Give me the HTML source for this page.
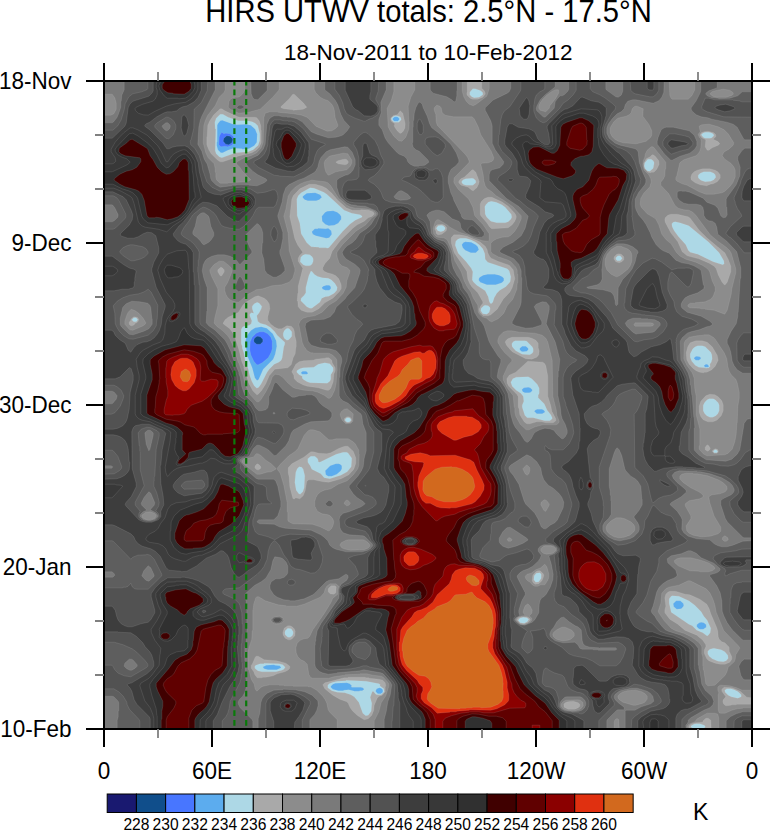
<!DOCTYPE html>
<html><head><meta charset="utf-8"><title>HIRS UTWV</title>
<style>html,body{margin:0;padding:0;background:#fff}svg{display:block}text{font-family:"Liberation Sans",sans-serif;fill:#000}</style></head><body>
<svg width="771" height="830" viewBox="0 0 771 830">
<rect width="771" height="830" fill="#fff"/>
<text transform="translate(428.5,22) scale(0.957,1)" font-size="30.5" text-anchor="middle">HIRS UTWV totals: 2.5°N - 17.5°N</text>
<text x="428.2" y="59.7" font-size="22.5" text-anchor="middle">18-Nov-2011 to 10-Feb-2012</text>
<g clip-path="url(#pc)"><clipPath id="pc"><rect x="104" y="81" width="648" height="648"/></clipPath>
<rect x="104" y="81" width="648" height="648" fill="#104E8B"/>
<path fill="#4876FF" fill-rule="evenodd" stroke="#d8d8d8" stroke-opacity="0.22" stroke-width="0.6" d="M104.2,81.2 104.2,728.8 751.8,728.8 751.8,81.2ZM256.2,336.8 257.8,336.2 260.2,336.8 262.8,339.2 262.8,341.8 260.2,344.2 256.8,344.2 254.2,342.2 253.8,340.8 254.2,338.8ZM226.8,135.8 230.2,136.2 232.2,138.2 232.8,139.8 231.8,142.8 228.8,144.8 225.8,144.2 223.2,141.2 223.8,138.2Z"/>
<path fill="#5CACEE" fill-rule="evenodd" stroke="#d8d8d8" stroke-opacity="0.22" stroke-width="0.6" d="M104.2,81.2 104.2,728.8 751.8,728.8 751.8,81.2ZM263.8,331.8 267.8,333.8 270.8,337.2 272.2,341.2 272.2,348.8 271.2,352.2 268.2,357.8 262.2,362.8 258.2,364.8 256.8,364.8 253.8,361.2 250.8,354.8 249.8,349.8 250.2,341.8 252.2,337.2 256.2,333.2 259.8,331.8ZM221.8,132.2 223.8,133.8 225.8,133.2 229.8,133.8 233.2,136.2 234.2,138.2 234.2,142.2 231.8,145.2 227.8,146.8 225.2,146.2 220.8,146.8 218.8,144.8 219.2,137.2 219.8,135.2Z"/>
<path fill="#ADD8E6" fill-rule="evenodd" stroke="#d8d8d8" stroke-opacity="0.22" stroke-width="0.6" d="M104.2,81.2 104.2,728.8 751.8,728.8 751.8,81.2ZM376.8,688.8 379.2,687.8 381.2,688.2 382.8,689.8 382.8,692.2 380.8,693.8 377.8,693.8 375.8,691.8 375.8,690.2ZM330.8,686.2 332.8,684.2 335.2,683.2 346.8,682.8 349.8,683.8 351.8,685.8 351.2,686.8 351.8,687.2 360.8,687.2 362.8,687.8 364.2,689.2 362.2,690.8 359.8,690.8 359.2,691.2 354.8,691.2 348.8,689.8 343.8,690.2 343.2,690.8 338.2,690.8 332.8,689.2 330.8,687.2ZM263.2,666.8 266.2,665.2 274.2,664.8 274.8,665.2 279.8,665.8 281.2,667.8 276.8,669.8 267.8,669.8 264.2,668.8 263.2,667.8ZM696.8,624.8 699.2,622.8 701.2,622.2 703.8,622.8 706.2,624.8 706.2,627.2 703.2,629.2 700.2,629.2 698.8,628.8 696.8,626.8ZM673.2,603.8 676.2,600.8 680.2,600.8 683.2,603.2 683.8,605.2 683.2,606.8 681.2,608.8 676.8,609.2 673.8,606.8ZM341.8,465.8 341.8,468.8 340.8,470.8 336.8,474.2 331.8,476.2 328.2,476.2 325.8,474.8 325.2,470.8 330.2,465.8 335.8,463.8 338.8,463.8 340.2,464.2ZM534.2,411.2 535.8,409.8 537.2,409.2 541.8,409.2 543.2,409.8 544.8,411.2 544.8,412.2 542.2,413.8 536.8,413.8ZM521.8,389.8 523.8,387.8 528.2,387.2 530.2,387.8 532.2,389.8 532.2,390.8 530.8,392.2 529.2,392.8 524.8,392.8 522.8,391.8ZM301.2,372.2 302.8,371.2 306.2,371.2 308.2,373.2 306.8,374.2 302.2,374.2 301.2,373.2ZM703.8,365.8 705.8,364.2 707.2,364.2 709.2,366.2 707.8,367.2 705.2,367.2ZM693.8,358.2 695.2,356.8 696.8,356.2 699.8,356.8 700.8,357.8 700.8,358.8 698.8,360.2 695.8,360.2ZM519.8,348.2 522.2,346.2 525.8,346.2 528.2,348.2 528.2,349.8 526.8,351.2 522.8,351.8 521.2,351.2 519.8,349.8ZM261.2,326.8 266.8,328.2 272.8,333.8 276.2,340.8 276.8,346.2 275.2,354.2 273.2,359.2 263.2,369.2 258.8,379.2 257.8,380.2 256.8,380.2 254.8,377.8 252.2,367.8 247.2,355.8 245.2,342.2 246.2,337.8 248.2,333.8 251.2,330.2 255.2,327.8ZM321.8,287.8 323.2,286.2 326.2,285.2 329.2,285.2 330.8,286.8 330.8,288.8 329.2,290.2 325.2,290.2 322.8,289.2ZM478.8,278.8 479.8,277.2 483.2,275.2 487.8,274.2 494.8,274.2 499.2,275.2 502.2,276.8 503.8,278.2 503.8,280.8 501.8,282.8 495.8,284.8 486.8,284.8 480.2,282.2 478.8,280.2ZM461.8,244.8 463.2,242.8 465.2,241.8 471.2,242.2 475.8,244.8 477.8,246.8 478.8,249.8 475.8,252.8 470.8,252.8 465.2,250.2 462.8,247.8ZM311.8,231.8 314.8,228.8 317.8,228.8 318.2,228.2 325.8,228.8 328.2,228.2 331.2,230.8 331.8,234.2 329.2,237.8 326.2,238.2 315.8,235.8 312.8,234.2ZM321.8,216.2 325.2,212.2 327.2,211.2 333.2,210.8 337.2,212.2 340.2,214.8 341.2,216.8 341.2,219.2 338.2,223.2 334.2,225.2 328.8,225.8 325.2,224.2 322.2,221.2ZM302.8,196.2 306.8,193.2 315.2,192.8 320.2,194.8 321.8,197.2 319.2,199.8 316.2,200.8 307.8,200.8 304.8,199.8 302.8,197.8ZM217.8,123.8 220.2,120.8 222.2,120.2 233.2,124.2 235.8,124.2 236.2,124.8 245.8,124.2 250.8,125.2 255.2,129.2 257.2,134.2 256.8,142.2 254.2,145.8 248.8,148.8 242.2,149.2 241.8,148.8 233.8,148.2 227.8,150.2 222.8,152.8 220.8,152.8 217.8,149.8 216.8,145.8 216.8,142.2 217.2,141.8 217.2,125.2ZM392.8,118.2 394.8,116.8 397.2,116.8 399.2,118.2 399.2,119.8 397.8,121.2 394.2,121.2 392.8,119.8Z"/>
<path fill="#A9A9A9" fill-rule="evenodd" stroke="#d8d8d8" stroke-opacity="0.22" stroke-width="0.6" d="M104.2,81.2 104.2,728.8 693.2,728.8 690.8,726.8 691.2,725.8 693.8,724.2 696.2,723.8 699.8,723.8 704.2,725.2 705.2,726.2 705.2,727.2 702.8,728.8 751.8,728.8 751.8,81.2ZM724.8,690.2 726.8,688.8 730.8,688.8 734.2,689.8 738.2,691.8 741.2,694.8 741.2,696.8 737.8,698.2 731.2,696.8 728.2,695.2 725.2,692.2ZM327.8,685.2 329.2,683.8 332.8,682.2 337.2,681.2 345.8,680.8 346.2,680.2 366.2,681.2 379.2,683.8 380.2,684.8 379.8,685.8 383.8,688.8 384.2,691.8 381.2,694.8 377.2,694.8 375.8,694.2 373.2,691.2 372.2,691.8 370.2,697.2 371.8,703.2 371.2,711.2 368.2,715.2 365.8,715.8 362.8,713.2 358.8,702.2 354.2,696.8 350.8,694.8 344.8,692.8 337.2,692.2 331.8,690.8 327.8,687.8ZM254.8,668.2 254.8,666.2 255.8,665.2 260.2,663.8 263.8,663.8 264.2,663.2 279.2,663.8 282.8,664.8 285.2,667.2 283.8,669.2 281.8,670.2 275.8,671.8 261.8,671.8 257.8,670.8ZM707.8,651.2 709.8,649.2 713.8,648.2 721.2,649.8 724.8,651.8 727.8,655.2 728.2,658.2 726.2,660.8 723.2,661.8 718.2,661.2 712.2,658.8 709.2,656.2 707.8,653.8ZM287.8,628.2 291.2,628.8 293.2,631.8 293.2,633.8 292.2,635.8 290.2,637.2 287.8,637.2 285.2,634.8 284.8,632.8 285.2,630.8ZM518.2,620.2 519.8,618.2 523.2,617.2 526.8,617.8 528.8,619.2 527.2,621.8 524.2,623.2 520.2,622.8ZM671.2,596.2 672.2,595.8 678.8,596.2 688.8,600.8 694.8,605.2 701.2,611.8 703.8,616.2 707.2,620.2 710.8,628.2 710.2,632.8 707.8,635.8 706.8,635.8 702.8,632.8 696.8,630.2 692.2,625.8 688.8,624.2 671.2,612.2 669.2,603.2 669.2,598.8ZM539.8,572.8 541.2,574.2 541.2,578.2 538.8,581.8 535.8,582.2 533.8,579.8 534.2,575.8 536.2,573.2ZM299.2,466.8 301.8,467.2 303.2,469.2 304.8,475.8 304.2,487.8 302.8,491.8 300.2,494.2 298.8,493.8 296.2,490.2 294.8,482.2 295.8,472.2 297.2,468.8ZM351.8,458.2 351.2,466.8 347.2,471.8 340.8,475.2 329.8,478.8 324.2,477.8 320.8,473.8 311.8,469.2 310.2,465.8 307.8,462.2 307.8,458.8 310.8,456.2 314.8,456.2 317.2,458.2 318.2,460.2 318.2,461.8 319.8,462.2 336.2,454.2 343.2,452.2 346.8,452.2 348.2,453.2ZM713.2,451.2 714.8,449.8 716.2,449.8 717.8,451.2 716.8,452.8 714.2,452.8ZM345.2,419.2 346.8,417.8 349.2,417.8 350.8,419.2 350.8,420.8 348.8,422.2 347.2,422.2 345.2,420.8ZM709.2,398.8 713.2,398.8 715.2,399.8 718.2,402.8 719.2,405.2 719.2,410.8 717.8,413.8 715.8,415.8 712.8,417.2 709.8,417.2 706.8,415.8 704.8,413.8 703.2,410.8 703.2,405.2 704.8,402.2 707.2,399.8ZM512.8,378.8 516.2,377.2 528.2,376.8 531.8,378.8 537.2,384.2 539.2,388.2 539.2,393.2 538.2,395.2 538.2,397.8 544.2,403.8 547.2,410.2 550.8,414.8 552.2,417.8 552.2,418.8 549.8,420.8 544.8,420.8 533.2,417.8 527.2,417.8 524.8,415.2 522.2,407.2 522.2,405.2 523.8,401.2 523.2,396.2 520.8,393.2 516.2,390.2 512.2,386.2 510.8,382.2ZM333.2,367.8 333.2,370.8 330.8,374.8 330.8,379.2 329.8,381.2 327.2,383.2 310.2,382.8 307.2,381.8 303.8,379.8 302.2,378.2 302.2,376.2 299.2,374.8 296.8,372.2 296.8,370.8 299.8,368.8 303.2,367.8 313.8,367.2 318.2,364.2 324.8,362.8 329.8,363.8ZM695.2,346.8 697.8,345.8 702.2,345.8 705.2,346.8 710.8,352.2 711.8,354.8 712.2,358.8 711.2,362.2 709.8,364.2 710.2,366.2 708.8,367.8 705.8,368.2 705.2,367.8 698.8,367.2 695.2,365.2 691.8,361.2 690.2,357.2 690.2,353.8 692.8,348.8ZM511.8,343.8 513.2,341.8 515.2,340.8 524.8,340.8 526.8,341.2 532.2,346.8 533.2,348.8 533.2,351.8 532.2,353.2 529.8,354.8 522.2,354.2 515.8,350.8 512.2,346.8ZM287.8,328.2 289.2,328.8 291.8,331.8 291.8,336.2 288.8,339.8 286.8,340.2 284.2,338.2 283.2,335.8 283.2,333.2 284.2,330.8 286.2,328.8ZM132.2,319.2 133.8,317.8 136.2,317.8 137.8,319.8 136.2,321.8 133.8,321.8 132.2,320.2ZM485.2,305.2 488.2,305.8 489.8,307.2 490.2,308.8 489.2,312.2 486.8,314.2 482.8,313.8 480.8,310.8 481.2,308.2 483.8,305.8ZM257.2,302.2 259.2,303.2 261.8,306.2 261.2,308.8 259.2,312.8 256.8,315.8 257.8,321.2 260.2,323.2 265.8,324.8 270.2,327.2 274.8,331.8 277.2,335.2 284.8,342.2 284.8,344.2 283.8,346.8 282.2,357.8 281.2,360.2 278.8,362.2 274.2,364.2 269.2,369.2 266.8,372.8 261.2,383.8 258.8,387.2 256.8,388.2 254.2,385.8 251.8,381.2 249.8,375.8 248.2,368.8 245.2,360.8 243.8,352.8 242.2,348.2 242.2,346.2 241.2,343.8 241.2,329.2 242.8,326.8 249.2,325.2 251.2,323.8 251.8,320.8 249.8,315.8 249.8,314.2 251.2,312.8 253.8,313.2 252.2,308.8 252.2,306.2 254.2,303.8ZM310.8,271.2 311.8,271.2 314.2,274.2 317.2,276.2 322.2,277.8 328.2,278.2 331.2,279.8 334.8,283.2 337.2,287.2 336.8,290.2 334.2,293.2 328.8,296.2 325.2,296.8 321.8,298.2 319.8,302.2 311.8,308.2 309.8,308.2 306.8,306.8 300.8,300.8 301.2,298.2 304.2,295.2 305.8,292.8 305.8,287.8 308.8,275.8ZM615.8,257.8 617.8,255.8 620.2,255.8 622.2,258.2 620.2,260.8 617.2,260.8 615.8,259.2ZM300.8,257.2 302.8,255.2 305.2,254.2 309.8,254.8 312.2,256.8 313.2,258.8 313.2,261.2 312.2,263.8 310.8,265.2 309.2,265.8 305.8,265.8 303.2,264.8 300.2,261.8ZM457.8,239.2 460.2,238.2 465.8,238.2 470.8,239.8 475.8,242.2 479.2,244.8 482.8,248.8 484.8,253.8 485.2,259.2 487.8,262.2 507.2,268.8 509.2,270.8 510.8,276.8 510.2,281.8 505.8,286.8 499.8,290.2 496.8,293.2 494.2,297.8 492.8,302.2 491.2,303.8 490.2,303.2 489.2,301.2 488.2,296.8 485.2,290.8 476.8,285.2 473.2,281.8 472.2,279.8 472.8,271.8 471.2,268.2 466.2,261.8 458.2,253.2 455.2,245.2 455.8,241.2ZM436.2,228.2 438.2,225.8 441.2,225.2 443.2,225.8 444.8,227.2 445.2,228.8 443.8,230.8 440.8,231.8 437.8,230.8ZM671.8,223.8 673.2,222.2 675.2,221.8 679.8,222.8 688.8,225.8 708.8,242.2 719.2,252.8 723.8,260.8 724.2,263.8 722.8,264.8 713.2,261.8 697.8,254.2 690.2,252.2 688.2,250.2 685.8,244.8 678.2,236.2 674.2,230.8 672.2,226.8ZM485.8,204.8 488.2,202.2 491.2,201.2 496.2,202.2 501.8,204.8 505.2,207.2 511.2,214.2 511.8,217.2 510.8,219.2 508.2,221.8 505.2,222.8 496.8,222.8 490.8,221.2 486.8,217.2 485.2,214.2 484.8,206.8ZM310.2,187.8 314.2,188.2 323.8,192.2 326.8,194.2 344.2,210.2 351.8,213.2 360.2,214.8 362.2,216.2 361.8,217.2 355.2,220.2 349.8,224.2 342.8,231.2 328.8,247.8 326.8,248.2 326.2,247.8 319.2,247.8 318.8,247.2 311.2,246.8 306.8,242.8 301.2,233.8 299.8,223.2 297.2,215.8 296.8,199.2 298.2,195.8 301.2,192.8ZM461.8,181.2 463.2,179.8 465.8,178.8 472.2,178.2 473.8,178.8 475.8,180.8 475.8,182.8 472.8,185.2 465.8,185.2 463.2,184.2 461.8,182.8ZM698.2,175.2 700.2,173.2 703.8,171.8 710.2,171.8 713.8,173.2 715.2,174.8 715.8,177.2 713.8,179.8 710.8,181.2 705.2,181.8 700.8,180.2 698.2,177.8ZM647.8,159.2 651.2,159.2 653.2,160.8 654.2,162.8 653.2,168.2 649.8,171.2 647.2,170.8 645.2,168.8 644.2,166.2 644.8,162.8ZM701.2,134.8 702.8,133.2 705.2,132.2 709.2,132.2 712.2,133.2 713.8,134.8 713.8,135.8 711.8,137.8 710.2,138.2 705.2,138.2 703.2,137.2ZM391.2,118.8 392.8,116.8 395.2,115.8 397.2,115.8 399.8,116.8 400.8,117.8 401.2,119.8 398.8,122.2 394.2,122.2 391.8,120.2ZM216.2,118.2 220.2,114.2 222.8,114.2 228.2,117.2 238.2,120.8 247.2,120.8 252.2,121.8 255.2,123.2 257.8,125.8 259.8,133.8 259.8,140.2 258.2,145.2 253.2,149.8 248.2,151.8 235.8,152.8 221.8,157.8 219.2,156.8 216.2,153.8 215.2,150.8 215.8,129.2 215.2,128.8 214.8,122.2ZM469.8,92.2 472.8,88.8 475.2,88.8 480.8,90.8 482.8,92.8 482.8,94.8 479.2,97.2 474.2,97.8 471.8,96.8 469.8,94.8Z"/>
<path fill="#8C8C8C" fill-rule="evenodd" stroke="#d8d8d8" stroke-opacity="0.22" stroke-width="0.6" d="M104.2,81.2 104.2,728.8 690.2,728.8 688.8,727.2 688.8,726.2 690.8,724.2 695.2,722.8 702.8,722.2 703.2,720.8 705.8,718.2 708.2,718.2 710.8,720.2 711.2,728.8 751.8,728.8 751.8,704.2 736.8,704.2 736.2,704.8 731.8,704.8 731.2,705.2 725.8,705.8 723.8,704.2 722.8,701.8 723.2,699.8 725.8,696.8 721.8,691.2 721.8,689.2 724.2,687.2 732.2,687.8 740.2,691.2 746.8,697.2 751.8,697.8 751.8,81.2 481.8,81.2 481.8,88.2 484.2,90.8 485.2,92.8 485.2,94.2 482.8,97.2 477.8,99.2 472.2,99.2 470.2,98.2 467.2,95.2 466.8,93.8 467.2,91.8 467.2,81.2ZM563.8,704.2 565.2,702.8 567.8,701.8 573.2,701.2 578.2,702.8 579.8,704.2 579.8,706.2 578.2,707.8 574.8,709.2 568.2,709.2 564.2,707.2ZM322.8,684.8 324.8,682.8 344.2,677.8 347.8,677.8 348.2,677.2 365.2,677.2 365.8,677.8 368.8,677.8 369.2,678.2 378.8,679.2 382.8,680.2 385.2,682.8 385.8,686.2 385.2,686.8 385.2,691.8 382.2,695.2 379.2,696.2 377.2,698.2 374.2,705.2 373.8,710.2 371.8,715.2 368.2,718.8 364.2,719.8 357.8,715.8 352.8,711.2 350.2,707.8 348.2,703.2 346.8,701.8 339.8,699.2 332.8,695.2 324.8,688.8ZM251.2,665.2 252.2,664.2 255.2,657.2 256.2,656.2 258.2,656.2 264.2,659.8 276.8,660.8 285.8,663.2 289.8,666.2 289.8,668.2 287.8,670.2 284.8,671.8 277.2,673.8 273.2,675.8 265.8,677.2 262.8,677.2 262.2,677.8 257.2,677.8 254.8,674.8 253.8,671.8 251.2,668.2ZM287.8,625.8 290.2,625.8 292.2,626.8 294.2,628.8 295.2,631.2 294.8,635.8 292.2,638.8 290.2,639.8 288.2,639.8 285.2,638.2 283.2,635.2 282.8,632.8 284.2,628.2ZM516.8,619.8 518.2,617.8 521.2,616.8 527.2,616.8 530.2,618.8 530.2,620.2 528.2,622.2 523.8,624.2 519.8,623.2ZM667.8,592.2 669.8,591.2 675.2,591.2 685.2,594.2 689.8,594.8 699.8,599.2 706.8,604.2 709.2,608.8 710.8,613.8 716.8,627.8 717.8,631.2 718.2,636.8 719.2,639.2 721.8,641.8 724.8,642.8 729.2,647.2 729.2,651.2 731.8,656.8 731.8,659.2 729.8,662.2 725.2,664.2 720.2,664.2 715.2,663.2 708.8,660.8 706.8,658.8 704.2,653.2 704.2,650.2 705.8,646.8 705.8,644.8 702.8,640.2 696.8,635.2 684.8,630.2 677.8,624.2 669.8,619.2 664.8,612.8 664.8,609.8 665.8,606.2 664.8,597.8 665.8,594.2ZM331.2,585.8 334.8,585.8 336.2,586.8 335.8,592.8 333.8,594.2 330.2,593.8 328.2,591.8 328.2,588.8ZM540.2,570.8 543.2,573.8 543.8,575.2 543.2,577.8 541.8,580.8 538.8,583.8 535.2,584.2 533.2,582.8 532.2,580.8 532.8,575.2 535.8,571.8 537.8,570.8ZM257.2,463.8 259.2,464.8 260.8,466.8 260.8,468.2 258.8,469.8 256.8,469.8 254.8,467.8 255.2,465.8ZM712.8,450.2 715.2,448.8 717.2,449.2 718.2,450.2 718.2,452.2 717.2,453.2 713.8,453.2 712.2,451.2ZM353.2,451.2 355.8,457.8 355.8,463.2 353.8,469.2 348.8,474.8 341.2,478.8 328.8,482.2 323.2,481.8 313.8,479.8 308.8,479.8 306.8,481.2 305.2,490.8 303.2,495.8 299.8,498.8 295.8,497.8 293.8,499.2 292.8,498.2 289.8,486.8 289.2,477.2 288.2,472.8 288.2,467.8 291.8,463.8 303.8,457.2 310.8,451.8 313.2,451.8 318.8,453.2 326.8,453.8 330.8,452.8 339.2,448.2 344.8,446.2 347.8,446.2ZM707.2,444.8 708.8,445.8 710.2,448.2 710.2,449.2 707.8,451.2 705.2,449.8 705.2,447.2ZM344.2,418.8 346.8,416.8 349.2,416.8 351.2,418.2 351.8,420.8 349.8,422.8 346.2,422.8 344.2,420.8ZM709.8,394.2 714.8,394.8 718.2,396.8 721.8,400.8 723.2,404.8 723.2,410.8 721.2,415.8 716.8,420.2 712.8,421.8 707.8,421.8 703.2,419.8 700.8,416.8 699.2,412.2 699.2,406.2 700.8,401.2 705.8,395.8ZM527.8,361.2 542.8,362.2 544.8,363.8 545.8,365.8 547.8,376.2 547.8,396.2 550.8,405.8 551.8,411.2 555.8,418.8 555.8,420.8 553.2,422.8 545.8,422.8 541.8,421.8 536.8,421.8 529.8,423.8 526.8,423.8 524.2,421.8 519.8,414.8 519.2,409.2 518.2,406.8 518.2,396.8 517.2,394.8 508.8,386.2 507.2,383.2 506.8,378.8 509.2,375.2 515.8,372.2ZM335.2,367.8 335.2,370.8 333.8,374.2 333.2,381.8 330.8,388.2 328.8,390.2 326.8,390.2 318.2,387.8 307.2,386.2 302.8,384.8 297.2,381.8 294.2,378.8 293.8,375.2 291.8,371.8 295.8,364.2 299.2,361.8 303.8,360.8 313.2,360.2 315.8,359.2 325.2,358.2 325.8,357.8 328.8,357.8 331.8,360.2 332.2,362.8ZM690.2,342.8 695.8,340.8 702.2,340.8 707.2,342.2 712.2,346.8 717.2,355.2 718.2,360.2 715.2,366.2 711.8,369.8 706.8,372.2 704.2,372.2 703.8,372.8 699.8,372.2 696.2,370.8 692.8,368.2 689.2,364.2 686.8,359.8 686.2,352.8 687.8,346.8ZM505.8,340.8 507.8,338.8 511.8,337.2 528.2,337.2 531.8,338.2 535.8,340.2 538.2,343.2 538.2,347.8 539.2,350.8 538.8,354.8 536.8,357.2 531.8,359.2 525.8,358.8 512.2,351.8 506.8,345.8 505.2,342.2ZM137.2,317.2 138.8,319.2 138.2,321.2 136.8,322.8 135.2,323.2 134.2,324.8 132.2,325.8 130.8,325.8 129.2,324.2 129.2,322.2 130.8,320.2 130.8,319.2 133.8,316.8ZM258.2,295.8 264.2,298.2 266.8,300.2 269.2,303.8 269.8,308.8 267.8,316.8 267.8,320.2 270.8,324.2 274.8,327.2 278.2,328.8 281.8,328.8 286.8,325.8 291.2,326.2 293.2,328.2 294.2,330.8 294.8,335.8 296.2,341.2 296.2,347.2 295.8,347.8 295.2,353.8 293.2,357.8 291.2,364.8 287.8,367.8 274.8,369.2 269.2,375.8 265.8,383.8 261.8,390.2 258.2,394.2 256.8,394.8 252.8,390.8 248.8,383.2 243.8,367.8 243.8,366.2 241.8,361.8 239.2,350.8 234.8,336.8 232.8,332.8 229.8,328.8 223.2,323.8 223.2,322.8 225.2,319.8 228.2,317.2 237.8,312.8 239.2,311.2 242.8,305.2 245.2,302.8 254.8,296.8ZM220.8,267.2 222.2,267.8 224.2,269.8 224.2,271.8 221.8,275.8 220.2,275.8 217.8,271.8 217.8,269.8ZM618.8,253.8 621.2,254.2 623.8,256.8 623.8,259.8 621.8,261.8 619.2,262.8 615.8,261.8 613.8,258.8 614.2,256.8 616.8,254.2ZM453.8,234.8 459.8,234.8 467.2,236.2 479.8,241.8 485.2,246.2 487.2,249.8 487.8,252.8 489.8,256.8 491.2,258.2 497.8,261.2 509.2,265.2 513.2,269.8 514.8,278.8 512.2,287.8 509.8,292.2 503.2,299.2 497.2,309.2 490.8,314.8 488.2,315.8 483.2,315.8 479.8,312.2 479.2,309.2 480.8,305.8 482.8,303.2 482.8,301.8 477.8,292.8 471.8,286.8 469.8,283.8 467.8,279.2 466.8,271.2 454.2,252.8 451.2,242.8 451.2,237.8ZM437.2,224.8 442.2,224.2 444.8,225.2 446.8,227.8 446.2,230.8 441.8,234.2 437.8,234.8 436.2,233.2 435.8,230.8 434.8,229.2 435.2,226.8ZM667.8,215.2 670.8,214.2 677.2,214.2 688.2,216.8 690.2,218.2 699.2,230.2 706.8,237.8 724.8,252.8 728.2,259.2 730.8,266.2 730.8,271.8 727.2,282.2 725.2,284.8 724.2,284.8 721.8,281.8 718.2,274.8 716.2,268.8 714.2,266.2 709.2,263.2 698.8,258.8 687.2,255.8 682.2,251.8 677.8,241.8 670.8,232.8 665.2,222.2 664.8,219.8 665.2,217.8ZM481.2,201.8 484.2,198.8 487.8,197.2 491.8,197.2 501.8,201.8 508.2,206.2 514.8,213.2 516.2,215.8 516.2,217.8 514.8,221.2 512.2,224.8 508.2,227.8 491.8,228.8 489.8,227.2 486.8,222.8 480.8,215.8 480.2,214.2 480.2,204.2ZM309.2,184.2 315.2,184.2 322.2,186.2 326.2,188.2 331.8,193.2 337.8,200.2 346.2,207.8 352.2,210.2 360.2,210.2 360.8,209.8 368.8,210.2 372.8,211.8 374.2,213.2 374.2,214.2 372.2,216.2 368.2,217.8 364.2,221.2 357.2,224.8 352.8,228.2 340.2,240.8 332.2,251.2 329.8,258.2 324.8,263.8 322.8,267.8 322.8,269.8 324.2,271.2 327.2,272.8 332.8,274.2 335.8,275.8 338.8,278.8 341.2,284.8 341.2,288.8 339.2,291.8 332.8,298.2 324.8,302.8 318.8,308.8 312.2,312.2 306.8,312.2 301.2,310.2 298.2,306.8 297.8,301.2 297.2,300.8 297.8,293.2 298.2,292.8 298.2,286.2 302.8,268.2 298.2,261.2 298.2,258.2 299.8,255.2 302.8,252.2 297.8,245.2 294.8,238.8 289.8,216.8 291.8,199.2 293.2,195.8 299.8,188.8ZM472.2,169.8 473.2,169.8 475.8,172.2 479.2,181.2 478.8,183.8 476.8,187.8 473.2,190.8 471.8,190.2 468.2,187.2 461.2,185.2 458.8,182.8 458.8,181.2 460.8,178.8 464.2,177.2ZM690.8,177.2 691.8,174.2 694.2,171.8 697.2,170.2 702.8,168.8 709.8,168.8 715.2,170.2 717.8,171.8 720.2,174.8 720.2,178.2 717.2,181.8 713.2,183.8 710.2,184.2 706.8,185.8 700.2,184.8 695.2,182.8 691.2,179.8ZM348.2,161.2 348.2,162.8 346.8,164.2 345.2,164.8 338.2,163.8 335.8,162.2 337.8,160.8 343.8,159.2 346.2,159.2ZM653.2,154.8 655.2,156.2 658.8,160.8 659.2,164.2 656.8,169.2 653.8,172.2 651.2,172.2 650.8,172.8 647.8,172.2 644.2,168.2 643.8,163.2 646.2,158.8 650.2,156.8 652.2,154.8ZM703.8,131.8 708.2,131.2 713.8,132.8 715.8,134.8 715.8,136.8 713.2,139.2 718.2,141.8 719.8,143.8 718.2,145.2 712.2,147.8 708.8,150.2 707.2,150.2 705.2,146.8 705.8,139.8 701.8,137.8 699.8,135.2 701.2,132.8ZM400.2,110.8 402.8,113.2 405.2,123.8 404.8,128.2 403.2,131.2 401.2,133.2 399.8,133.2 397.2,130.8 394.8,127.2 394.2,125.8 394.8,123.8 391.8,121.8 390.8,120.2 390.8,117.8 393.8,115.2 397.2,114.8ZM213.8,114.8 220.2,108.8 221.8,108.8 224.8,110.8 237.8,116.8 239.8,117.2 255.2,117.2 256.8,117.8 259.2,120.8 260.8,125.8 260.8,129.8 261.2,130.2 261.2,142.8 259.2,147.2 256.2,150.2 251.8,152.8 237.8,156.2 236.2,157.2 222.8,161.8 220.2,161.8 217.2,159.8 211.2,153.8 208.8,149.8 206.8,144.8 206.8,136.8 207.2,136.2 207.8,125.2 209.8,120.8ZM280.8,106.8 288.8,99.2 292.8,94.2 294.2,94.2 303.2,102.8 306.8,107.2 303.2,109.2 293.2,110.2 292.8,109.8 283.8,108.8 281.2,107.8Z"/>
<path fill="#7A7A7A" fill-rule="evenodd" stroke="#d8d8d8" stroke-opacity="0.22" stroke-width="0.6" d="M270.8,619.8 271.8,622.2 274.8,623.8 279.2,623.8 281.8,622.8 283.8,620.8 283.2,618.2 279.8,616.2 273.8,616.8ZM228.2,107.2 230.2,109.2 238.8,113.2 248.8,112.2 260.2,109.2 272.8,97.2 278.8,90.2 279.2,88.8 279.2,81.2 244.8,81.2 244.8,89.8 243.2,93.2 240.2,96.2 238.2,97.2 235.2,97.2 230.8,98.8 228.8,101.8ZM104.2,81.2 104.2,94.2 112.2,94.2 114.8,97.8 116.2,103.2 116.2,109.2 113.8,113.8 110.8,115.2 104.2,115.2 104.2,728.8 337.2,728.8 337.2,720.2 336.8,719.2 329.8,712.2 328.2,709.8 326.8,703.2 325.2,699.8 322.8,696.2 316.8,690.2 310.8,686.8 308.2,686.8 307.8,686.2 293.2,686.2 292.8,685.8 284.2,685.8 283.8,685.2 279.2,685.2 278.8,684.8 269.8,684.8 263.2,686.2 261.2,687.2 256.8,691.2 255.2,689.2 254.2,684.2 251.2,679.2 249.2,670.8 248.2,668.8 247.8,653.2 248.8,648.2 251.8,639.2 252.2,630.8 252.8,630.2 252.8,609.8 253.2,609.2 253.8,603.8 255.8,597.8 256.8,596.8 258.8,596.8 265.2,600.8 278.2,604.8 286.2,605.8 286.8,606.2 296.8,606.2 304.2,604.2 320.2,597.2 324.2,592.8 325.2,588.8 326.8,586.2 330.2,583.8 335.8,583.8 338.8,586.2 337.8,589.8 337.8,594.2 332.8,598.2 330.8,602.8 323.8,614.2 312.8,629.8 309.8,636.2 307.8,638.2 303.8,638.8 300.2,640.2 297.2,643.2 295.8,647.8 296.2,652.8 297.8,656.8 300.8,659.8 304.2,661.2 307.2,664.2 308.8,674.2 309.8,676.2 311.2,677.8 312.8,678.2 328.8,678.2 333.8,676.8 344.8,675.2 345.2,674.8 359.8,674.2 360.2,673.8 366.8,673.8 372.8,675.2 381.2,676.2 383.2,677.2 387.8,682.2 388.8,684.2 388.8,686.2 385.8,695.8 381.2,702.8 378.8,711.8 374.2,720.8 374.2,728.8 614.2,728.8 614.2,722.2 614.8,720.2 616.2,718.8 617.8,718.8 618.8,719.8 619.2,728.8 688.2,728.8 687.2,726.2 688.8,724.2 694.8,721.8 697.2,718.8 707.2,713.2 715.2,713.2 717.8,714.2 718.8,718.2 718.8,728.8 751.8,728.8 751.8,707.8 743.2,707.8 742.8,708.2 737.2,708.8 731.8,710.2 725.2,713.2 720.2,713.2 719.2,712.8 718.2,710.2 718.2,695.2 718.8,692.8 717.8,690.2 717.8,687.2 719.2,685.8 720.8,685.2 729.8,685.8 736.8,687.8 742.2,690.2 751.8,690.2 751.8,81.2 694.8,81.2 694.8,89.8 691.8,95.8 688.2,99.2 672.2,99.2 670.8,97.8 669.8,95.2 669.2,81.2 489.2,81.2 489.2,88.8 486.8,96.2 476.2,104.2 473.2,105.8 469.2,104.2 466.2,101.2 463.8,96.8 462.2,91.2 462.2,81.2 414.8,81.2 414.8,89.8 410.8,97.2 408.2,106.2 408.8,121.2 409.2,121.8 408.8,129.2 405.8,137.2 401.8,141.2 398.8,140.8 393.8,136.2 389.8,130.2 388.2,126.8 387.2,108.2 391.2,100.8 393.8,91.8 393.8,81.2 314.2,81.2 314.2,89.2 315.8,92.8 320.2,97.2 323.8,99.2 328.2,100.8 331.8,104.2 333.2,106.8 334.2,109.8 335.2,117.8 337.8,124.8 337.8,126.2 335.2,128.8 331.8,130.8 327.2,131.2 315.8,126.2 308.8,118.8 306.8,117.2 301.8,115.2 293.8,113.8 277.8,112.2 277.2,111.8 269.8,111.8 265.2,113.2 263.8,117.8 263.2,142.2 261.2,147.8 256.8,152.8 251.8,155.2 244.2,157.8 237.8,161.2 236.2,162.8 236.8,164.2 239.8,167.2 242.8,171.8 250.8,179.8 248.2,181.2 245.8,181.8 228.2,182.8 227.8,183.2 220.2,183.2 216.8,180.2 215.8,177.2 215.8,172.8 215.2,172.2 215.2,168.8 214.2,163.8 208.2,157.8 205.8,152.8 203.2,142.8 203.8,125.8 205.2,120.8 207.8,115.2 215.2,105.8 219.2,97.2 224.2,92.2 225.2,89.8 225.2,81.2ZM561.2,703.8 563.8,701.2 565.8,700.2 577.8,699.8 580.2,700.2 582.8,702.2 583.2,705.8 580.8,708.8 578.8,709.8 574.2,710.8 569.8,710.8 569.2,710.2 566.8,710.2 563.2,708.8 561.2,706.2ZM617.8,696.8 618.8,694.8 622.2,692.2 627.2,690.8 635.8,690.2 641.8,691.8 645.2,693.8 647.2,696.2 647.2,699.2 644.8,702.2 642.8,703.2 635.8,705.2 633.2,705.2 622.8,702.2 618.8,699.2ZM552.8,634.2 553.8,632.2 556.8,629.8 561.8,627.2 565.2,627.2 571.8,630.2 574.2,633.2 574.2,636.2 570.8,639.2 567.8,640.2 562.8,640.8 557.8,639.8 555.8,638.8 553.2,636.2ZM527.8,603.8 530.2,606.2 532.2,610.2 531.8,613.2 529.2,615.8 531.8,618.2 531.8,620.2 529.8,622.2 525.8,624.2 523.8,624.8 520.2,624.2 515.8,620.2 515.8,619.2 517.8,617.2 522.8,615.8 524.8,615.8 524.8,614.8 523.2,612.8 523.2,610.8 525.2,605.8ZM668.8,587.2 678.8,585.2 688.2,580.8 690.2,580.8 706.2,588.8 709.8,592.8 712.8,598.8 714.8,604.8 716.2,612.2 723.8,630.8 738.8,646.2 739.8,648.2 735.8,654.8 735.2,659.2 734.2,661.8 728.2,667.2 726.8,672.2 724.8,675.8 714.8,685.2 707.8,685.8 705.8,683.8 703.8,670.2 703.2,669.8 703.2,666.8 702.8,666.2 702.8,656.8 701.8,653.8 701.8,646.8 700.8,644.8 698.2,641.8 691.2,636.8 683.8,633.2 675.8,630.8 671.2,628.2 664.2,620.8 658.8,612.8 658.2,611.2 660.8,603.2 661.8,593.2 665.8,588.8ZM544.8,564.2 546.8,566.8 548.8,573.8 548.8,577.2 547.8,580.2 544.8,584.8 540.8,584.8 537.8,586.2 534.8,586.2 532.2,584.8 529.8,581.8 528.2,581.2 525.8,578.8 525.2,576.2 527.2,574.2 531.2,573.2 535.8,569.8 540.8,567.8ZM674.2,560.8 676.8,558.8 680.8,557.8 690.8,557.8 700.8,560.2 709.2,563.2 714.2,566.8 714.8,568.8 712.2,570.8 707.8,571.8 699.8,571.8 699.2,571.2 689.8,570.8 678.2,565.8 674.8,562.8ZM540.8,548.8 542.8,546.8 545.2,545.8 550.8,545.8 553.8,546.8 555.8,548.8 555.8,550.8 552.8,553.2 546.8,554.2 543.2,553.2 540.8,550.8ZM339.8,545.2 341.2,542.8 346.2,540.2 348.8,539.8 362.8,539.8 364.8,540.2 368.2,542.8 369.8,544.8 369.8,546.2 367.8,548.2 364.2,549.8 350.2,550.2 343.8,548.8 341.8,547.8ZM507.2,539.2 508.8,537.8 510.2,537.8 512.2,539.8 510.8,541.2 508.2,541.2ZM722.8,537.2 724.8,535.8 727.8,537.8 728.2,539.8 726.2,541.2 724.2,541.2 722.2,539.2ZM606.2,527.2 607.2,524.8 611.2,520.8 616.2,517.8 620.8,517.8 624.8,518.8 630.8,521.8 633.8,524.8 634.8,526.8 634.8,529.8 633.8,531.8 629.8,535.2 624.2,537.2 618.8,537.8 614.2,536.8 609.8,534.2 607.2,531.8 606.2,529.2ZM141.8,515.2 145.8,512.2 150.2,511.8 154.2,513.2 156.2,515.2 156.2,516.2 154.8,518.2 152.8,519.2 146.8,519.8 143.2,518.2 142.2,517.2ZM346.2,500.2 347.8,500.2 350.2,502.8 350.2,503.8 348.8,505.2 346.8,505.8 344.2,503.8 344.8,501.8ZM544.2,499.8 546.2,500.2 549.2,503.8 549.2,505.2 545.8,511.2 544.8,511.2 543.8,510.2 540.8,504.8 541.2,502.2ZM681.8,474.2 686.2,473.2 692.8,473.2 693.2,473.8 697.2,473.8 707.8,475.8 719.2,480.2 723.2,482.8 726.8,486.2 727.2,489.2 725.2,491.8 719.8,493.8 712.2,494.8 709.8,495.8 708.8,497.2 709.8,502.8 714.2,516.2 720.8,527.2 720.8,531.2 718.2,533.8 710.2,536.2 701.2,536.8 693.2,535.2 689.2,533.2 686.8,530.8 686.2,525.8 690.8,518.8 690.8,515.8 685.2,505.8 685.2,503.8 689.2,500.8 699.8,498.8 702.8,497.2 703.2,495.8 701.8,493.8 698.8,491.8 690.8,487.8 682.8,482.2 679.8,478.8 679.8,476.2ZM526.2,465.2 527.2,465.2 529.8,467.8 529.8,470.8 528.8,473.8 527.2,475.2 525.2,473.8 522.8,468.8ZM241.8,460.8 243.8,458.8 253.2,457.2 256.2,453.8 258.2,453.8 261.2,455.8 265.8,460.2 271.2,463.8 275.8,468.2 275.8,469.2 271.2,471.8 266.8,472.2 260.2,474.2 256.8,474.2 244.8,464.8 242.2,462.2ZM310.2,429.8 313.2,429.8 319.8,431.8 328.8,439.8 332.2,439.8 336.2,438.8 348.2,438.8 353.2,441.8 355.2,443.8 358.8,450.2 358.8,453.8 359.2,454.2 358.8,465.2 357.8,468.8 353.8,474.2 347.2,480.8 338.2,484.2 330.8,488.8 324.2,490.2 320.8,491.8 317.8,494.2 315.8,497.8 314.8,501.2 314.8,506.2 316.8,510.2 318.2,511.8 322.2,513.8 328.2,514.8 330.2,515.8 332.8,518.8 333.8,521.8 333.2,524.8 331.8,528.2 329.2,530.8 328.2,530.8 320.2,526.8 312.2,524.2 292.8,523.8 288.2,521.2 287.8,519.8 287.8,512.2 287.2,511.8 287.2,502.8 283.8,485.2 280.2,473.2 277.2,469.2 277.2,468.2 280.8,463.8 288.8,455.8 294.8,451.8 297.8,448.8 304.2,435.2 308.2,430.8ZM344.2,409.2 347.2,408.8 353.2,413.8 352.8,421.2 350.8,423.2 345.8,423.8 342.2,420.2 340.2,415.2 340.2,413.8 341.2,411.8ZM689.2,337.2 696.8,335.8 703.2,335.2 703.8,334.8 708.8,334.8 713.2,337.2 715.2,339.2 724.2,352.8 726.8,358.8 727.8,366.2 729.2,371.2 731.2,374.8 735.8,379.2 737.2,382.8 739.2,392.2 739.2,398.2 737.8,406.2 737.2,423.2 736.8,423.8 736.2,434.2 734.8,441.8 732.2,449.2 728.2,453.2 724.8,454.8 706.8,455.8 703.2,453.8 699.2,449.2 699.2,445.8 699.8,445.2 699.8,428.8 696.2,414.8 696.2,396.2 694.8,388.8 694.2,378.2 692.2,372.8 686.8,365.2 683.8,358.8 684.2,343.2 685.2,340.8ZM503.2,332.2 507.2,330.8 511.8,330.8 519.2,332.2 534.8,333.2 542.2,335.2 545.8,338.2 547.8,342.2 552.2,360.2 552.8,396.2 556.2,409.8 556.8,415.2 559.2,421.2 558.8,422.8 557.2,424.2 555.8,424.8 542.8,424.8 535.2,426.8 528.8,429.8 526.2,429.8 520.2,424.2 515.8,416.2 514.8,412.2 514.8,407.8 514.2,407.2 513.2,395.8 507.2,387.8 503.2,379.8 503.2,376.2 508.2,365.2 511.8,361.2 511.8,359.2 504.8,352.8 501.2,348.2 497.8,342.2 497.8,340.2 499.2,336.2ZM633.8,324.8 635.2,322.8 650.2,322.8 652.8,323.2 653.8,324.2 652.8,325.8 650.8,326.2 635.2,326.2ZM131.2,309.2 135.2,310.8 138.8,313.2 143.2,318.2 145.8,322.8 145.2,324.2 143.2,325.8 132.8,330.2 129.8,329.8 124.8,324.2 124.8,321.2 126.8,315.2 128.2,312.2ZM620.8,246.2 628.2,249.2 630.8,251.8 631.8,254.8 631.8,261.2 630.2,265.8 627.8,269.2 620.8,274.8 617.2,276.8 616.2,276.8 611.2,274.2 606.8,269.8 605.2,265.2 605.2,259.2 607.2,254.2 611.8,249.2 616.8,246.2ZM325.2,181.8 327.8,182.8 330.8,185.8 338.2,197.8 346.8,205.2 349.8,206.8 355.2,208.2 365.8,208.8 370.8,209.8 374.2,211.2 376.2,213.2 375.8,215.2 371.8,217.8 365.8,224.8 355.8,231.2 342.8,244.2 337.2,251.8 336.8,253.2 337.2,257.2 339.2,263.2 341.8,265.8 347.2,267.8 349.8,270.2 349.8,272.2 346.8,280.8 346.2,287.2 343.2,293.2 336.2,300.8 328.8,305.2 322.2,312.2 314.8,315.8 307.8,316.8 303.2,318.2 300.2,320.8 298.8,324.2 302.2,342.2 303.8,346.2 307.2,350.8 310.8,352.8 313.2,352.8 313.8,353.2 328.8,353.2 332.8,355.2 335.8,358.2 336.8,360.2 337.2,371.2 336.8,371.8 336.2,382.8 334.8,389.8 331.8,396.2 329.8,398.2 328.2,398.2 324.2,395.2 317.8,392.2 312.2,390.8 304.2,390.2 294.8,388.2 292.8,387.2 288.2,383.2 282.2,376.8 278.8,374.8 275.2,374.2 272.2,377.2 270.2,383.2 266.2,391.2 260.8,399.8 258.8,401.8 256.8,401.8 250.2,394.8 246.8,388.2 244.8,382.8 243.2,375.8 239.2,363.8 238.2,362.2 234.2,348.8 229.8,338.8 227.8,335.8 222.8,330.8 216.8,326.2 214.2,323.2 214.8,317.8 217.8,305.8 217.8,288.8 211.8,276.8 209.8,271.2 209.8,269.8 213.8,264.8 219.2,261.2 222.8,261.2 224.8,262.2 230.8,267.2 232.2,269.8 232.2,271.2 227.8,282.2 224.8,287.2 224.8,290.8 225.8,294.2 227.8,297.8 230.8,300.2 236.2,302.2 238.8,302.2 247.2,294.8 256.2,289.8 262.8,288.8 271.8,285.8 281.8,284.8 289.2,282.2 292.8,278.2 294.8,271.2 294.8,268.2 289.2,250.8 288.2,233.2 283.8,216.2 285.8,209.2 288.2,196.2 291.2,191.2 295.2,187.2 299.8,184.2 304.2,182.2 311.8,180.2ZM347.8,153.8 351.8,160.2 351.8,163.2 350.2,166.2 346.8,169.8 335.8,171.8 328.8,175.2 327.8,174.8 325.8,171.8 324.8,168.2 324.2,162.8 325.2,160.2 328.8,156.8 330.8,155.8 343.2,153.2ZM651.2,146.8 653.2,146.8 665.8,162.2 665.8,168.8 665.2,169.2 664.8,175.8 663.2,179.2 660.8,182.2 660.8,185.2 668.8,193.8 674.8,205.2 678.2,208.2 683.8,209.8 688.8,210.2 692.8,212.2 695.8,215.2 710.2,234.8 717.8,241.2 726.2,247.2 729.8,250.8 731.2,253.2 735.8,268.8 735.8,272.8 731.8,288.8 731.2,294.2 727.2,310.2 724.8,314.2 714.2,310.2 705.2,309.2 704.8,308.8 700.8,308.8 700.2,308.2 689.8,307.8 688.2,306.8 687.8,305.8 688.2,304.8 690.2,303.2 694.8,303.2 695.2,302.8 705.2,301.8 710.8,299.2 713.2,296.2 715.2,290.8 715.2,287.2 712.2,280.8 709.8,272.2 708.8,270.2 706.2,267.8 702.2,265.2 695.8,262.2 685.8,259.2 680.2,256.2 676.2,252.2 671.2,243.8 666.2,239.8 661.8,234.2 658.8,224.8 656.2,219.8 654.2,217.8 647.2,213.8 641.2,207.2 640.2,204.2 640.8,198.2 643.8,193.2 649.8,186.8 651.2,182.2 650.8,178.8 648.8,174.8 644.2,170.2 642.8,165.2 643.2,160.8 644.8,157.2 645.2,154.2 647.2,150.2ZM701.8,124.8 709.2,124.2 718.2,126.8 724.2,129.8 728.2,133.8 733.8,142.8 733.2,145.2 728.8,149.2 723.8,152.2 722.2,155.8 724.8,159.2 730.8,163.2 733.8,166.8 735.2,170.2 735.2,176.8 732.8,182.8 729.2,187.2 724.2,191.8 721.8,192.8 713.8,194.2 705.8,194.2 699.2,191.8 687.2,185.2 682.2,183.8 677.2,181.2 675.8,179.8 675.8,177.8 676.8,175.8 679.8,162.8 683.8,159.8 695.8,155.8 697.8,154.2 699.8,151.2 700.8,147.8 701.2,141.2 700.8,138.8 699.2,137.2 698.2,134.2 700.2,131.8 699.2,126.2ZM643.2,108.8 642.8,116.2 648.8,124.2 651.8,130.8 651.8,134.8 650.8,137.2 646.2,141.2 636.2,143.8 623.2,142.8 618.2,141.2 614.8,139.2 612.2,136.8 610.2,132.8 610.2,127.8 613.8,121.8 617.8,118.2 626.2,116.2 629.2,114.8 631.2,112.8 632.2,108.8 634.8,106.2 637.2,106.2ZM436.8,105.2 439.8,106.2 441.2,107.8 442.2,112.8 445.2,115.2 453.2,116.8 472.2,116.8 474.2,118.8 478.2,126.8 480.8,134.8 491.2,151.2 493.8,157.8 493.2,160.2 492.2,161.2 488.2,162.8 481.8,163.2 480.8,164.2 483.2,174.8 483.8,180.8 485.2,185.8 487.2,188.8 491.2,191.2 496.2,195.8 505.2,201.2 512.8,206.8 521.2,215.8 521.2,218.8 518.2,225.8 514.8,231.2 510.2,235.8 508.2,236.8 502.2,237.2 496.8,238.8 493.2,240.8 490.8,243.2 490.8,251.2 491.8,253.2 498.2,256.8 508.2,260.2 510.8,261.8 515.8,267.2 517.2,270.2 517.2,273.8 517.8,274.2 517.8,282.8 517.2,283.2 516.8,289.2 512.8,299.2 507.2,305.8 503.8,313.2 498.2,318.8 491.8,321.8 489.2,320.8 486.8,318.2 482.2,316.8 479.2,313.8 478.2,311.8 477.8,305.2 473.2,297.8 470.8,291.8 467.2,286.8 464.2,280.8 461.2,271.8 454.8,260.8 451.8,250.2 447.2,239.8 443.8,237.8 437.8,237.2 435.8,236.2 433.8,233.8 433.2,228.2 435.2,221.8 436.8,219.8 438.8,219.8 447.8,225.2 449.8,227.2 459.2,232.2 468.8,235.2 473.8,237.8 482.8,240.8 488.2,241.2 489.2,240.2 489.2,233.8 483.2,224.8 474.8,215.8 472.8,207.2 468.8,199.2 458.2,189.2 454.2,183.2 453.8,181.8 454.2,177.8 468.8,162.8 469.2,161.2 467.8,157.8 465.2,154.2 437.2,125.2 436.2,121.8 435.8,114.2 434.2,110.2 434.2,107.8ZM558.2,89.8 558.8,90.2 558.8,92.8 555.8,98.2 549.8,105.8 549.2,108.2 545.8,111.8 540.2,110.2 538.8,108.2 538.8,106.2 540.2,102.8 542.8,99.2 546.8,95.2 552.2,91.2 555.8,89.8ZM733.2,92.8 733.2,94.2 732.2,95.2 726.2,97.2 716.8,97.2 712.8,96.2 710.2,94.2 710.2,93.2 712.8,91.2 723.2,89.2 729.8,90.2Z"/>
<path fill="#5E5E5E" fill-rule="evenodd" stroke="#d8d8d8" stroke-opacity="0.22" stroke-width="0.6" d="M751.8,711.8 742.8,711.8 736.2,713.8 730.2,716.8 726.2,720.8 726.2,728.8 751.8,728.8ZM262.2,698.8 260.8,702.8 259.8,713.2 258.2,718.8 258.2,728.8 309.8,728.8 309.8,720.8 310.2,719.2 314.8,714.2 316.8,710.2 318.2,705.2 317.8,700.8 312.2,695.2 304.8,691.8 295.2,689.8 283.2,689.2 282.8,689.8 273.8,690.2 267.2,693.2 264.8,695.2ZM744.2,659.2 741.2,661.8 738.8,666.2 740.8,675.2 743.2,679.2 744.8,679.8 751.8,679.8 751.8,659.2ZM272.2,619.2 272.8,621.8 276.2,623.2 279.8,622.8 282.2,620.8 282.2,618.8 280.2,617.2 274.8,617.2ZM328.8,500.2 325.2,503.8 327.2,506.2 330.2,506.8 332.8,504.8 332.8,503.2 330.8,500.8ZM239.8,276.2 237.8,279.2 235.2,286.2 235.2,288.8 238.8,291.8 242.8,289.8 245.2,287.2 244.2,283.2 241.8,278.2ZM744.8,148.2 741.8,150.8 737.8,156.8 737.8,159.8 740.2,167.2 739.8,175.8 736.2,184.8 726.8,197.8 726.2,199.2 726.2,206.8 726.8,207.2 727.2,214.8 725.8,217.2 723.2,217.8 720.8,215.8 717.8,208.2 714.8,205.2 706.8,202.2 703.2,198.2 689.8,192.2 685.8,191.2 681.8,191.2 681.2,190.8 678.2,191.2 677.2,192.8 677.2,197.2 679.2,200.2 683.8,203.2 688.8,204.2 696.2,204.2 700.8,205.2 702.8,207.2 703.8,211.8 703.8,215.2 705.8,218.8 708.8,220.8 712.2,221.2 715.2,223.2 716.8,227.2 717.8,234.2 726.8,241.2 736.8,251.8 740.8,267.8 740.8,278.2 740.2,278.8 738.2,312.2 737.8,312.8 737.8,316.2 736.2,323.8 731.2,331.2 727.2,339.8 727.2,343.2 729.2,347.2 730.8,352.2 732.2,361.2 734.2,365.8 737.2,369.8 742.8,373.2 751.8,373.2 751.8,148.2ZM661.2,129.8 658.2,137.2 657.2,141.2 657.2,144.2 664.2,153.8 670.8,160.2 672.2,160.2 680.2,156.2 689.8,153.2 694.8,149.2 696.8,145.8 696.8,141.2 694.2,135.2 689.2,130.8 673.2,127.2 666.2,127.2 664.2,127.8ZM236.8,107.2 237.8,108.8 240.2,109.2 243.2,108.2 244.2,106.8 241.8,105.2 238.8,105.2ZM700.8,81.2 700.8,90.8 700.2,92.8 696.2,100.8 691.2,107.8 691.2,109.2 692.2,111.2 696.2,114.8 701.2,116.8 707.8,117.8 711.8,119.2 726.8,122.2 733.2,124.2 737.2,127.2 743.8,139.2 744.8,139.8 751.8,139.8 751.8,91.8 742.2,91.8 737.8,95.8 729.8,98.2 718.8,98.8 718.2,98.2 711.8,97.8 707.2,95.8 705.8,94.2 705.8,93.2 708.8,90.8 716.2,88.2 717.2,87.2 717.2,81.2ZM430.2,81.2 430.2,89.2 430.8,90.8 433.2,93.2 446.8,96.8 451.8,99.8 453.8,101.8 454.8,101.8 455.8,100.8 456.8,95.8 456.8,90.8 457.2,90.2 457.2,81.2ZM267.2,81.2 250.8,81.2 251.2,93.8 252.8,97.8 254.2,99.2 257.8,99.8 266.8,90.8 267.2,89.8ZM124.2,81.2 124.2,89.8 121.8,95.2 121.2,101.2 120.8,101.8 120.8,107.2 118.2,114.8 116.8,117.8 113.2,122.2 112.2,122.8 104.2,122.8 104.2,204.8 111.8,204.8 112.8,205.2 114.8,207.8 118.2,214.8 117.8,217.2 114.2,220.8 112.2,221.8 104.2,221.8 104.2,391.2 112.2,391.2 114.2,392.2 117.2,395.8 116.2,399.2 112.8,403.2 111.8,403.8 104.2,403.8 104.2,465.8 111.2,465.8 112.8,466.8 111.8,468.2 104.2,468.2 104.2,571.8 112.2,571.8 114.2,573.8 114.8,575.2 112.8,577.2 104.2,577.2 104.2,696.2 112.2,696.2 113.8,696.8 118.2,701.2 118.8,702.8 118.8,710.8 118.2,711.2 118.2,716.8 117.2,720.2 117.2,728.8 252.8,728.8 252.8,721.2 252.2,719.8 240.2,707.8 238.2,703.8 238.2,701.8 239.2,699.8 242.8,696.2 244.8,692.2 246.2,687.2 246.2,679.8 245.8,679.2 245.8,672.2 245.2,671.8 245.2,661.2 244.8,660.8 244.8,647.8 246.2,641.8 247.2,626.2 246.8,625.8 246.8,609.8 246.2,609.2 246.2,601.8 245.2,597.8 245.2,593.8 254.8,585.2 261.2,581.8 265.8,578.2 270.8,569.8 272.8,560.8 274.8,556.8 280.8,557.8 282.8,558.8 286.2,562.2 287.8,566.2 287.8,572.8 286.8,574.8 284.2,577.2 279.8,578.8 275.8,578.8 271.2,581.8 269.8,585.8 270.2,589.2 273.8,594.8 277.2,597.2 283.8,599.8 289.2,600.2 289.8,600.8 294.8,600.8 304.2,598.8 312.8,594.8 314.8,593.2 326.2,581.8 329.2,580.2 338.8,578.8 345.8,574.2 347.8,575.2 348.2,577.2 346.8,580.2 341.2,584.2 339.8,586.8 338.8,589.8 338.8,592.8 339.2,593.2 338.8,598.2 321.2,623.2 317.2,630.8 315.8,638.2 315.8,641.2 315.2,641.8 315.2,645.2 314.8,645.8 314.8,663.8 315.2,666.2 316.2,668.2 319.2,671.2 322.2,672.8 328.2,674.2 336.8,673.2 337.2,672.8 359.8,670.8 363.8,669.8 380.8,672.8 383.2,673.8 390.2,681.8 391.8,684.8 390.2,695.2 387.8,701.8 386.2,711.8 384.2,719.2 384.2,728.8 606.8,728.8 606.8,720.8 607.2,719.8 616.8,710.2 617.8,709.8 623.8,709.8 624.2,709.2 624.2,707.2 618.8,703.2 615.2,699.8 614.2,697.8 614.2,696.2 615.2,694.2 619.2,691.2 621.8,690.2 631.2,688.2 637.2,688.2 647.2,691.2 650.2,693.2 652.8,696.2 653.8,701.2 650.8,703.8 641.2,706.8 634.8,710.2 626.2,710.2 625.2,711.2 625.2,728.8 686.2,728.8 685.8,725.2 687.2,723.8 688.2,721.8 688.2,720.2 690.8,717.8 703.8,710.2 709.8,707.8 712.8,704.8 713.8,701.2 711.8,696.2 705.2,690.2 701.8,684.2 699.8,671.2 698.8,668.2 698.8,665.8 698.2,665.2 698.2,648.2 694.2,643.2 687.8,638.8 680.8,635.2 668.2,631.2 665.2,629.8 661.8,626.2 656.8,619.8 654.8,616.2 651.8,612.8 651.2,610.8 653.2,605.8 656.8,591.8 659.2,587.2 662.8,583.8 667.2,580.8 673.8,578.2 676.2,576.8 677.2,575.2 675.8,570.2 667.8,562.8 667.2,558.8 671.2,555.8 681.2,553.8 688.2,550.8 690.8,550.8 696.2,553.2 701.2,557.8 713.8,563.2 719.8,568.2 720.2,569.8 719.2,571.2 716.8,572.8 709.8,574.8 709.8,576.2 716.8,585.8 720.2,592.8 721.8,600.8 722.2,611.2 723.8,615.8 727.2,622.8 732.2,629.8 741.8,639.2 743.2,640.2 751.8,640.2 751.8,540.8 742.8,541.2 732.8,545.2 726.8,546.8 722.2,546.8 718.2,545.8 714.2,543.8 709.8,539.8 696.8,538.8 688.2,536.2 683.8,532.8 681.8,529.2 682.2,519.8 681.2,517.2 677.2,511.2 670.2,504.8 670.2,503.8 671.8,502.2 681.2,496.8 686.2,492.2 686.2,490.8 685.2,489.2 676.8,482.2 673.2,478.2 672.2,475.2 674.8,472.2 679.2,470.8 696.8,471.2 697.2,471.8 700.2,471.8 710.2,473.8 721.8,477.8 729.2,482.2 732.2,485.2 734.2,489.2 734.2,490.8 733.2,492.8 731.2,494.8 722.8,498.8 720.8,500.8 720.8,504.8 725.2,518.2 727.2,521.8 742.8,537.2 743.8,537.8 751.8,537.8 751.8,418.2 747.2,419.2 744.2,423.2 739.8,449.8 737.2,454.2 731.8,459.2 725.8,461.2 706.2,459.8 699.2,455.2 694.8,450.8 694.2,449.8 694.2,428.2 694.8,427.8 694.2,417.8 693.8,417.2 692.2,395.8 691.8,395.2 690.8,385.2 690.2,384.8 690.2,380.2 688.2,373.2 680.8,359.8 680.2,341.2 682.2,337.8 687.2,333.2 690.8,331.8 699.2,329.8 706.8,326.8 709.8,326.2 712.2,324.8 712.2,323.2 709.2,320.8 701.2,316.2 687.2,312.2 682.2,308.2 681.2,306.8 681.2,303.8 682.8,300.8 685.2,297.8 688.8,295.8 697.8,292.8 703.8,288.8 704.2,286.2 703.2,284.2 701.2,270.8 699.2,268.8 693.8,265.8 688.2,263.8 681.8,262.8 675.8,260.2 669.2,253.2 663.2,250.8 660.2,248.8 656.2,244.8 651.8,237.2 650.2,232.8 646.2,224.8 643.2,220.2 638.8,215.2 636.2,210.2 635.2,206.8 635.2,199.2 638.8,192.2 644.8,184.8 645.8,182.2 645.8,179.2 642.2,171.2 639.2,162.2 638.2,152.2 637.2,150.2 635.2,148.8 620.2,145.2 615.2,143.2 609.2,138.2 606.8,133.2 606.8,128.2 608.2,124.2 612.2,118.8 617.2,113.8 621.2,111.8 624.2,108.8 625.2,104.8 627.8,101.2 632.8,99.8 635.8,99.8 653.2,103.2 658.8,100.8 661.8,97.2 663.8,92.2 664.2,81.2 622.8,81.2 622.8,91.2 621.2,95.2 618.2,97.2 615.8,96.8 606.2,89.8 605.8,88.8 605.8,81.2 568.8,81.2 568.8,89.2 567.8,91.2 564.2,94.8 562.2,95.8 560.2,95.8 557.8,98.2 555.2,101.8 554.2,108.2 545.2,117.2 543.2,116.8 536.8,110.8 536.2,108.8 536.8,106.2 540.2,99.8 545.8,94.2 554.8,87.2 555.2,86.2 555.2,81.2 510.8,81.2 510.8,88.2 509.2,91.8 507.2,93.2 492.8,100.2 485.2,107.8 485.2,110.2 490.8,120.8 492.2,125.8 492.2,143.2 495.2,149.8 503.8,161.8 503.2,164.2 499.8,167.8 492.2,169.8 490.2,171.2 489.2,174.8 489.2,180.8 506.2,198.2 519.2,206.8 528.2,216.2 525.2,228.2 521.2,235.8 513.2,242.2 503.2,247.2 499.8,250.8 499.8,251.8 500.8,252.8 513.8,258.8 518.8,264.2 521.2,270.8 521.2,277.2 521.8,277.8 521.2,302.2 520.2,306.2 512.2,321.8 512.2,323.8 515.8,325.8 525.8,328.2 532.8,327.8 540.8,325.2 541.8,324.2 541.8,321.8 534.2,306.8 536.2,304.2 542.2,301.8 546.2,302.2 549.2,305.8 549.2,309.8 546.2,323.8 555.2,341.8 559.8,359.2 558.8,370.8 558.2,371.2 558.2,377.2 557.8,377.8 557.8,395.2 560.2,406.8 561.2,415.2 562.2,418.8 565.2,424.2 567.2,430.2 567.2,433.2 565.2,436.8 563.2,438.8 561.8,438.8 556.8,434.2 553.8,430.2 549.8,428.8 544.8,428.2 539.8,429.8 535.8,431.8 533.8,433.8 531.2,438.8 527.8,442.2 526.8,442.2 524.8,440.8 519.8,432.8 515.2,427.2 513.2,423.2 510.8,414.8 509.2,400.2 507.8,393.2 504.8,387.2 500.8,381.2 497.8,378.2 497.2,376.8 498.2,370.2 500.8,362.2 500.8,359.2 497.8,355.8 490.8,344.8 488.8,340.8 484.2,326.2 482.2,322.8 477.8,317.8 474.8,312.8 470.2,298.8 467.8,293.8 463.2,287.8 462.2,284.2 459.2,278.2 457.2,275.8 453.2,268.2 451.8,262.8 450.8,253.8 447.8,245.8 445.2,242.2 443.8,241.2 437.2,239.2 434.2,237.2 431.2,233.2 430.2,221.8 426.8,215.2 429.2,212.8 432.2,211.2 436.2,210.2 438.8,210.2 444.2,211.8 452.2,218.8 458.8,221.2 460.2,223.2 460.8,227.2 461.8,229.2 465.8,232.8 471.8,235.8 477.2,237.2 481.8,237.2 484.2,235.2 484.2,232.8 480.2,227.2 473.8,220.8 471.8,219.8 464.2,219.2 462.2,217.8 461.2,215.8 461.2,214.8 453.8,200.2 453.2,197.8 450.8,192.8 448.2,182.2 448.2,177.2 449.2,173.2 451.2,169.2 455.8,165.8 458.8,162.2 458.8,159.8 456.2,152.8 450.8,144.2 440.2,134.2 431.8,127.8 429.8,124.2 427.2,116.2 423.2,107.8 422.2,104.2 420.2,102.2 419.2,102.2 417.8,103.8 415.8,107.8 414.2,113.8 413.8,120.2 413.2,120.8 413.2,127.2 412.8,127.8 412.8,142.2 412.2,143.8 413.2,147.2 415.8,149.8 419.2,151.2 428.2,160.2 428.8,162.2 424.8,165.2 419.2,165.8 418.8,166.2 414.2,166.2 410.2,164.2 407.8,161.8 406.8,158.8 404.2,156.2 399.2,154.2 396.2,151.8 388.2,142.8 385.2,138.2 382.2,129.8 378.8,125.2 378.8,119.8 381.2,112.8 380.8,102.2 386.2,89.8 386.2,81.2 324.8,81.2 324.8,89.2 325.2,90.2 329.8,93.8 335.2,100.2 337.8,104.8 340.8,114.2 343.8,120.2 349.8,126.8 347.2,130.8 343.2,134.8 341.2,135.8 335.8,137.2 328.2,137.8 316.8,134.2 311.2,131.8 302.2,121.8 296.8,118.8 290.8,117.2 287.2,117.2 286.8,116.8 283.2,116.8 278.8,115.8 274.2,115.8 271.2,117.2 269.2,119.2 266.8,124.8 265.2,144.2 263.2,149.2 258.2,155.2 247.8,160.2 245.8,162.2 245.8,163.2 247.8,166.2 252.8,171.2 257.8,174.8 265.8,178.8 266.8,179.8 266.8,180.8 264.2,182.8 257.2,185.8 248.8,185.2 248.2,184.8 236.8,184.8 236.2,185.2 232.2,185.2 231.8,185.8 220.2,187.2 215.8,184.8 211.8,180.8 210.8,178.8 210.2,174.8 207.2,164.2 204.2,159.2 201.8,151.2 197.8,144.2 198.8,127.2 200.2,120.2 201.8,116.2 215.2,89.8 215.2,81.2ZM559.8,703.2 561.2,700.8 564.8,697.2 566.8,696.8 580.2,696.8 582.2,697.8 584.8,700.2 585.8,702.8 585.8,704.8 584.2,708.2 581.8,710.2 578.8,711.2 571.8,711.8 571.2,711.2 565.2,710.8 562.2,709.2 559.8,706.8ZM129.2,659.2 131.8,659.2 133.2,660.2 137.2,664.8 137.2,666.2 135.2,668.2 131.8,670.2 129.8,670.2 126.8,668.8 124.2,666.2 124.8,663.2ZM549.8,633.8 551.2,630.2 553.8,627.2 556.8,621.8 560.8,617.8 563.8,617.2 569.2,621.8 575.2,625.8 577.8,626.8 581.2,629.8 582.2,640.8 583.2,643.8 585.2,645.8 589.8,647.2 598.8,647.8 599.2,648.2 600.2,647.8 615.8,647.8 616.8,649.2 615.2,650.2 598.2,650.2 597.8,649.8 593.2,649.8 592.8,649.2 582.2,649.2 579.8,648.2 577.8,644.8 574.8,642.2 563.2,642.8 555.2,640.8 550.8,637.2 549.8,635.2ZM148.2,565.8 150.8,567.8 154.2,575.2 153.8,576.8 148.8,581.2 145.8,580.2 141.8,575.8 143.8,570.8ZM553.8,545.8 556.8,547.8 557.2,550.8 554.2,553.8 548.8,555.8 551.2,563.8 553.2,574.2 552.8,579.8 550.2,587.2 546.2,594.2 543.8,596.8 541.8,597.8 540.2,600.2 539.2,604.2 538.8,612.8 534.8,619.8 532.2,622.2 524.8,625.2 520.2,624.8 517.2,622.8 514.8,620.2 514.8,619.2 515.8,617.8 519.8,615.8 518.8,612.8 518.8,610.2 521.8,600.8 525.2,594.8 525.2,592.8 517.2,577.2 517.2,575.8 519.8,572.8 522.8,570.8 528.2,568.8 532.8,566.2 538.2,561.2 540.2,558.2 541.2,555.2 538.2,551.2 538.2,548.8 540.2,546.2 543.8,544.8 550.2,544.8ZM499.2,538.2 502.8,531.8 506.8,527.8 510.2,527.2 526.2,537.8 527.8,539.2 527.8,540.2 523.2,543.2 515.8,546.2 508.2,548.2 502.8,546.2 500.2,543.8 499.2,541.8ZM148.8,491.8 150.8,493.2 154.8,502.8 154.2,505.2 150.2,509.8 155.8,512.8 157.8,515.2 157.8,516.8 155.2,519.2 149.8,520.8 143.8,519.8 140.2,516.8 140.2,514.8 143.2,511.8 146.8,510.2 141.8,505.2 141.2,503.2 144.2,497.2ZM526.8,454.8 531.2,456.8 536.8,461.8 540.8,468.2 541.8,474.2 543.8,479.8 548.2,485.2 553.2,488.2 558.8,493.2 561.8,497.2 563.8,502.2 563.2,507.8 557.2,520.2 554.8,522.8 550.2,525.2 545.8,528.8 543.8,528.8 541.2,526.8 538.2,519.2 534.8,513.2 525.8,504.2 524.2,501.2 518.8,484.2 513.2,475.2 510.2,471.8 508.8,468.2 509.2,466.8 511.2,464.8ZM617.2,447.8 619.2,449.8 621.8,455.8 624.8,468.8 625.8,470.8 630.8,476.2 635.2,478.8 637.8,481.2 640.8,486.2 641.8,498.8 642.2,499.2 642.2,504.8 638.8,510.8 634.2,516.2 634.2,517.8 637.8,522.8 639.2,526.2 639.2,529.8 638.2,532.2 633.8,536.8 629.8,538.8 619.8,540.8 614.2,539.8 608.2,536.8 603.8,532.2 602.8,529.8 602.8,525.8 604.2,522.8 608.8,518.2 611.2,514.2 611.2,501.2 610.8,500.8 610.8,495.8 610.2,495.2 610.2,491.2 609.2,486.2 609.2,468.8 614.2,452.8 615.8,449.2ZM150.2,430.2 153.2,432.8 153.2,435.2 149.8,449.8 148.8,450.8 146.2,444.2 144.8,432.8 147.8,430.2ZM273.8,412.2 275.2,413.2 274.2,414.2 272.8,413.2ZM625.2,323.2 627.8,320.2 632.8,318.2 640.8,318.2 641.2,318.8 647.8,318.8 648.2,319.2 654.8,319.8 658.8,321.8 660.2,323.2 660.2,325.2 654.8,331.2 652.8,332.2 636.8,333.8 636.2,334.2 632.8,332.2 626.8,326.2ZM147.8,303.2 149.8,305.2 150.8,307.8 151.8,318.2 152.2,318.8 152.2,324.2 148.8,328.8 143.8,331.2 133.2,334.8 129.2,334.2 121.8,327.2 120.2,324.8 120.2,318.2 122.8,307.2 126.2,303.8 131.8,301.2 139.8,301.8ZM623.8,243.8 628.2,244.8 632.8,246.8 637.2,250.2 638.2,252.2 636.8,254.8 635.2,261.8 632.2,268.8 629.2,272.8 622.8,279.2 618.2,287.8 617.8,304.2 616.2,305.8 615.2,303.8 615.2,301.2 613.8,295.8 612.2,293.2 610.2,291.8 602.8,289.8 587.8,288.2 586.8,287.2 597.2,284.8 599.8,283.2 601.2,281.2 602.2,278.8 601.8,268.8 602.2,268.2 602.8,259.8 604.2,255.2 606.8,251.2 609.8,248.2 616.8,243.8ZM202.2,212.8 204.2,212.8 208.2,215.8 209.2,217.8 210.8,226.2 213.8,232.8 213.8,235.8 211.2,239.8 208.8,242.2 204.2,244.8 202.8,244.2 200.2,240.8 196.8,237.2 193.8,235.2 192.8,233.8 192.8,231.8 195.2,226.2 197.2,216.8 200.2,213.8ZM394.2,196.2 398.2,191.8 400.2,190.8 401.8,190.8 407.8,194.2 410.8,197.8 409.8,198.8 406.8,199.8 400.2,200.2 395.8,198.8 394.2,197.2ZM344.8,146.8 347.8,147.2 352.2,152.2 355.2,159.8 355.2,164.8 353.2,169.8 350.8,172.8 347.8,174.8 345.2,175.2 339.8,177.8 337.2,179.8 336.8,180.8 336.8,187.2 338.8,193.8 340.2,196.8 346.8,202.8 351.2,204.8 356.2,205.2 356.8,205.8 365.2,206.2 375.8,210.8 377.8,212.8 377.8,214.8 374.8,218.2 371.2,224.2 367.2,228.2 359.8,233.2 355.8,239.2 352.2,242.8 347.2,245.8 344.8,248.2 342.2,252.2 343.2,255.2 345.8,258.8 354.8,264.2 359.2,268.2 360.2,270.2 359.8,273.2 354.8,287.8 346.8,296.2 345.2,298.8 336.2,307.2 334.2,312.2 330.2,316.8 324.2,319.2 310.8,320.2 305.8,323.2 305.2,326.8 308.2,341.2 311.2,345.2 319.8,347.8 329.2,348.8 334.8,350.2 336.8,351.2 340.8,355.8 341.8,358.8 341.8,361.8 340.2,367.8 339.8,377.2 339.2,377.8 339.2,395.8 340.2,398.2 342.8,400.8 348.2,403.2 352.8,407.8 360.8,413.8 361.8,415.8 362.8,423.8 366.2,432.8 366.2,450.8 364.2,458.2 363.2,466.8 361.2,471.2 358.2,475.8 349.2,485.8 349.2,487.8 353.2,493.8 357.2,497.8 362.8,501.2 365.2,503.8 361.2,506.8 348.8,511.8 343.2,513.2 340.2,516.2 339.2,519.2 339.8,527.2 340.8,529.8 343.2,532.8 349.2,534.8 363.2,535.8 365.2,536.8 372.2,543.8 372.8,545.8 370.2,548.8 367.8,550.2 362.2,551.8 346.2,551.8 335.8,549.2 332.8,547.8 329.8,545.2 327.8,540.8 324.2,537.2 320.8,534.8 311.2,530.2 285.2,528.2 279.2,526.8 274.2,524.2 259.8,523.8 257.2,522.2 257.2,521.2 258.8,519.8 273.8,519.8 277.8,515.8 280.8,506.8 280.8,501.2 277.8,486.2 275.8,481.2 273.8,479.2 258.2,479.2 255.8,478.2 245.2,468.8 244.2,466.2 239.8,461.2 239.8,459.8 242.8,457.8 244.8,457.8 249.2,456.2 253.2,448.8 256.8,445.2 259.2,445.2 265.8,448.2 268.8,450.2 273.8,455.2 274.8,455.8 276.2,455.2 285.8,445.8 288.8,440.8 291.2,433.2 293.2,430.2 305.2,423.8 310.8,421.8 328.2,420.8 330.2,419.2 331.8,416.2 331.8,412.8 329.2,409.8 322.8,405.8 319.2,402.2 316.8,398.2 314.2,395.8 311.8,394.8 306.2,394.8 305.8,395.2 299.2,395.8 294.8,397.2 292.2,397.2 282.8,389.8 277.2,383.2 275.8,382.2 274.2,383.8 272.2,389.8 268.8,396.8 268.8,403.2 267.8,407.8 265.8,409.8 261.2,410.8 258.8,410.8 255.8,408.2 252.2,402.2 244.8,395.2 241.8,386.8 240.2,377.2 238.8,373.8 238.8,372.2 232.8,357.8 230.8,351.2 227.2,343.8 224.8,339.8 215.2,330.2 208.8,325.8 206.2,322.8 206.8,311.2 207.2,310.8 207.2,287.8 203.8,278.2 202.2,270.8 203.2,264.8 205.2,260.8 207.2,258.8 211.8,256.2 217.8,254.8 224.2,254.8 230.2,256.2 234.8,258.8 237.2,261.2 239.2,264.2 240.2,264.2 251.8,252.8 251.8,250.8 249.8,247.8 247.2,241.2 246.2,237.2 246.2,234.2 256.8,223.8 257.8,223.8 260.2,226.2 261.8,229.2 262.8,233.2 262.8,242.8 262.2,243.2 261.8,252.8 263.8,259.2 264.8,270.2 267.2,273.8 273.2,277.2 276.2,277.2 280.8,274.8 284.8,270.8 284.8,267.8 279.8,253.8 279.8,250.8 280.8,248.8 282.8,238.8 282.8,232.2 277.8,216.8 277.8,215.2 282.2,201.8 283.2,194.8 285.8,187.8 288.8,184.8 297.8,180.2 303.8,178.2 313.8,172.8 315.8,170.8 317.8,167.2 319.2,161.2 321.2,157.2 326.2,151.8 330.2,149.8ZM165.8,122.8 167.8,122.8 170.2,125.2 170.2,127.2 169.2,129.2 167.2,130.8 166.2,130.8 164.2,129.2 162.2,126.8 162.2,125.8Z"/>
<path fill="#525252" fill-rule="evenodd" stroke="#d8d8d8" stroke-opacity="0.22" stroke-width="0.6" d="M734.2,720.8 733.8,728.8 751.8,728.8 751.8,715.8 742.2,715.8 736.8,718.2ZM310.2,701.2 304.8,696.8 299.8,694.2 293.8,692.2 284.2,691.8 283.8,692.2 278.2,692.8 273.8,694.2 268.2,698.8 266.8,700.8 265.8,703.8 265.8,728.8 302.2,728.8 302.2,720.2 310.2,704.2ZM273.2,619.8 273.8,621.2 275.2,622.2 278.8,622.2 281.2,620.2 281.2,619.2 279.2,617.8 275.8,617.8 273.8,618.8ZM736.8,582.8 733.2,584.8 731.2,589.8 730.8,597.8 730.2,598.2 730.2,604.2 729.8,604.8 729.8,612.2 733.8,619.2 738.8,625.8 742.2,629.2 744.8,630.2 751.8,630.2 751.8,581.8 742.2,581.8 741.8,582.2ZM287.8,580.8 287.2,583.2 288.8,584.8 290.2,585.2 293.8,584.8 295.2,582.8 294.8,580.8 291.8,579.2 289.2,579.8ZM751.8,548.8 741.2,549.2 735.8,550.8 720.8,552.8 715.2,555.2 713.8,556.8 713.2,558.8 718.2,564.8 724.8,568.8 725.8,570.8 724.8,573.2 725.2,575.8 726.2,575.8 729.8,573.8 741.8,570.2 751.8,570.2ZM520.2,517.2 518.2,519.8 518.2,521.8 524.8,526.8 528.2,527.2 529.8,525.8 531.2,522.8 530.2,519.8 526.8,516.2 522.8,516.2ZM287.2,416.2 289.8,419.2 293.8,419.8 298.2,417.8 306.8,415.2 309.8,413.8 309.8,412.2 306.2,410.2 300.8,408.8 292.2,408.2 288.2,411.2 287.2,413.2ZM320.2,339.2 320.8,341.8 327.2,344.2 331.8,344.2 335.8,343.2 337.2,342.2 337.2,339.8 332.8,334.8 330.2,333.2 326.2,333.2 322.2,335.8ZM743.8,332.8 740.2,336.2 737.8,340.2 736.8,343.2 737.2,360.2 739.8,364.2 742.8,366.8 744.2,367.2 751.8,367.2 751.8,332.8ZM274.2,226.2 273.2,226.8 271.2,230.8 270.8,235.2 273.2,240.8 274.8,241.8 276.8,238.8 277.8,233.2 276.8,229.8 275.2,226.8ZM468.2,228.2 467.8,230.2 469.2,232.8 472.8,234.8 477.8,235.2 479.8,233.8 478.2,230.8 473.2,225.8 471.2,225.8ZM751.8,168.2 749.8,168.2 747.2,169.2 744.8,172.2 741.2,180.2 740.2,184.2 734.2,197.2 734.2,199.8 735.2,201.8 735.2,203.2 737.2,208.2 741.2,214.2 741.8,216.2 730.2,226.8 725.8,233.2 728.2,236.2 730.8,237.8 736.2,242.8 744.2,252.8 751.8,252.8ZM401.8,179.2 402.2,180.2 407.2,182.2 417.2,187.8 422.2,191.8 431.2,200.8 435.2,202.2 437.8,202.2 439.8,201.2 442.8,198.2 443.2,196.8 442.8,177.8 441.2,172.8 438.2,168.8 435.2,168.8 432.8,170.2 429.8,170.2 426.8,168.2 423.2,167.2 417.8,167.8 414.8,169.2 412.8,171.2 411.2,174.8 409.8,176.2 404.2,177.2ZM426.2,138.2 425.2,140.2 425.2,144.2 432.8,152.8 437.2,155.8 441.8,153.2 445.2,147.2 445.2,144.2 442.8,141.2 438.2,137.8 435.2,136.8 428.8,137.2ZM662.8,141.8 663.2,145.8 667.2,150.8 671.2,154.2 679.8,151.2 688.2,149.2 692.8,144.8 692.8,142.2 689.2,137.2 684.8,135.8 674.8,133.8 669.8,133.8 664.8,138.2ZM274.8,119.8 271.8,122.2 269.8,125.8 268.8,135.8 268.2,136.2 268.2,140.2 267.8,140.8 267.8,144.8 266.2,150.2 264.2,154.2 260.2,158.2 254.2,161.2 253.8,163.2 258.2,167.2 274.2,175.2 279.2,175.8 279.8,176.2 293.8,176.8 303.2,172.2 311.8,165.8 313.8,162.2 314.8,156.8 317.2,150.8 319.8,147.8 325.2,144.8 325.2,143.8 311.2,139.2 303.8,129.2 298.8,124.8 294.8,122.2 291.8,121.2 288.2,121.2 287.8,120.8 284.2,120.8 279.8,119.8ZM418.8,119.2 417.2,123.2 417.2,129.2 419.2,134.2 421.2,134.8 422.8,133.2 423.2,131.8 423.2,125.2 420.8,120.2 419.8,119.2ZM701.8,106.2 701.8,108.2 703.2,109.8 707.2,111.8 723.8,116.8 751.8,117.2 751.8,101.8 741.8,101.8 739.2,100.8 733.2,100.2 732.8,99.8 714.8,99.8 708.8,98.2 705.2,98.2ZM630.2,81.2 630.8,90.2 633.2,92.8 635.2,93.8 649.8,96.8 653.2,96.8 656.8,93.8 658.8,90.2 658.8,81.2ZM363.2,132.8 359.8,135.2 353.8,142.2 353.8,144.8 356.8,149.8 358.8,157.8 358.8,166.8 359.2,167.2 358.8,176.8 356.8,179.2 351.8,180.2 347.8,180.2 344.2,183.2 342.2,188.2 342.2,194.8 343.2,197.2 346.2,200.2 349.2,201.8 354.2,202.8 367.8,203.2 368.2,203.8 373.2,204.2 375.2,205.2 377.2,207.2 378.2,210.2 379.8,212.2 379.8,215.2 376.2,224.2 374.2,227.2 370.2,231.2 365.2,234.8 363.2,240.8 361.2,244.2 357.2,248.2 350.2,251.8 351.2,253.2 358.8,256.2 363.8,260.2 368.2,268.2 368.8,270.8 368.2,271.2 368.2,275.8 367.8,276.2 367.2,281.2 364.2,289.2 360.8,293.8 352.8,301.8 347.8,305.8 347.8,307.8 351.8,314.2 356.8,319.2 360.8,321.8 362.8,324.2 356.8,330.8 354.8,334.8 353.2,340.8 349.8,347.2 347.8,353.8 346.8,360.8 344.8,365.2 343.2,371.2 342.2,380.2 344.2,390.8 346.2,395.2 353.2,402.8 364.8,412.2 366.2,414.8 369.2,425.8 373.8,432.2 373.8,451.8 369.8,467.8 368.2,470.8 357.2,484.8 356.8,486.8 364.8,494.8 367.8,495.2 372.8,497.2 375.2,499.8 376.2,501.8 376.2,504.2 373.2,507.2 366.8,510.8 348.2,517.8 345.2,520.2 344.8,523.2 346.2,525.8 348.8,527.2 365.2,531.2 368.2,534.8 370.8,540.2 374.2,543.8 374.8,545.8 372.8,548.8 364.2,553.8 353.8,555.8 348.2,558.2 355.2,565.8 358.2,572.8 358.2,575.2 349.2,583.2 344.8,584.8 341.2,586.8 339.8,589.8 339.8,592.2 341.8,595.8 341.8,598.8 340.2,601.8 332.8,610.8 329.8,616.8 323.2,626.2 322.2,629.8 322.2,636.8 321.8,637.2 321.8,640.8 320.2,648.2 320.8,660.2 321.2,660.8 321.8,666.2 324.8,668.8 328.8,670.2 351.2,668.8 359.2,667.2 363.2,665.8 366.8,665.8 370.2,667.2 380.8,669.2 383.2,670.2 393.8,682.8 394.8,685.2 393.8,705.8 393.2,706.2 392.2,721.2 391.8,721.8 391.8,728.8 598.8,728.8 598.8,721.2 599.2,720.2 614.2,705.2 614.2,702.8 611.2,697.2 612.2,694.2 615.2,691.2 618.2,689.8 629.8,686.8 634.2,684.2 640.8,685.2 652.2,689.2 657.8,693.8 661.2,699.8 661.2,702.2 656.2,705.8 650.8,707.2 641.2,711.8 634.2,716.8 631.8,719.8 631.2,728.8 681.8,728.8 681.8,720.8 682.2,719.2 686.2,715.2 696.8,709.2 704.8,705.2 705.8,705.2 708.8,702.8 708.8,700.8 702.8,694.2 698.2,685.8 696.2,674.8 694.2,667.8 694.2,649.8 693.8,648.2 690.8,644.8 684.2,640.2 673.2,635.2 666.8,633.8 659.8,631.2 651.8,623.2 647.2,621.2 639.2,615.8 636.2,612.8 636.2,611.2 642.8,602.8 646.8,595.2 650.8,581.2 656.8,571.2 658.8,562.8 658.8,558.8 659.8,556.8 666.8,550.8 683.2,543.8 685.8,542.2 687.2,540.8 687.2,539.8 679.8,533.8 677.8,530.8 676.2,525.8 676.2,523.8 672.2,517.2 670.2,515.8 666.2,514.8 660.8,512.2 653.8,505.2 652.2,506.2 647.8,516.2 644.8,520.8 644.2,527.8 641.8,534.2 635.2,540.8 625.8,544.2 617.8,545.2 607.2,538.8 602.2,534.2 599.8,529.8 599.8,524.8 603.2,517.2 603.8,506.2 603.2,505.8 603.2,501.8 602.2,496.8 599.2,486.8 599.2,467.2 610.2,435.2 610.8,429.8 609.2,424.8 607.2,420.8 601.8,414.2 603.8,412.2 608.2,409.8 612.8,405.2 615.2,401.2 616.8,397.2 619.8,394.2 623.8,392.2 632.2,389.2 635.2,389.2 641.8,395.8 641.8,398.8 638.8,407.2 636.8,411.2 634.2,414.2 634.8,465.8 635.2,467.8 643.2,475.8 647.8,483.8 650.8,497.2 652.2,501.8 653.2,502.8 658.8,498.2 663.8,496.2 670.2,495.2 673.2,493.8 677.8,490.2 677.2,486.8 667.8,477.2 666.8,475.2 666.8,473.2 668.8,471.2 673.8,469.2 676.8,469.2 677.2,468.8 686.2,468.8 686.8,469.2 693.2,469.2 693.8,469.8 706.8,470.8 725.2,475.8 731.2,479.8 736.2,484.8 738.2,488.2 738.8,492.2 737.8,494.2 730.2,500.8 729.8,501.8 730.2,506.2 734.2,513.8 740.8,520.8 743.2,522.2 751.8,522.2 751.8,449.8 750.2,449.8 745.2,452.8 740.8,459.2 736.8,463.2 734.2,464.8 728.2,466.2 720.8,465.8 714.2,464.2 705.2,463.2 700.2,460.8 695.2,457.2 690.8,452.8 688.8,449.8 688.8,431.8 690.2,427.8 690.8,418.2 691.2,417.8 689.8,396.2 689.2,395.8 686.8,376.8 683.2,369.2 677.2,359.8 676.2,343.2 675.8,342.2 676.2,341.8 676.2,339.2 678.2,334.2 681.8,330.8 684.2,329.2 694.2,326.2 698.2,323.8 697.2,322.2 691.8,319.2 681.8,316.2 676.8,311.8 674.8,307.2 673.8,301.2 670.2,295.2 667.8,289.2 667.8,282.2 669.8,273.8 671.2,272.2 672.2,272.2 685.2,285.2 687.2,286.8 689.2,286.8 691.2,283.2 693.2,273.8 693.2,270.8 691.8,269.2 689.8,268.2 685.8,267.8 685.2,268.2 677.8,268.2 671.8,269.8 661.8,262.2 655.2,258.8 652.2,258.2 642.8,263.2 635.8,270.2 630.8,278.2 625.8,288.8 624.8,302.8 624.2,303.2 624.2,306.2 625.2,308.8 628.2,311.8 632.2,313.2 640.8,314.2 641.2,314.8 644.8,314.8 645.2,315.2 653.8,315.8 660.8,317.2 663.8,318.8 665.8,320.8 667.2,323.8 666.8,326.2 663.2,331.8 657.2,336.8 652.2,338.8 644.2,339.8 637.2,341.8 634.2,341.2 617.8,324.8 611.2,312.8 602.8,302.8 598.8,299.2 592.2,295.2 585.8,293.2 580.8,292.8 574.8,290.2 573.2,288.8 573.2,287.2 581.8,278.8 587.8,275.8 593.2,270.2 598.8,266.8 603.2,253.8 604.8,251.2 610.8,245.2 617.8,240.8 625.2,240.2 629.2,239.2 632.8,237.2 634.8,234.8 634.8,231.2 633.8,228.8 632.2,217.2 631.8,216.8 632.2,214.8 631.8,202.2 633.8,194.2 639.8,184.2 640.8,179.2 638.8,174.8 634.8,161.8 630.8,154.8 626.2,150.8 620.8,148.2 618.2,147.8 610.2,142.8 606.2,138.2 604.2,133.2 604.2,128.8 605.2,125.2 611.8,113.2 615.2,109.2 615.8,106.8 612.8,103.8 604.8,97.8 599.8,94.8 592.8,91.8 590.2,88.8 590.2,81.2 576.2,81.2 576.2,90.2 573.2,94.8 567.8,100.2 563.2,103.2 559.8,108.2 546.2,121.8 543.2,122.8 539.8,121.2 536.2,117.8 533.8,111.2 533.8,104.8 534.2,104.2 534.8,99.2 536.2,95.2 539.8,91.8 543.2,90.2 544.8,88.8 544.8,81.2 520.8,81.2 520.8,89.8 520.2,91.2 509.8,106.8 504.2,111.2 502.2,114.8 500.8,119.8 499.2,134.8 498.8,135.2 498.2,144.2 501.8,151.2 510.8,159.8 511.8,161.8 511.8,163.8 509.8,168.2 506.2,171.8 499.2,176.2 497.8,178.8 497.8,180.2 516.2,198.8 519.8,200.8 527.2,207.2 534.8,212.2 538.2,215.8 538.2,217.2 533.8,226.8 530.8,236.2 527.8,241.8 523.8,245.8 517.8,249.2 513.2,250.8 512.8,252.2 519.2,255.2 522.8,259.8 524.8,267.2 525.2,275.8 525.8,276.2 526.8,285.8 528.2,290.2 530.2,292.2 533.8,293.8 546.8,295.8 549.2,297.2 554.8,303.2 555.8,305.8 555.8,309.8 555.2,310.2 554.2,324.8 562.8,341.2 564.8,348.8 566.8,352.8 570.2,356.2 576.8,359.8 575.2,361.8 572.8,362.8 568.8,365.8 566.8,368.2 564.2,373.2 563.2,377.2 563.2,396.2 565.8,403.8 565.8,405.2 570.2,416.8 572.8,425.2 573.8,432.8 572.2,437.8 569.2,443.8 563.2,449.8 551.8,449.8 547.8,448.2 545.8,445.8 545.2,445.8 544.8,447.2 545.2,450.2 548.2,451.8 550.2,455.2 551.2,468.8 554.2,473.2 557.8,476.8 561.8,479.2 565.8,483.8 571.8,503.2 571.8,505.8 567.2,521.8 564.2,524.8 552.8,531.8 545.8,538.8 545.8,541.2 547.8,543.2 550.8,543.8 555.8,545.8 558.8,549.2 557.8,552.2 554.2,555.2 556.2,571.2 556.8,571.8 556.8,575.2 557.2,575.8 556.2,586.8 554.2,592.8 554.2,597.2 555.2,600.8 557.8,604.2 564.2,606.8 571.2,614.2 579.2,619.8 582.8,623.2 585.2,628.2 586.8,634.2 588.8,637.8 591.2,640.2 597.8,643.2 618.2,642.2 622.2,644.2 625.2,647.2 625.8,649.2 623.2,656.8 619.8,662.8 616.2,665.8 599.8,665.8 592.2,660.8 586.2,658.2 573.8,655.8 568.8,653.8 561.8,647.2 550.8,640.8 547.8,637.8 546.2,634.8 545.8,631.8 543.8,628.2 539.8,629.8 530.2,631.2 531.8,633.8 532.8,638.2 532.8,648.2 531.8,650.2 529.2,652.8 527.2,653.2 521.8,647.8 521.8,644.8 523.2,639.2 525.8,633.2 527.2,631.8 527.2,630.8 518.2,624.8 513.8,620.8 513.8,618.2 515.2,616.2 514.2,613.8 514.2,608.8 517.8,593.8 510.2,578.8 509.8,573.8 511.8,569.8 515.2,566.8 520.8,564.8 525.8,564.2 529.8,562.2 533.2,558.8 533.8,555.8 532.2,552.8 529.8,550.2 527.8,549.2 526.2,549.2 516.2,552.8 507.8,554.8 504.8,556.2 499.8,560.2 493.2,561.8 491.2,561.8 481.2,558.2 479.8,556.8 479.8,554.8 482.8,547.8 490.2,540.2 490.8,533.8 491.2,533.2 491.2,526.8 492.2,523.2 493.8,522.2 500.2,520.8 504.8,518.8 510.8,512.8 512.2,512.2 513.8,510.8 514.8,508.2 514.8,502.8 510.2,489.8 506.8,474.8 504.8,469.2 504.8,466.8 509.8,455.8 515.8,451.8 517.2,450.2 517.2,448.8 511.8,439.2 509.2,431.8 507.2,415.2 506.8,414.8 505.2,394.8 500.2,385.8 495.2,380.8 492.2,378.8 490.8,376.8 490.8,363.2 490.2,360.8 488.8,359.8 486.2,359.8 482.8,358.8 480.2,356.2 479.2,351.8 479.2,342.8 474.2,327.8 469.8,305.2 466.2,297.2 460.2,289.2 458.8,283.8 457.2,280.8 450.2,272.2 448.8,269.2 448.2,251.8 445.8,246.8 442.8,243.8 435.2,240.2 429.8,234.8 426.2,223.8 423.2,220.2 419.2,218.2 417.2,216.2 415.2,208.8 412.8,205.8 407.8,203.8 390.8,202.2 385.2,200.2 383.2,198.2 381.2,192.8 378.8,188.8 374.2,184.2 369.8,181.8 368.2,180.2 369.8,178.2 374.2,175.8 378.8,171.2 383.8,163.8 383.8,160.8 380.8,155.2 378.2,146.8 375.2,140.8 368.2,133.8 365.2,132.2ZM545.2,668.2 546.8,668.2 549.2,670.2 554.2,672.8 562.2,675.2 564.2,677.2 567.8,686.2 571.2,689.8 577.2,692.2 580.8,692.8 583.8,694.2 586.8,697.2 588.8,700.8 588.8,705.8 587.2,709.8 584.2,712.8 582.2,713.8 580.2,713.8 578.2,712.8 572.8,712.8 572.2,712.2 565.8,711.8 561.2,709.8 558.2,706.2 558.8,699.2 556.2,691.2 553.8,688.8 550.2,687.2 545.2,686.2 542.8,683.8 542.2,682.2 542.8,675.2 543.8,670.2ZM356.2,643.2 359.2,642.2 364.8,642.2 366.8,643.2 370.2,646.8 370.8,647.8 370.2,653.8 368.8,656.2 365.2,659.8 357.2,657.2 352.2,652.2 351.8,649.8 353.2,645.8ZM334.8,81.2 334.8,88.2 335.2,89.8 339.2,95.2 342.8,102.8 344.2,108.8 346.2,112.8 348.2,114.8 355.2,118.2 363.8,121.2 365.2,121.2 369.8,118.8 372.2,118.2 377.8,114.8 379.8,110.8 379.8,107.8 379.2,105.8 375.8,99.8 375.8,98.2 378.2,91.2 378.8,81.2ZM147.8,81.2 147.8,88.8 146.8,89.8 141.8,91.8 132.8,93.8 128.8,96.8 125.2,103.8 124.2,109.8 121.2,119.8 117.8,125.8 112.8,130.2 104.2,130.2 104.2,195.8 113.2,195.8 116.8,197.8 118.8,200.2 125.8,214.2 125.8,217.2 124.8,218.8 115.8,227.8 113.2,229.2 104.2,229.2 104.2,385.2 113.8,385.2 117.2,386.8 121.2,390.2 123.8,395.8 123.2,398.8 120.2,406.2 114.8,412.8 111.2,414.2 104.2,414.2 104.2,450.2 112.2,450.2 113.2,450.8 117.8,456.2 121.8,466.8 121.2,468.8 119.2,470.8 114.2,473.8 104.2,474.2 104.2,540.8 111.8,540.8 113.2,541.2 130.8,559.2 132.8,557.2 137.8,555.2 146.2,554.8 146.8,554.2 150.2,555.2 154.2,559.2 161.8,574.2 161.8,575.8 148.2,589.2 137.2,589.2 134.8,588.8 132.2,586.8 130.8,583.2 128.2,586.2 125.8,587.2 123.2,587.2 122.8,587.8 104.2,587.8 104.2,642.2 114.2,642.2 123.2,644.8 132.2,648.8 136.8,652.2 144.8,660.2 147.8,664.2 147.8,666.2 146.2,667.8 130.8,676.8 124.2,675.8 118.2,673.2 114.8,669.8 113.2,666.8 111.8,665.2 104.2,665.2 104.2,688.8 113.8,688.8 118.8,691.8 123.2,696.2 126.8,702.2 127.2,704.8 129.8,709.8 138.8,719.2 139.8,721.2 139.8,728.8 222.2,728.8 222.2,720.8 225.8,716.8 227.8,713.2 229.2,708.2 230.2,701.2 239.8,682.8 240.8,679.2 241.2,674.2 241.8,673.8 241.8,669.2 242.2,668.8 242.2,662.8 241.8,662.2 241.8,657.2 241.2,656.8 241.2,643.8 241.8,643.2 242.2,634.2 242.8,633.8 242.8,624.2 242.2,623.8 241.8,612.8 239.8,605.2 238.8,603.2 234.8,599.2 223.8,594.2 222.8,593.2 222.8,591.2 224.8,589.2 226.2,588.8 239.2,587.8 257.2,574.2 261.2,570.2 263.8,566.8 267.2,559.2 268.2,551.2 269.8,546.2 271.8,542.8 274.2,540.8 275.2,540.8 279.2,545.2 283.8,554.8 287.2,559.2 290.8,566.2 295.2,568.8 300.8,569.8 310.8,573.2 314.8,572.8 317.2,571.2 319.8,568.2 322.2,562.2 322.8,556.8 317.2,539.8 313.8,536.8 308.8,534.8 289.8,534.2 280.8,536.2 274.8,539.8 268.2,536.8 258.2,534.2 255.2,531.8 252.8,524.8 252.8,520.2 254.2,516.2 255.2,510.8 257.2,505.8 258.8,504.2 261.2,503.8 270.2,503.8 271.8,503.2 267.8,499.8 266.8,496.2 266.2,487.2 262.8,484.8 257.8,483.8 255.8,482.8 244.8,473.8 241.8,470.8 240.2,468.2 240.8,464.8 238.2,461.2 238.2,459.2 241.2,457.2 246.2,456.2 247.8,454.8 249.8,449.2 252.2,445.8 255.2,439.8 257.8,437.2 262.8,438.2 273.2,443.2 275.8,443.2 279.8,439.2 282.8,434.8 283.8,432.2 283.8,428.8 282.2,425.2 278.2,423.2 258.8,422.8 257.2,421.2 256.2,419.2 255.2,413.8 251.2,406.2 245.8,400.2 241.8,397.8 238.8,394.8 236.8,375.2 234.2,368.2 229.2,358.8 227.8,354.2 223.8,346.2 221.2,342.2 214.8,335.2 200.8,324.8 199.8,322.2 199.8,285.2 199.2,284.8 198.2,272.8 197.8,272.2 197.8,266.8 198.2,266.2 198.2,260.2 198.8,259.8 199.2,252.2 198.2,249.8 193.8,243.8 190.2,240.8 182.8,236.2 181.2,234.2 181.2,232.8 183.8,227.8 188.8,221.2 192.8,214.8 200.2,208.8 203.2,207.2 205.8,207.8 209.8,209.8 213.8,212.8 216.2,215.8 221.2,225.2 224.2,226.8 229.8,228.2 234.8,228.8 235.2,229.2 239.2,229.2 243.2,226.8 249.8,220.2 253.2,215.2 256.2,209.2 258.8,207.2 273.8,207.2 275.8,204.8 277.8,198.8 277.8,195.8 276.8,192.2 275.2,189.8 272.8,189.8 265.2,192.2 257.2,193.2 250.8,189.2 241.8,187.2 233.8,187.8 220.2,191.2 211.8,187.2 206.8,181.8 202.8,170.2 201.8,164.2 199.2,155.8 194.8,148.2 190.8,144.8 190.2,141.2 191.2,139.2 193.8,128.2 194.2,109.2 201.2,102.8 207.2,90.8 207.8,81.2ZM204.8,484.2 204.2,486.8 201.8,488.8 184.2,489.2 181.2,486.2 181.8,484.8 184.2,482.2 186.8,481.2 201.8,480.2 203.2,481.2ZM146.8,427.2 151.2,427.8 157.2,430.8 159.2,432.8 159.2,435.8 156.2,449.2 154.8,476.2 154.2,476.8 154.2,481.2 153.8,481.8 153.8,486.2 156.8,492.8 159.2,502.2 158.8,505.8 155.8,510.8 158.2,513.2 159.2,516.2 156.2,519.8 151.8,521.2 146.2,521.2 140.8,519.2 138.8,516.8 138.8,513.8 140.2,511.2 135.2,505.2 135.2,502.2 144.2,485.8 140.2,469.8 140.2,451.8 139.8,451.2 139.8,446.2 139.2,445.8 138.2,432.8 141.2,429.2ZM148.2,289.2 151.2,292.2 157.8,305.2 157.2,319.2 156.8,319.8 156.2,325.8 153.2,330.8 148.2,335.2 133.2,339.2 128.8,338.8 123.8,335.8 119.2,331.2 116.2,326.2 115.2,323.2 114.8,313.2 113.2,305.8 117.2,301.2 122.8,297.8 129.8,295.2 138.8,293.8 144.2,291.8ZM119.8,251.2 122.8,247.8 126.8,245.8 130.2,244.8 133.2,244.8 142.8,246.8 146.2,248.8 148.2,252.2 147.8,253.8 144.8,256.8 141.2,258.8 133.8,260.8 130.8,260.8 123.2,255.8 120.2,252.8ZM166.2,117.2 168.2,117.2 171.8,119.2 173.8,121.2 175.8,124.8 175.8,128.8 173.2,134.8 168.8,138.8 165.8,138.2 154.8,127.2 154.8,125.2 157.2,122.8Z"/>
<path fill="#3D3D3D" fill-rule="evenodd" stroke="#d8d8d8" stroke-opacity="0.22" stroke-width="0.6" d="M741.8,721.2 741.8,728.8 751.8,728.8 751.8,719.8 743.8,719.8ZM304.2,701.8 299.8,697.8 294.8,695.2 290.8,694.2 281.2,694.8 274.2,697.8 271.2,700.8 270.2,702.8 270.2,710.8 273.8,721.8 273.8,728.8 294.2,728.8 294.8,722.2 299.2,716.2 302.8,710.2 304.8,703.2ZM573.8,669.2 573.2,678.2 572.8,678.8 573.2,684.2 576.8,687.2 579.8,688.8 585.2,689.8 588.2,691.8 588.2,695.8 592.2,700.2 592.8,705.2 594.2,710.2 595.8,712.2 597.8,713.2 600.2,712.8 609.2,703.8 609.8,701.8 608.2,698.2 608.2,694.8 609.8,691.8 612.8,688.8 625.2,686.8 627.8,685.2 629.8,682.8 629.2,678.2 626.2,675.8 623.2,674.8 617.8,674.8 614.2,675.8 611.2,677.2 608.2,680.2 606.2,681.2 600.2,681.2 598.8,680.8 585.2,667.2 582.2,665.2 576.8,665.8 574.2,667.8ZM544.8,646.2 543.8,648.8 544.8,649.8 545.8,649.8 546.8,648.8 546.8,647.2ZM743.8,592.2 741.2,594.2 740.2,596.8 737.2,610.8 737.8,612.8 742.8,619.2 743.8,619.8 751.8,619.8 751.8,592.2ZM192.2,578.8 184.2,577.2 181.8,577.2 181.2,577.8 167.8,577.8 160.8,582.2 155.2,587.8 151.2,593.8 151.2,596.8 154.8,610.2 154.8,612.8 150.8,619.8 148.2,622.2 140.8,623.8 132.2,626.8 128.2,626.8 124.8,625.8 121.2,623.8 118.2,620.2 116.8,616.8 115.2,610.2 112.2,606.2 104.2,606.2 104.2,631.8 117.8,631.8 118.2,632.2 130.8,632.8 136.2,636.2 142.8,642.8 145.2,646.8 149.8,651.8 151.8,655.2 153.8,662.2 153.8,666.2 151.8,669.2 146.8,673.8 131.8,682.8 128.2,683.8 127.2,684.8 130.2,688.2 131.8,691.2 134.2,699.8 136.8,704.2 149.2,716.8 150.2,718.8 150.2,728.8 213.2,728.8 213.2,720.8 217.2,714.8 222.2,701.8 230.2,685.8 235.2,678.8 238.2,671.2 239.2,664.8 238.8,664.2 237.2,646.2 237.8,645.8 237.8,640.8 238.2,640.2 238.2,635.2 238.8,634.8 238.8,626.2 238.2,625.8 237.8,619.8 236.2,614.8 233.8,610.8 230.2,607.2 225.2,603.8 218.8,600.8 214.8,596.2 210.8,589.2 207.8,586.2 198.2,580.8ZM202.2,611.2 203.2,610.2 205.8,610.8 205.8,611.8 204.2,612.8 203.2,612.8ZM751.8,556.8 726.8,557.2 724.8,557.8 720.2,562.2 720.2,564.2 723.2,566.2 726.8,567.2 740.2,566.8 743.2,565.8 746.2,563.8 746.2,562.2 745.2,561.2 746.2,559.8 751.8,559.8ZM313.2,539.8 310.2,537.8 305.2,536.8 304.8,537.2 301.8,537.2 297.2,539.2 291.2,540.2 290.8,540.8 290.8,545.2 291.2,545.8 292.2,555.2 293.2,557.8 298.2,559.2 310.8,560.2 312.2,558.2 311.2,553.2 314.8,546.2 314.8,542.8ZM650.2,533.8 650.2,540.8 652.2,544.8 654.2,544.8 657.2,543.2 664.8,541.8 670.8,541.2 672.8,539.8 672.8,538.2 668.8,531.2 665.8,528.8 662.2,527.2 656.8,527.2 653.2,528.8 651.8,530.2ZM365.2,485.2 365.2,486.2 366.2,485.8ZM659.8,479.8 660.2,481.8 663.8,484.8 667.2,486.2 669.8,486.2 669.8,485.2 668.8,484.2ZM751.8,465.2 745.8,466.8 743.2,468.2 740.8,470.8 738.2,476.8 738.2,480.2 742.2,488.2 743.2,492.2 741.8,496.2 737.8,501.8 737.8,504.8 740.2,508.8 743.8,511.8 751.8,511.8ZM273.2,431.2 272.2,432.2 274.2,433.2 275.2,432.2 274.2,431.2ZM743.8,355.2 742.8,357.8 742.8,359.8 743.8,360.8 751.8,360.8 751.8,354.2 744.8,354.2ZM364.2,304.2 363.2,305.2 363.2,306.8 364.2,307.8 365.8,307.8 367.2,305.8 366.2,304.2ZM654.8,269.2 652.2,268.8 649.2,270.8 636.8,283.2 634.2,286.8 633.2,289.2 630.8,302.2 630.8,305.8 633.8,308.8 638.8,310.2 649.8,311.8 650.2,312.2 657.2,312.2 662.2,311.2 665.2,309.8 666.8,308.2 667.2,304.8 662.2,292.2 659.2,276.8 656.8,271.2ZM104.2,256.2 104.2,290.8 114.2,290.8 122.2,289.2 128.2,289.2 133.2,287.8 134.2,285.8 134.2,281.8 134.8,281.2 134.8,278.2 136.2,270.8 133.8,269.2 129.8,268.2 123.8,264.8 112.2,256.2ZM736.2,232.8 736.8,235.2 742.8,241.2 743.8,241.8 751.8,241.8 751.8,226.2 743.8,226.2 741.8,227.2ZM388.8,207.8 385.2,209.8 383.8,211.8 382.2,217.2 382.2,219.8 379.8,228.2 375.2,234.8 375.2,240.2 375.8,240.8 375.8,246.2 376.8,249.8 376.8,252.8 370.2,259.2 369.8,263.2 374.8,269.2 375.2,274.8 376.8,281.2 379.8,287.8 387.8,297.8 395.2,302.2 400.2,303.8 401.8,305.2 402.2,309.8 400.8,317.8 399.2,321.8 395.2,324.8 374.8,328.8 371.2,330.2 368.2,332.8 364.2,340.2 356.2,347.8 354.2,350.8 345.2,376.2 345.2,379.8 347.2,386.2 351.8,395.2 364.8,408.2 374.2,426.2 377.8,429.8 380.2,431.2 381.8,433.2 381.8,450.2 377.2,468.2 379.8,473.8 383.8,477.2 388.8,485.2 388.8,490.8 385.8,505.2 383.2,509.8 380.8,512.2 376.2,514.8 371.8,516.2 363.8,517.8 358.8,519.8 355.8,521.8 357.8,523.8 367.2,526.8 369.8,529.2 371.8,533.2 372.8,539.2 376.2,544.2 376.2,546.8 370.2,552.8 367.8,557.8 367.8,573.2 367.2,574.8 365.2,576.8 356.2,580.8 351.2,584.2 342.8,587.2 341.2,589.2 341.2,592.2 344.2,596.2 343.8,601.2 342.8,603.2 335.2,611.2 333.2,615.8 327.2,624.2 327.2,627.8 328.8,630.8 328.2,664.8 330.2,666.2 345.8,666.2 349.8,665.2 352.8,661.8 352.8,659.8 349.8,654.8 348.8,650.8 349.2,647.2 350.2,645.2 355.2,640.8 359.8,639.2 364.8,638.8 369.8,641.2 375.8,647.8 376.8,655.8 379.2,663.8 385.8,669.2 394.8,680.2 397.2,684.2 397.8,691.8 398.2,692.2 398.2,697.8 399.8,703.2 399.8,728.8 583.8,728.8 583.8,721.2 583.2,720.2 572.2,714.2 563.8,712.2 560.2,710.2 557.2,707.2 555.2,700.8 552.8,695.8 549.2,692.2 544.2,689.8 538.8,684.8 537.8,682.8 535.8,673.2 532.8,668.2 526.8,663.2 523.2,657.2 519.8,653.2 513.2,649.2 511.2,647.2 510.8,644.8 511.2,644.2 511.8,629.8 510.8,626.8 510.2,618.8 509.8,618.2 510.2,593.8 508.8,590.2 504.2,571.8 503.2,569.8 500.8,567.2 498.8,566.2 491.2,564.8 484.8,561.8 474.8,559.2 472.8,558.2 471.8,556.8 471.2,539.8 472.8,536.8 479.2,530.8 482.8,523.8 485.2,521.2 489.8,519.2 496.2,517.8 501.8,514.8 504.8,511.2 506.8,507.2 507.8,503.2 507.2,502.8 506.2,484.8 504.8,478.8 501.2,469.8 501.2,466.2 507.2,451.8 507.2,443.8 506.8,443.2 506.2,432.2 505.8,431.8 505.8,427.8 505.2,427.2 504.8,420.8 503.2,413.8 502.8,396.2 498.8,388.8 492.8,382.8 488.2,380.8 481.8,379.8 477.2,378.2 473.8,375.8 468.2,373.2 464.8,369.2 463.2,364.2 463.2,359.8 464.8,358.2 468.2,352.2 471.2,341.2 470.8,340.2 470.8,323.8 470.2,323.2 470.2,320.2 466.8,304.2 461.8,295.8 458.2,291.8 456.8,287.2 456.8,285.2 455.2,281.8 444.2,270.2 444.2,267.2 445.8,260.2 445.8,255.2 446.2,254.8 446.2,252.8 444.8,249.2 440.8,245.2 434.2,241.8 427.8,235.2 425.8,229.8 423.2,225.2 420.2,222.2 415.2,218.8 413.8,216.8 411.8,211.8 407.8,208.2 403.2,206.2 400.8,206.2 400.2,205.8 399.8,206.2 395.2,206.2ZM345.8,194.2 346.2,197.8 348.8,199.2 351.2,199.8 365.8,200.2 369.8,199.2 371.8,197.8 371.2,195.8 367.2,191.8 364.8,190.2 348.2,190.2 346.8,191.8ZM751.8,178.8 749.8,178.8 747.2,180.2 743.8,186.2 742.2,191.2 741.8,197.2 742.8,199.8 744.2,200.8 751.8,200.8ZM508.2,179.8 509.2,181.2 511.2,181.2 513.2,180.2 513.2,179.2 512.2,178.8 509.2,178.8ZM435.8,178.8 434.2,179.2 432.8,180.8 435.2,183.8 436.2,183.8 437.2,181.8 437.2,179.8ZM414.2,172.2 414.8,177.2 416.2,178.8 419.2,180.2 424.8,180.2 426.8,179.2 428.8,176.2 428.8,173.2 427.8,171.2 424.2,168.8 417.2,169.2ZM364.2,143.2 363.2,144.8 362.8,147.2 362.8,155.8 360.8,161.2 361.2,164.8 362.2,166.8 365.2,169.8 371.8,169.2 375.2,168.2 378.8,165.8 379.8,163.8 379.8,160.8 376.8,157.2 371.2,154.8 369.8,153.2 366.8,144.2 365.8,143.2ZM667.8,144.2 670.8,147.8 672.8,148.2 681.2,145.8 685.8,145.2 688.2,143.8 687.2,142.8 683.8,141.8 671.2,139.8 668.2,142.2ZM274.8,123.8 273.2,125.2 272.2,128.2 269.2,153.8 267.2,158.8 265.2,161.2 265.2,162.8 275.8,168.2 288.2,171.2 291.2,171.2 291.8,171.8 294.2,171.2 302.8,166.2 307.8,161.8 308.2,156.8 308.8,156.2 308.8,150.2 309.2,149.8 308.8,142.8 301.2,132.2 294.2,126.2 287.8,124.2 281.2,124.2 276.8,123.2ZM184.2,114.8 182.2,116.2 181.8,117.8 181.2,127.8 182.8,134.2 184.8,136.2 186.8,133.2 188.8,125.2 186.8,117.8ZM715.2,107.2 715.2,108.2 718.2,109.8 724.8,111.8 730.2,110.8 734.8,108.8 734.8,107.8 733.8,106.8 725.8,104.2 719.2,105.2 716.2,106.2ZM527.2,97.8 526.2,97.8 519.2,108.2 520.2,115.8 523.8,119.2 526.8,119.2 528.2,117.2 529.2,113.8 529.8,105.8 528.8,100.8ZM580.8,97.2 572.8,105.8 567.2,108.8 564.8,109.2 560.8,111.8 548.8,123.8 547.2,126.2 547.2,128.2 548.8,133.8 549.8,142.8 548.2,144.8 545.2,144.8 541.2,142.2 537.8,138.8 535.2,132.8 533.2,130.8 528.8,128.8 518.2,127.2 512.2,123.8 509.2,123.8 507.2,127.2 504.8,140.2 504.8,144.2 505.8,146.2 512.2,153.2 516.8,160.8 517.2,162.2 517.2,169.2 518.8,175.2 520.2,176.2 526.2,176.8 528.2,177.8 530.8,180.8 529.8,185.8 525.8,194.8 525.8,197.8 527.8,199.8 539.2,206.8 545.2,211.8 551.8,213.8 553.8,215.2 552.8,216.8 547.8,219.2 544.2,223.2 539.8,232.2 537.8,241.8 535.2,248.8 533.8,251.2 533.8,253.2 536.2,256.2 540.8,258.8 543.2,259.2 545.8,261.8 548.8,268.8 548.8,276.8 547.8,281.8 546.2,284.2 543.2,287.2 544.8,288.8 552.8,289.8 557.8,291.8 559.2,293.2 560.8,296.2 561.8,300.8 561.8,306.2 562.2,306.8 561.8,307.8 561.8,324.2 564.2,329.8 565.2,333.8 570.8,345.2 575.8,350.8 585.2,355.8 588.2,359.2 586.8,362.8 583.8,365.8 575.8,371.2 572.2,375.2 570.8,378.2 572.8,394.8 579.2,413.8 579.8,427.8 580.2,428.2 579.8,441.2 579.2,441.8 578.8,448.2 576.2,453.2 568.2,461.8 564.2,464.2 562.2,466.2 561.8,467.8 563.8,470.2 565.8,471.2 568.8,474.2 570.8,477.8 572.2,482.2 572.8,486.2 575.8,495.2 579.2,502.8 579.2,506.8 576.2,518.2 574.8,521.8 568.8,527.2 556.2,536.2 553.8,538.8 553.2,541.2 559.8,548.2 559.8,551.2 558.2,553.8 558.2,557.2 558.8,557.8 558.8,565.2 559.2,565.8 559.2,570.2 560.2,574.2 561.8,594.2 564.2,596.2 565.8,596.2 570.2,598.2 576.2,603.8 578.2,607.2 579.2,611.8 586.2,618.8 588.8,625.2 589.8,630.8 592.2,634.8 598.2,639.2 603.2,639.2 616.2,636.8 624.2,637.2 629.2,638.8 632.2,641.8 633.8,647.2 633.2,658.8 632.8,659.2 632.2,665.2 638.2,675.2 640.8,677.8 646.2,680.8 651.8,682.2 660.2,683.2 665.2,684.8 667.8,688.2 669.2,694.8 669.2,698.8 669.8,699.2 669.8,701.8 668.8,704.2 665.8,707.2 662.8,708.8 650.8,711.2 640.8,717.2 637.8,720.8 637.8,728.8 675.8,728.8 675.8,718.2 677.2,714.2 680.8,710.8 684.8,709.2 687.2,709.2 690.2,708.2 701.2,702.2 701.2,700.8 697.8,696.2 695.2,690.2 692.8,677.2 689.8,666.8 689.8,649.2 688.8,647.2 685.8,644.8 680.2,641.2 672.8,637.8 661.2,635.2 652.2,631.8 647.8,631.8 640.8,630.2 635.2,627.2 633.2,625.2 629.8,619.2 627.8,613.8 627.8,610.2 631.2,601.8 636.8,593.8 637.8,574.2 638.2,573.8 638.8,566.2 640.2,560.8 640.2,557.8 635.8,555.2 623.2,555.8 617.8,553.8 614.8,550.8 610.8,545.2 602.8,538.2 598.8,533.8 592.8,520.8 591.2,513.8 587.8,505.2 587.8,503.2 590.2,497.2 590.8,492.2 593.2,487.8 593.2,482.8 592.2,480.2 590.2,477.8 587.2,448.8 589.2,444.8 593.8,440.2 598.2,437.8 600.2,433.8 600.2,431.2 599.2,429.8 597.2,428.8 594.2,428.2 590.8,426.8 587.2,423.8 584.8,418.8 584.2,413.8 589.2,408.2 592.2,406.2 596.8,404.8 601.2,402.2 605.2,398.2 607.2,395.2 617.2,385.8 622.2,384.2 634.2,382.8 636.2,383.8 647.2,394.8 648.2,396.8 646.8,408.8 645.2,413.2 645.2,432.8 644.8,433.2 643.8,442.8 643.2,443.2 643.2,447.2 642.8,447.8 643.8,455.2 645.2,459.8 648.2,465.2 654.2,471.2 656.2,471.2 663.8,468.2 674.2,467.2 674.8,466.8 682.8,466.8 683.2,467.2 696.2,467.8 696.8,468.2 703.8,468.2 704.8,467.2 695.8,463.2 688.2,457.2 682.2,453.8 679.2,450.2 679.2,446.2 679.8,445.8 681.2,432.2 686.2,422.8 687.8,417.2 687.8,413.8 688.2,413.2 687.8,398.8 687.2,398.2 687.2,394.2 686.2,390.8 684.8,378.2 682.2,372.2 673.8,359.8 672.2,346.2 670.8,339.2 669.8,338.8 666.2,341.8 659.8,344.8 651.2,346.8 641.8,351.8 636.8,355.8 633.8,356.8 629.8,353.2 628.8,351.2 627.2,342.8 625.8,340.2 612.8,328.2 609.8,321.8 606.8,317.2 593.8,302.8 588.8,299.2 582.2,296.8 574.2,296.2 569.2,295.2 566.8,293.8 564.8,290.8 564.8,288.2 567.2,285.8 570.2,284.2 574.8,279.8 581.2,271.2 584.2,269.2 595.2,264.8 598.2,261.8 602.8,251.8 605.2,248.2 609.8,243.8 615.8,238.8 619.2,237.2 622.2,236.8 625.2,235.2 627.2,232.8 626.8,215.8 628.2,210.8 629.2,200.2 635.8,180.8 633.8,170.8 631.2,166.2 619.2,153.2 616.8,151.8 606.2,142.2 602.8,136.2 602.2,128.8 606.2,115.2 606.2,107.8 602.2,104.2 598.8,102.2 591.2,100.8 582.8,97.2ZM647.2,81.2 647.2,88.2 648.8,89.8 652.8,90.2 653.8,88.2 653.8,81.2ZM345.2,81.2 345.2,90.2 352.8,106.8 355.2,109.2 358.2,110.8 364.2,115.8 370.8,116.2 374.8,114.8 377.8,111.2 377.8,107.2 376.8,105.2 369.8,99.2 369.8,95.8 370.8,91.8 370.8,81.2ZM153.2,81.2 153.2,90.8 152.2,92.8 148.8,96.2 134.2,100.8 132.2,101.8 129.8,104.2 128.2,107.8 126.2,123.2 124.8,126.2 112.8,137.8 111.8,138.2 104.2,138.2 104.2,191.8 112.8,191.8 123.2,196.8 126.2,199.8 131.2,210.2 132.8,214.8 132.2,219.8 129.2,225.2 120.8,233.2 120.2,234.8 121.8,236.2 127.8,238.2 133.8,238.2 138.2,236.8 143.2,233.8 147.2,232.2 151.8,232.8 155.8,235.8 158.8,247.8 158.8,252.8 153.8,262.2 151.8,268.8 151.8,271.2 156.2,287.2 165.2,304.8 165.2,307.2 162.2,316.8 161.2,324.8 159.2,330.8 157.2,334.2 154.2,337.8 150.8,340.2 146.8,341.8 142.8,342.2 136.8,344.8 133.8,347.8 130.8,352.2 128.2,350.2 125.2,343.2 119.8,339.8 115.2,335.2 113.8,332.2 111.8,330.2 104.2,330.2 104.2,378.8 115.2,378.8 120.2,376.8 129.2,367.8 130.2,367.8 131.2,368.8 133.2,375.2 133.2,380.2 130.2,392.2 129.2,409.2 127.2,418.8 125.8,422.2 122.8,425.8 117.8,428.2 113.2,429.2 104.2,429.2 104.2,434.8 113.2,434.8 117.8,435.8 121.2,437.2 124.8,440.2 126.8,443.8 128.2,449.2 129.2,461.8 129.8,462.2 129.2,469.8 127.8,472.2 124.8,475.2 121.2,477.2 116.8,478.8 104.2,479.2 104.2,524.8 112.2,524.8 115.2,525.8 130.8,533.8 133.8,536.8 135.2,540.2 138.2,543.8 142.2,546.2 150.8,548.8 155.2,551.2 160.2,556.2 165.8,567.2 168.8,570.2 180.8,571.2 181.2,571.8 186.8,571.2 196.2,566.2 206.2,558.2 215.8,554.2 220.8,550.8 222.2,550.8 224.2,551.8 227.2,554.8 228.8,557.8 231.2,567.8 233.8,572.8 237.2,576.8 239.2,577.2 243.2,574.8 247.8,570.8 256.8,565.2 259.2,562.2 261.2,558.2 260.8,553.8 258.2,547.8 256.2,545.8 247.2,541.2 246.2,539.8 248.2,532.2 248.8,521.2 251.8,512.8 253.8,504.8 254.2,486.8 252.8,484.8 247.2,480.8 240.2,474.2 234.8,471.2 232.8,469.2 232.8,468.2 236.8,465.2 237.8,463.8 236.8,461.8 236.8,458.8 238.8,457.2 243.2,456.2 245.8,454.2 254.8,434.2 255.2,429.2 253.2,421.2 252.8,415.2 250.8,410.8 246.8,405.2 242.2,401.2 236.2,397.8 234.2,395.8 234.8,377.8 232.2,370.8 219.2,346.8 215.2,341.2 211.8,337.8 204.2,331.8 199.8,329.2 195.8,325.2 194.8,323.2 194.8,285.2 194.2,284.8 193.8,272.2 193.2,271.8 193.2,252.8 191.2,249.2 185.8,244.2 181.2,242.8 177.8,240.8 173.8,236.2 173.2,233.8 178.8,226.2 183.2,222.2 192.2,211.2 198.2,205.2 202.8,202.2 209.2,202.8 216.8,205.8 227.2,216.2 233.2,219.8 237.2,221.2 239.2,221.2 253.2,207.2 254.8,204.8 255.2,199.2 254.2,196.8 251.8,194.2 246.2,191.2 241.2,189.8 236.8,189.8 230.8,191.2 220.2,195.2 219.8,194.8 214.2,194.2 207.8,191.8 203.8,187.8 202.8,185.8 199.2,171.2 198.2,162.8 194.8,154.8 191.2,150.2 187.8,147.2 184.8,145.8 176.8,146.2 172.2,147.2 169.2,148.8 166.8,148.8 162.8,142.8 150.2,130.2 144.8,126.2 144.8,125.2 146.2,123.8 149.8,122.2 156.8,116.8 164.2,112.8 167.2,111.8 171.8,111.8 176.8,110.8 179.8,108.2 182.8,106.8 187.2,105.8 194.2,101.8 198.2,97.2 201.2,90.2 201.2,81.2ZM206.8,472.8 208.2,478.2 208.2,486.2 205.8,490.2 201.8,493.2 184.2,495.8 177.8,492.8 174.8,489.8 173.2,487.2 173.2,485.2 175.2,481.8 180.8,476.2 183.8,474.2 194.2,472.2 200.8,470.2 204.2,470.2ZM142.2,424.2 149.2,424.2 162.8,430.2 165.8,433.2 162.2,449.8 160.8,465.2 160.2,465.8 160.8,483.2 163.2,496.2 163.8,504.8 160.8,511.2 160.8,516.8 158.2,519.8 151.8,522.2 145.8,522.2 141.8,521.2 138.8,519.8 125.8,505.8 125.2,504.2 126.2,502.2 131.2,496.8 136.2,486.8 136.2,483.2 132.2,468.8 131.8,431.8 133.2,427.8 135.2,425.8Z"/>
<path fill="#383838" fill-rule="evenodd" stroke="#d8d8d8" stroke-opacity="0.22" stroke-width="0.6" d="M642.8,721.8 643.8,728.8 668.8,728.8 668.8,720.2 668.2,719.2 664.8,716.2 660.2,714.8 657.8,714.8 657.2,714.2 650.8,714.8 644.8,718.2ZM280.8,703.2 280.2,706.8 282.2,709.8 285.2,711.2 291.8,711.2 294.8,708.8 297.2,702.8 293.8,700.2 286.2,700.2 282.2,701.8ZM591.2,692.2 589.2,694.8 589.8,696.2 591.8,698.2 594.8,699.2 596.2,700.8 596.2,703.2 597.2,705.2 598.8,706.8 599.8,706.8 604.2,702.2 603.8,697.8 604.8,695.8 604.2,693.8 602.8,692.2 599.2,690.8 596.2,690.8ZM580.8,679.8 579.2,683.2 580.8,684.8 584.8,684.2 585.2,682.8 582.2,679.8ZM626.8,680.2 625.2,678.2 623.2,677.2 619.8,676.8 615.8,677.8 613.2,680.2 613.2,682.8 615.8,685.2 622.2,685.8 624.8,684.8 626.8,682.8ZM644.2,639.2 641.8,641.8 639.2,647.8 638.8,666.2 641.2,670.8 645.2,674.8 651.8,678.2 659.8,679.8 662.8,679.8 663.2,680.2 666.2,680.2 666.8,680.8 670.2,680.8 670.8,681.2 676.8,681.2 681.8,682.8 683.2,684.8 683.2,695.2 682.2,696.8 682.2,699.2 683.2,701.2 685.2,702.8 686.8,703.2 690.8,702.8 692.2,701.2 692.8,698.2 690.8,693.8 690.2,683.8 687.8,677.8 686.2,671.8 685.8,651.8 684.8,647.8 676.8,642.2 671.2,639.8 662.2,638.8 652.8,636.2 648.2,637.2ZM167.2,582.2 160.8,587.2 155.8,593.2 155.8,596.8 158.2,605.2 160.8,610.8 160.8,613.2 157.2,620.2 151.2,629.2 151.2,632.2 154.8,640.2 160.8,648.2 160.2,654.2 159.8,654.8 159.2,665.2 151.8,675.2 148.2,678.8 140.8,683.2 139.8,685.8 144.8,700.8 150.2,707.8 152.8,714.2 153.8,718.2 153.8,728.8 205.8,728.8 205.8,721.2 206.8,719.2 211.8,714.2 216.8,705.2 219.8,693.2 221.8,687.8 223.8,684.2 229.8,678.2 235.2,667.8 235.8,664.2 235.2,663.8 235.2,657.2 234.8,656.8 234.8,641.8 235.2,641.2 235.2,636.2 235.8,635.8 235.8,627.8 234.8,623.8 231.2,616.8 227.2,613.2 221.8,609.8 220.2,609.8 213.2,613.8 203.8,616.8 201.2,616.2 197.8,613.2 197.2,611.8 200.2,608.8 208.8,605.2 211.2,602.8 211.2,598.8 209.8,596.2 206.2,592.8 202.2,590.2 197.2,585.8 193.8,583.8 186.8,581.2 176.2,581.2 175.8,581.8ZM723.2,563.2 725.2,565.2 729.8,566.2 737.8,565.8 741.2,564.2 741.2,563.2 739.2,561.8 732.8,561.2 732.2,560.8 731.8,561.2 725.2,561.8ZM236.8,555.8 236.8,559.2 239.2,562.8 243.2,561.8 246.8,563.8 250.8,563.8 254.2,561.8 254.2,559.2 251.2,557.2 247.8,556.8 239.8,552.8 238.2,553.2ZM654.2,532.2 653.8,535.8 656.8,538.8 658.8,539.2 662.2,538.8 665.2,535.8 665.2,532.8 662.8,530.2 661.2,529.8 656.2,530.2ZM580.8,523.8 566.8,533.2 559.8,540.2 560.2,544.8 561.8,549.2 561.2,554.8 561.8,555.2 562.2,571.8 564.8,583.8 566.8,587.8 571.2,592.2 574.8,594.2 581.8,600.8 586.8,608.8 592.2,613.8 593.2,617.2 593.2,629.2 594.8,632.2 598.2,635.2 602.8,635.2 619.2,631.2 622.2,629.2 620.2,618.8 620.2,614.8 619.8,614.2 620.2,606.2 622.8,595.8 625.8,589.8 628.8,579.8 628.2,573.8 624.8,567.8 615.2,558.2 608.2,547.8 596.8,536.2 593.2,531.8 586.8,526.2 582.2,523.8ZM104.2,497.8 111.8,497.8 112.8,497.2 122.8,486.2 120.8,485.2 115.8,484.8 115.2,484.2 104.2,484.2ZM589.2,480.2 587.8,481.8 586.8,485.2 587.2,487.8 588.2,489.2 590.8,489.8 592.2,488.2 592.8,483.8 591.8,481.2ZM580.8,477.2 579.2,481.2 579.2,487.2 580.2,489.2 581.8,489.8 583.2,487.2 583.2,482.8 582.2,480.8 582.2,479.2ZM248.2,486.2 240.2,479.2 237.8,477.8 221.2,472.2 218.2,473.2 214.2,477.2 212.8,481.2 212.2,484.8 210.2,489.2 207.8,492.8 203.8,496.8 201.8,497.8 191.2,499.8 185.8,501.8 176.2,502.8 170.8,505.2 167.8,509.2 164.8,518.2 160.8,523.2 158.2,528.2 155.2,531.2 149.2,534.2 146.8,536.8 145.8,538.8 146.2,540.2 149.2,542.2 158.8,543.8 162.8,545.8 165.8,548.8 168.2,554.2 170.8,556.8 174.8,558.8 182.8,561.2 185.8,561.2 192.8,557.2 199.8,555.2 201.8,555.2 212.2,550.8 215.2,548.8 220.2,543.8 237.8,534.8 241.8,530.8 243.2,527.8 247.2,514.8 248.2,513.2 248.2,511.8 250.8,504.2 249.8,491.8ZM652.2,356.8 649.2,358.8 644.2,360.8 641.2,363.2 640.2,367.8 638.8,370.2 636.8,376.2 637.2,378.8 652.8,394.2 653.8,396.2 655.2,421.8 656.2,426.8 658.8,431.8 658.8,433.2 657.8,435.2 652.8,440.2 650.8,446.8 650.8,451.2 652.2,454.2 654.2,455.8 664.8,455.8 665.2,456.2 665.2,459.2 666.8,461.8 669.8,463.2 672.8,463.2 674.2,462.8 674.8,461.2 671.2,457.2 669.8,456.2 665.2,456.2 664.8,455.8 664.8,449.8 666.2,446.8 670.8,442.8 672.8,437.2 673.8,432.2 679.8,422.8 683.8,414.2 684.8,409.8 684.8,405.2 685.2,404.8 685.2,395.8 683.2,386.2 682.8,380.2 679.8,371.8 671.8,362.2 669.2,360.8 666.2,360.2 658.2,357.2ZM600.2,354.8 597.8,355.8 595.8,361.8 591.8,368.2 587.2,372.2 581.2,375.2 578.8,377.8 578.8,381.2 580.2,386.8 581.2,388.8 583.8,390.8 591.8,391.8 592.2,392.2 596.2,392.2 596.8,392.8 598.8,392.2 613.2,377.2 604.8,360.2 604.2,358.2 602.2,355.8ZM614.8,339.8 612.2,341.2 611.8,343.2 613.8,346.2 616.2,347.2 618.2,345.8 619.2,343.8 619.2,342.2 617.2,339.8ZM580.2,300.2 575.8,301.2 571.8,303.2 569.8,305.2 568.8,307.2 568.2,312.2 567.8,312.8 566.8,324.2 569.2,331.2 573.2,339.2 576.8,344.2 581.2,347.8 584.8,347.8 590.2,345.8 597.8,335.8 602.8,331.2 604.2,327.8 604.2,323.2 591.2,305.8 587.8,303.2ZM651.8,283.8 646.8,288.8 639.2,303.8 639.2,305.2 640.8,306.2 647.8,308.2 654.8,308.8 658.2,307.2 659.8,305.8 659.8,304.2 657.2,297.2 655.2,287.8 653.2,283.8ZM104.2,266.2 104.2,275.8 112.2,275.8 115.2,274.2 117.8,271.2 117.2,269.2 113.8,266.8 112.2,266.2ZM185.2,250.2 176.8,250.8 167.2,254.2 163.2,258.8 159.2,265.8 157.8,270.2 160.2,278.8 166.2,292.2 172.8,300.2 174.8,304.2 174.8,307.8 172.8,311.8 168.8,316.2 166.8,319.8 165.2,325.2 164.8,333.2 162.8,339.8 160.2,342.2 153.2,344.8 143.8,349.8 140.2,352.8 136.2,359.2 137.2,367.2 139.2,375.2 139.2,379.8 135.2,395.2 135.2,413.8 136.2,416.2 138.8,418.8 142.2,420.2 150.2,421.8 154.8,424.2 167.8,429.8 170.8,432.2 170.2,440.8 165.2,467.2 165.8,472.2 167.2,476.2 168.2,476.2 169.8,473.8 172.8,470.8 177.2,468.2 182.2,466.8 187.8,466.2 200.2,463.2 202.2,463.2 206.8,461.2 210.8,458.2 215.2,458.8 219.8,461.8 224.8,463.8 231.2,463.8 233.8,462.8 234.8,461.8 234.8,459.2 235.8,457.8 237.2,456.8 241.2,455.8 243.8,453.8 247.8,445.8 250.8,435.8 252.2,432.8 252.2,429.8 250.2,420.8 249.8,414.2 246.2,408.8 241.2,403.8 232.8,399.2 229.2,395.8 231.2,387.2 232.2,378.2 227.8,367.8 221.8,359.2 217.8,351.8 212.2,343.8 204.2,336.2 196.2,332.2 191.8,327.8 189.8,323.8 189.2,269.8 188.8,269.2 187.8,254.8 186.8,251.8ZM395.8,209.8 390.8,212.2 387.8,215.2 387.2,216.8 387.8,229.8 388.8,232.8 388.2,250.8 387.8,252.2 383.8,255.2 378.2,256.8 375.2,258.2 372.8,260.8 372.8,263.2 380.8,270.2 387.8,287.8 389.8,290.8 393.8,294.8 400.8,298.8 404.8,303.8 405.8,305.8 405.2,323.2 403.2,325.8 400.8,327.2 388.2,329.8 382.2,330.2 373.8,334.2 370.8,337.2 366.8,344.2 360.2,350.2 356.8,355.2 348.8,376.2 348.8,379.8 355.8,393.8 363.8,402.2 367.8,410.2 377.8,425.2 382.2,428.8 389.8,429.8 393.2,431.8 393.2,432.8 389.2,436.8 386.8,443.8 384.2,468.2 387.2,474.8 390.2,479.8 394.2,484.8 395.2,487.2 394.2,501.2 393.2,505.2 384.8,521.8 381.8,523.8 379.2,524.2 376.8,527.2 376.2,532.2 375.8,532.8 375.8,540.2 377.8,543.2 378.2,546.2 377.8,547.8 375.2,550.8 374.2,553.8 374.2,556.2 373.8,556.8 373.8,573.2 373.2,574.8 371.2,576.8 366.2,579.2 362.2,580.2 355.8,583.2 350.8,587.2 349.2,589.2 347.8,593.2 346.2,603.8 336.8,613.2 332.8,618.2 329.8,623.2 329.8,625.2 330.2,626.2 332.2,627.2 335.2,627.2 337.2,628.2 337.8,634.2 340.2,645.2 341.8,648.8 343.8,650.8 344.8,650.8 345.8,649.8 348.2,643.8 351.2,640.2 363.2,633.2 365.8,633.2 369.8,635.2 376.2,639.8 382.2,645.2 383.8,648.8 385.8,665.8 395.2,677.2 400.2,684.8 401.8,692.2 401.8,695.2 403.8,702.2 406.2,707.8 407.2,711.8 409.2,715.8 413.2,721.2 413.2,728.8 574.8,728.8 574.8,721.2 574.2,720.2 571.8,718.2 562.2,713.8 555.2,707.2 548.8,696.8 541.2,691.2 534.2,684.8 530.8,676.8 525.8,670.2 521.2,661.2 515.8,655.2 509.2,651.2 506.8,647.8 506.2,639.2 505.2,634.2 505.2,625.8 505.8,625.2 505.8,619.8 506.2,619.2 506.2,592.8 502.8,579.8 500.2,573.8 494.8,568.8 483.8,563.2 472.2,560.2 470.2,559.2 468.2,556.2 468.2,551.2 467.8,550.8 467.8,546.2 467.2,545.8 466.8,540.2 469.2,533.2 473.8,524.8 478.2,520.8 495.2,514.8 498.2,512.8 501.8,509.2 504.2,504.8 503.8,485.2 500.2,474.2 497.2,468.2 498.2,464.8 500.8,460.2 504.2,451.2 504.2,442.8 503.8,442.2 503.2,430.2 500.2,415.8 500.2,397.8 499.2,394.2 497.2,391.2 492.8,386.2 490.2,384.8 478.8,382.8 473.8,381.2 456.2,382.2 454.8,381.8 453.2,380.2 452.2,378.2 452.2,374.2 452.8,373.8 452.8,369.2 453.2,368.8 453.2,365.2 454.2,360.2 460.8,353.8 463.2,350.2 465.8,345.2 467.2,340.2 467.8,331.8 468.2,331.2 468.2,321.8 464.8,305.8 461.8,300.2 456.2,293.8 455.2,291.8 454.8,285.8 453.2,281.8 448.2,276.8 443.2,273.8 439.8,270.8 439.8,268.2 441.8,264.2 443.2,258.2 443.2,255.8 443.8,255.2 443.2,250.8 438.8,246.2 436.2,245.2 430.8,241.2 425.8,235.8 421.8,227.8 419.2,225.2 415.8,223.8 412.2,220.8 410.2,217.2 410.2,212.2 409.8,211.8 405.2,210.8 401.2,208.8ZM399.2,597.2 400.2,596.2 403.2,595.2 412.2,595.2 415.2,596.8 414.8,598.2 412.2,599.2 402.8,599.2 400.8,598.8ZM405.2,540.8 406.8,539.2 408.2,538.8 411.8,538.8 413.2,539.2 414.8,540.8 414.8,541.8 413.2,543.2 411.8,543.8 408.2,543.8 406.8,543.2 405.2,541.8ZM224.8,196.8 223.2,198.2 223.2,199.8 226.8,206.8 228.8,208.8 237.2,213.8 239.8,213.8 242.2,211.8 250.2,207.8 252.2,205.8 253.2,202.8 252.8,200.2 250.2,196.8 240.8,192.2 234.8,192.8ZM417.8,170.8 416.2,172.8 416.2,175.2 418.2,177.2 423.2,177.8 425.8,175.8 426.2,172.8 425.2,171.2 421.8,169.8ZM363.2,161.2 363.2,163.2 364.8,165.8 369.8,167.2 373.2,166.8 375.2,165.8 377.2,163.2 376.8,160.8 374.8,158.8 371.8,157.8 366.2,157.8 364.2,159.2ZM130.2,127.8 123.8,132.8 119.8,136.8 115.2,142.2 111.2,149.2 111.2,151.8 115.2,157.8 115.8,161.2 113.8,163.2 112.2,163.8 104.2,163.8 104.2,188.2 113.8,188.2 121.2,191.2 130.2,196.2 132.2,198.2 134.2,203.8 138.2,221.2 139.2,223.2 141.8,225.8 145.2,227.2 158.2,229.2 166.8,231.8 173.2,225.8 181.8,220.2 188.8,212.8 194.2,204.2 201.2,197.2 197.8,183.2 197.8,180.2 196.2,173.8 194.8,161.2 190.8,154.8 186.8,150.8 184.8,149.8 183.2,149.8 179.8,150.8 174.8,153.2 171.8,155.8 167.8,161.8 166.2,161.8 161.2,151.2 157.8,145.8 147.2,135.2 137.8,129.8 132.8,127.8ZM277.2,129.2 275.8,130.2 274.8,132.2 272.8,142.8 272.8,147.8 273.2,148.2 273.2,152.2 274.2,156.8 276.8,160.8 285.8,166.2 287.2,166.8 293.8,166.2 298.8,163.2 300.8,161.2 303.8,153.8 305.2,146.8 305.2,143.8 303.2,140.2 298.8,134.8 292.2,129.2 287.8,127.2 285.8,127.2 281.8,129.2ZM596.8,109.8 581.2,108.8 564.2,113.8 561.8,115.2 551.8,125.8 552.8,144.2 550.2,146.8 546.2,146.8 539.8,143.2 536.2,142.2 532.8,140.2 529.2,136.2 526.2,134.8 521.2,135.8 516.8,137.8 512.8,141.2 511.8,143.2 512.2,144.8 517.8,151.2 520.8,157.2 522.8,163.8 524.8,167.2 531.8,174.2 538.2,178.2 540.8,180.8 541.2,182.8 540.8,183.2 539.8,197.8 545.2,201.8 560.8,203.2 563.2,205.2 566.2,213.8 565.8,216.8 563.8,218.8 557.8,220.8 553.2,223.2 549.2,227.2 546.2,233.2 546.2,252.2 549.8,259.8 552.8,269.2 553.8,275.2 555.8,279.2 558.2,281.8 562.2,283.8 567.2,283.2 570.2,281.8 573.8,277.8 576.2,270.8 579.2,267.8 581.8,266.2 588.8,263.8 596.8,259.2 603.2,248.2 608.2,242.2 614.2,236.8 619.2,233.8 620.8,228.8 621.8,215.8 624.2,209.8 626.8,197.8 631.8,182.2 631.8,174.2 629.8,169.2 626.2,166.2 621.2,163.2 610.8,153.2 603.8,144.2 601.2,139.2 600.2,135.8 600.2,128.2 601.8,122.8 601.8,116.2 600.2,112.2 598.2,110.2ZM135.2,110.2 138.2,113.2 143.2,114.8 148.2,115.2 155.2,111.2 166.2,106.2 174.8,103.8 185.8,102.2 191.2,98.8 196.2,92.8 197.8,89.2 197.8,81.2 157.2,81.2 156.2,84.8 156.2,87.8 157.2,90.2 157.2,94.8 155.2,99.2 152.8,101.2 142.8,104.2 136.2,107.2 135.2,108.2Z"/>
<path fill="#303030" fill-rule="evenodd" stroke="#d8d8d8" stroke-opacity="0.22" stroke-width="0.6" d="M651.2,719.2 649.8,722.8 649.8,728.8 658.2,728.8 658.2,721.2 656.2,719.2 654.8,718.8ZM284.8,704.2 284.2,706.8 286.2,708.8 289.2,708.8 291.2,706.8 290.8,704.2 289.2,703.2 286.2,703.2ZM590.8,694.2 590.8,696.2 591.8,697.2 595.8,698.8 599.8,698.8 602.8,696.2 602.8,694.2 601.2,692.8 598.2,691.8 593.2,692.2ZM646.8,644.8 644.2,649.2 643.2,665.8 644.8,668.2 648.2,671.8 653.8,674.8 664.2,676.8 667.2,676.8 667.8,677.2 674.8,676.8 677.8,675.2 680.2,672.8 682.2,668.2 682.2,659.2 681.8,658.8 681.2,650.2 680.8,648.8 678.2,646.2 670.2,642.2 664.8,642.2 664.2,641.8 659.2,641.8 658.8,641.2 654.2,641.2 653.8,640.8 650.8,641.8ZM611.2,612.2 607.2,610.8 604.8,610.8 601.2,612.8 598.2,616.2 597.2,619.8 597.2,624.2 597.8,624.8 597.8,630.2 598.8,631.2 606.8,630.8 610.2,629.8 614.8,625.2 615.8,622.8 615.8,618.2 614.8,615.8ZM186.2,584.8 179.8,584.8 179.2,585.2 175.8,585.2 175.2,585.8 167.2,586.8 160.2,593.8 160.2,596.2 162.2,603.2 167.2,611.2 167.2,613.8 159.2,629.2 159.8,631.8 159.2,637.2 159.8,638.2 163.8,640.8 167.8,641.2 171.2,639.8 175.8,635.2 178.2,629.8 181.8,626.2 183.8,625.2 185.2,625.2 187.2,626.8 188.2,628.8 188.2,639.8 187.8,640.2 187.8,647.2 187.2,648.2 184.2,650.8 176.8,651.8 169.8,654.8 167.2,657.8 164.8,665.2 163.2,667.8 153.2,679.2 149.8,684.2 149.8,686.8 151.8,695.2 156.2,708.8 156.8,715.2 157.2,715.8 157.2,728.8 199.8,728.8 200.2,719.8 207.2,712.8 211.2,707.2 214.2,700.8 216.2,689.8 218.8,682.8 227.2,674.2 231.8,665.8 231.2,646.8 231.8,646.2 231.8,641.2 232.2,640.8 232.2,636.2 232.8,635.8 232.8,628.8 230.8,623.8 228.8,620.8 224.8,616.8 222.2,615.2 219.2,615.2 204.2,620.2 200.2,620.2 196.2,618.8 193.2,615.8 192.8,611.8 195.2,609.2 205.2,604.2 207.2,602.2 207.8,599.8 206.8,597.8 203.2,594.2 190.8,586.8ZM244.8,560.2 244.8,561.2 245.8,562.2 248.2,563.2 251.8,562.8 253.2,561.2 253.2,559.8 250.8,558.2 247.2,558.2ZM575.8,531.2 569.2,534.8 565.2,538.8 563.8,543.2 563.8,553.8 564.8,558.8 564.8,569.2 565.2,569.8 565.8,576.2 567.2,580.8 570.2,586.2 575.2,591.2 579.2,593.8 591.8,606.2 597.8,609.2 605.2,608.8 609.8,606.2 611.8,604.2 614.2,599.8 616.2,592.2 618.2,588.8 619.8,584.2 620.8,583.2 625.2,582.8 627.2,579.8 627.2,576.8 625.8,574.2 623.8,573.2 621.2,573.2 619.8,571.8 615.2,563.8 606.8,551.2 591.8,536.2 586.2,532.2 581.2,529.8ZM589.2,481.2 587.8,483.2 587.8,486.8 589.2,488.8 590.8,488.8 592.2,486.8 592.2,483.8 590.8,481.2ZM239.2,483.8 221.8,477.8 220.2,478.2 217.8,480.8 212.2,492.8 207.2,498.8 202.2,502.2 194.8,504.2 180.2,510.2 174.2,515.8 171.2,521.8 170.8,530.8 170.2,531.2 170.2,540.2 173.8,547.2 177.8,551.2 181.2,553.2 186.2,554.2 191.2,552.8 203.8,550.8 209.8,547.8 213.2,545.2 220.2,537.2 232.8,530.8 239.2,525.2 243.8,515.8 247.2,505.8 247.2,500.8 244.8,491.2 242.8,487.2ZM603.2,371.8 600.8,373.8 600.8,377.2 603.2,379.2 605.8,379.2 607.8,377.8 608.2,374.2 606.8,372.2ZM648.2,362.2 646.2,363.2 644.8,365.2 644.8,366.8 646.2,369.8 646.2,371.8 644.2,374.8 643.2,377.8 655.8,391.2 658.2,396.8 659.2,404.8 662.2,413.8 665.8,420.2 669.8,424.2 671.2,424.2 674.2,420.2 679.2,411.2 682.2,401.2 682.8,395.8 678.2,372.8 674.2,367.8 669.2,364.8 656.2,361.8ZM183.8,327.8 180.8,331.8 178.2,338.8 176.2,341.8 171.2,343.8 161.8,346.2 154.2,349.8 148.2,353.8 143.2,358.8 142.8,362.8 145.8,375.8 145.8,378.8 140.8,394.2 140.8,413.8 143.2,416.2 167.8,426.8 173.8,429.8 176.2,432.2 176.2,437.8 175.8,438.2 175.8,443.2 175.2,443.8 174.8,449.8 176.8,454.8 178.8,457.2 178.8,458.2 176.2,462.8 176.2,464.2 177.2,465.2 180.8,464.8 189.2,459.2 202.2,456.8 209.8,449.8 212.2,449.8 213.8,450.8 218.8,456.2 224.2,459.8 228.8,460.8 231.2,460.2 234.8,456.8 239.2,455.2 241.8,453.2 245.8,445.2 249.2,433.2 249.2,429.2 247.8,423.8 246.8,414.2 245.8,412.2 240.8,406.8 230.8,402.2 227.8,400.2 224.2,396.8 224.2,394.8 226.2,391.2 229.2,381.8 229.2,376.8 225.8,369.8 222.8,365.2 217.8,359.8 209.8,347.2 206.2,342.8 203.2,340.2 195.2,338.8 190.8,336.8 187.2,333.2 184.8,328.2ZM179.8,312.8 179.2,312.2 176.2,312.2 173.2,313.8 170.2,316.8 169.2,318.8 169.2,320.8 171.8,321.8 176.8,319.2 179.8,315.2ZM580.8,304.2 578.2,305.2 576.2,307.2 574.2,311.2 571.8,319.8 571.2,324.2 575.2,335.2 578.8,340.8 581.2,342.8 585.8,342.8 589.2,341.2 593.8,336.8 596.2,332.2 598.8,323.8 594.2,313.8 591.2,309.8 588.2,307.2 583.2,304.8ZM164.2,269.8 165.2,273.8 167.2,277.2 168.2,277.8 172.8,277.8 173.2,277.2 178.2,276.8 181.8,274.2 182.8,271.8 182.2,269.8 179.8,267.8 171.2,265.2 167.2,265.2 165.8,266.8ZM400.2,211.8 394.8,214.2 393.2,215.8 393.2,218.8 396.2,224.8 399.2,227.8 403.8,229.2 405.8,231.2 405.8,234.2 396.8,245.8 394.8,251.2 393.2,253.2 390.2,254.8 378.8,258.2 375.8,260.8 375.2,262.2 376.8,264.8 383.8,268.8 387.2,272.2 394.2,287.8 403.2,295.8 407.8,302.2 409.8,308.2 410.2,323.8 406.8,327.8 402.2,330.8 395.2,332.2 381.8,333.8 376.8,336.8 373.2,340.2 367.8,348.8 362.2,354.2 359.8,357.8 354.2,374.2 353.2,375.8 353.2,379.8 360.2,392.8 365.2,399.2 367.2,405.2 369.8,410.2 378.2,421.2 382.8,425.2 388.8,424.8 393.2,422.8 396.8,418.8 398.2,414.2 402.2,411.8 406.2,411.8 406.8,411.2 411.8,410.8 415.2,409.8 417.8,408.2 419.2,408.2 421.8,411.8 421.8,414.2 420.2,417.2 418.2,419.2 413.2,421.2 409.2,424.8 406.2,431.2 404.2,433.2 398.2,436.2 393.8,440.2 391.8,443.2 389.8,448.2 388.8,468.2 394.8,478.2 400.8,485.8 401.2,487.8 401.2,504.2 392.8,521.8 381.2,531.8 378.8,537.8 378.8,541.2 380.2,544.8 380.2,547.2 379.2,549.2 379.8,574.8 377.8,576.8 374.8,578.2 362.2,582.2 355.8,585.8 355.2,587.2 355.8,587.8 355.8,591.8 349.8,597.8 349.8,600.2 350.8,602.2 350.2,604.2 341.2,610.8 335.8,616.2 332.8,620.2 331.8,623.8 333.2,625.2 337.2,625.2 343.8,623.8 345.2,624.8 346.2,627.2 347.8,628.2 349.8,627.2 353.8,623.2 357.2,616.8 365.2,610.8 370.8,610.8 371.2,611.2 379.2,612.2 381.8,613.8 381.8,614.8 376.8,624.2 375.8,627.2 375.8,629.8 381.2,633.8 383.8,637.2 386.8,647.8 388.8,665.2 389.8,667.2 402.8,683.2 404.8,689.2 405.8,697.8 407.8,702.2 411.2,707.2 419.8,716.2 421.2,719.8 421.2,728.8 566.8,728.8 566.8,721.2 566.2,720.2 558.8,714.8 552.8,708.2 548.2,701.2 544.2,697.2 537.2,692.2 529.2,684.2 517.8,662.8 512.2,657.2 507.8,653.8 504.2,648.2 503.2,640.2 502.8,639.8 502.8,635.8 502.2,635.2 502.2,627.2 502.8,626.8 503.2,616.2 503.8,615.8 503.2,593.8 498.2,577.8 496.8,574.8 488.2,567.2 482.2,564.2 469.2,560.8 465.2,557.2 464.2,548.8 462.8,543.2 462.8,538.2 466.2,528.8 469.2,522.8 471.8,520.2 474.8,518.8 492.8,512.8 495.8,510.8 499.8,506.8 501.2,504.2 501.2,485.8 498.2,476.8 493.8,468.8 493.8,466.8 501.2,450.8 500.2,429.8 499.8,429.2 499.2,423.8 496.8,415.2 497.2,397.2 496.8,395.2 494.8,392.2 490.2,388.2 479.8,386.8 474.2,385.2 453.8,387.2 450.2,384.2 448.8,380.2 448.8,372.8 449.2,372.2 449.2,366.2 449.8,365.8 450.2,359.2 453.2,354.2 460.8,345.2 464.2,336.8 465.8,329.2 466.2,323.8 462.8,307.8 459.2,301.2 453.8,295.2 452.8,293.2 452.8,285.8 450.2,280.8 446.8,277.8 436.2,272.2 433.8,269.8 438.2,263.8 441.2,255.2 440.8,250.8 438.2,248.2 434.2,246.2 428.2,241.8 424.8,237.8 421.2,231.2 418.8,228.8 409.8,227.8 407.8,226.2 406.8,223.2 406.8,218.8 409.2,215.2 409.2,212.8 407.2,211.8 404.8,212.2ZM396.8,597.2 399.2,595.2 404.2,594.8 404.8,594.2 415.2,594.8 417.2,595.2 418.8,596.8 418.8,597.8 416.2,599.2 411.2,599.8 410.8,600.2 400.8,599.8 397.8,598.8ZM403.2,540.8 405.2,538.8 410.8,537.8 415.2,539.2 416.2,540.2 416.2,542.2 413.2,544.2 409.8,544.8 405.2,543.8 403.2,541.8ZM443.8,394.2 443.8,396.2 441.8,398.2 437.2,400.8 434.8,400.8 431.2,399.8 428.2,396.8 430.8,394.2 436.8,391.2 440.2,391.8ZM228.2,199.8 228.2,203.2 229.2,205.2 231.8,207.8 237.8,210.2 240.2,210.2 245.8,208.8 248.8,207.2 251.2,204.2 251.2,201.2 249.8,198.8 245.8,196.2 239.2,194.2 233.2,195.8 230.2,197.2ZM129.2,133.8 116.8,146.8 115.2,149.2 115.2,151.2 117.8,154.8 122.2,157.2 126.8,158.8 130.2,162.2 127.2,164.8 112.2,171.8 104.2,171.8 104.2,184.2 112.8,184.2 122.2,188.8 128.8,190.8 132.8,192.8 136.8,196.8 137.8,198.8 141.8,216.2 143.2,218.8 147.8,222.8 167.2,224.8 178.2,219.8 181.2,217.8 185.8,213.2 188.2,209.8 192.2,201.2 195.2,197.2 194.8,192.2 194.2,191.8 193.2,175.2 192.2,170.2 192.2,164.8 190.2,159.2 185.8,154.2 182.8,154.2 177.8,157.2 168.8,167.2 166.2,167.8 161.2,163.2 157.2,155.2 152.8,148.2 147.2,142.8 137.8,135.8 132.8,133.2ZM285.8,130.2 283.2,132.2 280.2,137.8 277.2,141.2 276.2,144.8 279.8,151.2 281.2,156.8 283.2,160.8 286.2,163.2 289.2,163.2 292.8,161.2 295.8,158.2 299.2,151.8 301.2,145.8 301.2,143.8 297.2,138.2 290.2,131.2 288.2,130.2ZM583.8,113.2 579.2,113.2 565.2,117.8 561.2,120.2 557.2,124.2 555.8,126.8 556.2,143.8 554.8,146.8 552.8,148.8 548.8,149.2 538.8,144.8 530.2,143.8 527.8,141.8 525.2,141.8 522.8,143.8 522.8,146.2 524.2,150.2 525.8,160.2 528.2,165.2 535.8,172.2 545.2,177.2 549.8,178.8 552.2,181.2 554.2,185.2 557.8,188.8 562.8,191.2 564.8,193.2 566.2,196.2 570.8,213.2 570.8,216.2 566.2,221.2 560.2,224.2 555.2,227.8 550.8,233.8 550.8,241.8 551.2,242.2 551.2,250.8 553.8,257.8 556.8,270.8 557.8,272.2 558.2,274.8 561.2,279.8 563.8,281.2 567.8,281.2 569.8,280.2 572.2,277.8 573.8,273.8 574.8,266.8 576.2,265.2 595.8,255.8 598.8,252.8 602.8,245.2 606.8,239.8 613.2,233.8 616.2,216.2 619.8,209.2 629.2,179.2 629.2,173.8 628.2,171.2 625.8,168.8 616.8,164.8 614.2,164.2 609.2,161.2 603.8,154.8 600.2,148.8 598.8,145.2 598.2,138.2 597.8,137.8 597.8,128.8 598.8,126.2 598.8,122.8 597.8,119.8 595.8,117.8 592.2,115.8ZM158.8,85.8 159.8,89.8 164.2,95.8 167.2,98.2 178.2,98.2 178.8,98.8 185.2,98.2 187.8,96.8 193.2,91.2 194.8,87.8 194.8,84.8 193.8,81.2 160.8,81.2Z"/>
<path fill="#400000" fill-rule="evenodd" stroke="#d8d8d8" stroke-opacity="0.22" stroke-width="0.6" d="M287.2,703.8 285.2,705.2 285.2,706.8 286.2,707.8 288.2,708.2 290.2,706.8 290.2,705.2 289.2,704.2ZM591.8,694.8 591.8,695.8 592.8,696.8 595.2,697.8 598.8,697.8 601.2,695.8 601.2,694.8 599.8,693.2 598.2,692.8 594.8,692.8 593.2,693.2ZM675.2,648.2 672.8,646.2 669.8,645.2 667.2,645.2 666.8,645.8 654.2,645.8 652.8,646.2 650.2,649.2 649.2,660.2 648.8,660.8 648.8,665.8 651.8,669.2 657.8,671.2 665.2,672.2 668.2,673.2 671.8,673.2 674.2,671.8 678.2,666.8 677.8,658.8 677.2,658.2 676.2,650.2ZM161.2,634.8 160.8,635.8 161.2,637.8 163.8,639.2 167.2,639.2 169.8,637.2 169.8,634.8 166.8,632.8 163.2,633.2ZM222.2,620.2 218.8,619.8 213.8,621.8 201.2,624.8 196.2,627.2 194.2,631.2 193.2,640.8 192.8,641.2 192.8,645.2 191.2,649.8 186.8,654.2 180.2,656.8 174.8,660.2 168.2,669.2 156.2,683.2 156.2,686.8 157.8,691.2 162.8,701.2 162.8,706.2 161.8,711.2 161.8,719.2 161.2,719.8 161.2,728.8 194.8,728.8 194.8,720.2 195.8,717.8 198.8,713.8 204.2,709.2 206.8,706.2 209.2,701.8 211.8,687.8 213.2,682.8 215.8,679.2 222.8,672.8 227.2,665.8 227.8,645.8 228.2,645.2 228.2,640.8 228.8,640.2 229.2,629.2 226.8,624.8ZM604.8,613.8 600.8,616.8 599.8,618.8 599.8,622.8 601.8,626.2 604.8,627.8 607.8,627.8 610.2,626.8 612.8,624.2 613.8,619.8 612.8,616.8 610.8,614.8 608.8,613.8ZM166.8,592.2 165.2,594.2 165.2,596.8 165.8,597.2 165.8,599.8 167.2,603.2 170.8,606.2 177.2,609.8 180.8,613.2 184.2,615.2 186.8,613.2 187.2,611.8 190.2,608.8 199.2,605.2 203.2,601.8 203.2,598.8 200.2,595.8 196.2,593.2 192.8,592.2 185.8,588.8 175.8,589.8ZM622.8,574.8 620.8,576.8 620.8,579.8 622.2,581.8 624.2,581.8 626.2,579.8 626.2,577.2 624.8,575.2ZM246.2,559.8 246.2,561.2 247.2,562.2 251.2,562.2 252.2,561.2 252.2,560.2 249.8,558.8ZM573.8,535.2 570.8,536.8 568.2,539.2 566.8,542.2 565.8,547.2 566.2,554.8 567.8,560.8 568.2,572.2 569.2,577.2 572.2,583.8 579.2,591.2 593.2,601.8 597.8,604.2 600.8,604.2 605.2,601.8 608.8,598.2 611.2,594.2 615.2,583.8 616.8,576.8 616.2,574.2 613.8,568.2 609.8,561.2 603.2,552.8 595.8,545.2 581.8,534.8 578.2,534.2ZM239.8,492.8 237.8,490.8 234.8,489.8 228.8,486.2 223.2,484.2 221.2,484.2 219.8,485.8 217.8,491.8 214.2,498.2 203.8,508.8 197.2,511.8 188.2,514.8 186.8,514.8 183.8,516.2 179.2,520.8 174.8,533.2 174.8,538.8 176.8,542.8 179.8,545.8 184.8,548.8 192.8,548.8 193.2,548.2 201.8,547.8 204.8,546.8 209.8,543.8 213.2,540.2 215.2,536.2 218.8,531.8 231.2,524.2 239.2,515.8 243.8,504.8 243.2,500.8ZM589.2,482.2 588.2,484.2 588.2,486.2 589.2,487.8 590.8,487.8 591.8,486.2 591.8,484.2 590.8,482.2ZM457.2,392.8 453.8,394.2 450.2,397.8 444.8,401.8 437.8,405.2 433.8,406.2 430.8,407.8 428.2,410.8 425.8,417.2 419.2,427.8 414.2,432.8 400.2,440.8 395.2,446.2 393.8,449.2 393.8,467.2 394.8,469.8 402.2,479.8 404.8,484.2 406.2,497.8 407.2,501.8 407.2,505.8 405.2,513.8 402.2,521.2 395.2,528.2 388.2,533.8 384.8,535.8 382.2,538.8 382.2,542.2 383.2,544.2 383.8,548.8 386.8,558.2 387.2,574.8 385.8,576.8 381.8,578.8 366.8,582.8 359.2,585.8 357.8,587.8 357.2,592.8 352.8,597.8 354.2,601.2 354.2,602.8 351.8,605.2 341.8,611.8 335.2,618.8 334.2,620.8 334.2,622.8 334.8,623.2 339.8,623.2 345.8,621.2 349.8,619.2 362.8,610.2 367.2,608.2 371.2,607.8 376.2,608.8 381.8,608.8 385.8,609.8 388.8,611.8 389.2,613.8 387.8,618.2 385.8,629.8 389.2,642.8 392.2,665.2 400.2,676.2 406.2,683.2 407.8,686.2 408.8,690.2 408.8,696.2 410.2,700.2 412.2,703.2 421.8,711.8 423.2,714.2 425.2,719.2 425.2,728.8 465.2,728.8 465.2,721.2 466.8,719.2 472.2,716.8 475.2,716.8 482.8,718.2 490.2,720.8 491.8,723.2 491.8,728.8 559.2,728.8 559.2,720.8 558.8,719.8 551.8,712.8 545.2,703.2 534.8,695.2 524.2,684.8 517.8,672.2 515.8,666.8 506.2,656.2 501.2,647.8 500.8,641.8 500.2,641.2 500.2,627.8 501.2,622.8 501.2,608.2 500.8,607.8 500.2,599.8 499.8,599.2 499.8,594.2 493.2,574.8 488.2,569.2 485.2,567.2 478.8,564.2 465.8,561.2 461.8,557.8 461.2,554.2 457.2,540.8 457.2,538.8 460.8,528.2 463.2,522.8 466.8,519.2 473.2,515.8 491.8,509.8 497.8,503.8 498.2,485.2 495.8,478.2 489.8,467.8 490.2,465.2 496.8,452.8 497.8,449.8 497.8,443.8 497.2,443.2 497.2,431.2 496.8,430.8 496.2,424.2 492.8,415.2 492.8,408.2 493.2,407.8 493.2,401.8 493.8,401.2 493.8,396.2 493.2,395.2 489.8,392.2 480.8,391.2 474.2,389.8 468.8,390.2ZM421.2,595.2 421.2,597.8 420.2,598.8 412.2,600.8 399.8,600.2 397.8,599.8 394.8,597.8 396.2,595.8 398.8,594.8 403.8,594.2 404.2,593.8 412.8,593.8 414.8,593.2 417.8,590.8 419.2,590.8 420.8,592.2 420.8,594.8ZM402.2,540.2 405.8,537.8 411.8,537.2 416.8,539.2 417.8,541.8 415.2,544.2 411.2,545.2 408.2,545.2 403.8,543.8 402.2,542.2ZM603.8,372.8 602.2,374.2 602.2,376.8 603.2,377.8 605.2,378.2 607.2,376.8 607.2,374.2 605.8,372.8ZM649.2,364.2 648.2,365.2 648.2,367.2 653.2,373.2 653.2,374.2 651.2,376.2 650.8,378.2 652.2,380.2 656.2,382.8 659.8,386.8 661.8,391.8 662.8,397.8 665.2,404.8 668.8,410.8 671.2,412.2 674.8,407.8 678.8,398.2 678.8,393.2 676.8,383.2 675.2,378.8 675.2,374.8 675.8,374.2 675.2,371.8 670.8,367.2 663.8,364.8 655.8,363.2 652.8,363.2ZM153.8,356.2 150.2,359.8 150.2,364.2 152.2,374.2 152.2,379.8 146.8,395.2 146.8,413.2 149.8,415.8 150.8,415.8 166.2,423.2 172.2,424.8 177.2,427.2 182.2,431.8 182.8,433.8 182.2,435.8 182.2,449.8 185.8,453.8 178.8,460.2 177.8,462.8 178.2,463.8 180.8,463.8 184.2,461.8 188.2,457.2 188.8,453.2 189.8,452.2 201.8,449.2 206.8,444.2 208.8,443.2 210.8,443.2 213.2,444.2 219.2,450.2 220.8,452.8 225.2,456.2 230.2,456.8 237.8,453.8 240.8,449.8 242.8,445.8 245.2,434.8 246.2,432.8 246.2,430.2 244.2,423.8 243.2,413.8 239.8,409.8 237.8,408.8 229.2,406.8 224.2,404.2 218.8,398.8 218.2,395.8 224.2,387.8 226.2,382.2 226.8,377.8 222.8,370.8 220.8,368.2 218.2,366.8 214.2,362.8 212.8,359.8 204.2,347.8 200.8,345.8 184.2,344.8 165.2,349.8ZM178.2,314.2 177.2,313.2 176.2,313.2 173.2,314.8 171.2,316.8 170.8,319.8 173.2,320.2 175.2,319.2 177.2,317.2ZM581.8,309.2 579.2,311.2 576.8,315.8 574.8,323.8 575.8,328.8 578.8,335.8 581.8,338.8 585.8,339.2 589.2,337.8 593.2,332.8 595.2,326.8 595.2,322.2 592.2,315.2 589.2,311.8 586.8,310.2ZM418.8,233.2 416.8,233.2 414.8,234.2 409.8,238.8 404.2,246.2 401.8,251.8 399.8,253.8 385.2,257.2 379.8,259.8 378.2,261.8 379.2,264.2 390.2,270.2 394.2,273.8 399.8,285.2 409.2,296.8 411.8,301.2 413.8,306.8 414.2,313.2 414.8,313.8 415.2,319.2 416.2,321.8 416.2,324.2 415.2,326.2 410.8,330.8 405.2,334.2 401.2,335.8 384.8,336.8 380.8,338.2 376.8,342.2 374.2,347.2 370.8,352.2 363.8,359.2 362.8,361.2 361.8,366.2 358.2,376.2 358.2,378.8 365.8,392.2 368.8,404.2 370.2,407.8 374.8,413.8 382.2,420.8 383.8,421.2 388.2,419.2 394.8,412.8 401.8,408.8 408.2,406.8 412.8,404.2 416.2,400.8 417.8,397.8 421.8,394.2 422.8,394.2 432.8,389.2 442.2,383.8 443.8,381.2 444.8,377.2 445.2,361.2 446.2,357.2 449.8,350.2 456.8,342.8 459.2,338.8 463.2,326.8 463.2,321.8 459.2,306.2 455.8,301.2 452.8,299.2 449.2,295.2 449.2,291.8 450.2,289.2 450.2,285.2 449.2,282.8 443.2,277.8 437.8,275.2 430.2,273.2 426.8,270.8 427.2,268.2 437.2,257.8 438.8,252.2 437.2,250.2 431.2,247.2 427.8,244.8 424.2,241.2ZM408.2,213.2 404.8,212.8 400.8,214.2 398.2,216.8 398.8,219.2 400.2,220.2 401.8,220.2 404.8,218.8 408.2,215.2ZM231.2,201.2 231.8,204.8 234.8,207.2 237.8,208.2 244.2,207.8 247.2,206.2 249.2,203.8 249.2,202.2 247.2,199.2 241.8,196.8 235.2,197.2 232.8,198.8ZM623.8,170.2 618.2,168.2 606.8,167.8 599.8,163.8 598.2,163.8 594.2,167.2 591.8,171.2 588.8,180.2 582.8,186.8 577.2,189.2 573.8,193.2 572.8,196.2 572.8,199.2 576.2,214.2 575.8,217.2 574.2,219.8 569.8,224.2 561.2,228.8 556.2,233.8 556.2,241.2 556.8,241.8 557.2,250.8 560.2,263.2 560.2,268.2 559.8,268.8 560.2,273.2 561.8,276.8 563.8,278.8 568.2,279.2 570.8,277.2 571.8,275.2 572.2,268.2 571.2,265.8 571.2,262.2 574.8,259.8 581.2,258.2 593.8,251.8 597.2,248.2 603.2,238.2 607.2,233.8 608.8,217.8 609.8,214.2 618.2,199.8 622.8,185.8 626.2,179.8 626.8,174.2ZM129.8,139.8 126.8,142.8 119.2,148.2 118.8,151.8 120.8,153.8 125.2,155.8 139.8,157.8 140.8,158.8 140.8,161.8 136.8,167.2 132.2,169.8 126.2,171.2 119.8,174.2 114.2,178.8 114.2,180.2 119.8,184.2 124.8,186.8 135.8,189.8 138.8,191.2 141.8,194.2 144.2,200.2 146.8,215.2 148.2,217.2 149.2,217.8 155.2,217.8 155.8,217.2 160.2,217.8 167.2,219.8 172.2,218.8 177.8,216.8 181.2,214.2 184.8,210.2 189.2,199.2 188.8,170.8 188.2,170.2 188.2,162.8 187.2,160.8 185.2,158.8 182.8,159.2 179.2,162.8 177.8,166.8 173.2,171.8 169.8,173.8 166.2,174.2 161.8,171.8 157.2,167.2 153.2,159.8 150.2,155.8 147.8,149.2 146.2,147.8 132.2,139.2ZM286.8,133.2 283.8,135.8 281.2,142.8 281.2,147.2 282.8,154.2 284.2,157.8 286.2,159.8 288.2,159.8 291.8,156.2 296.2,146.2 296.2,143.2 291.8,136.8 288.8,133.8ZM593.8,125.2 588.8,120.8 582.2,117.8 579.8,117.8 566.8,122.2 562.8,124.2 560.8,127.2 559.8,145.2 557.2,150.8 554.2,153.2 551.8,153.2 540.2,147.2 538.2,146.8 533.2,147.2 529.2,150.2 528.2,153.2 528.8,159.2 530.2,163.2 532.8,166.2 536.8,169.2 557.2,177.2 563.2,178.8 572.2,175.8 575.2,173.2 575.8,170.8 570.8,165.2 571.2,162.2 574.8,158.8 580.8,156.2 583.2,156.2 588.8,154.8 591.8,151.8 593.2,146.2ZM162.2,84.8 162.2,88.2 163.8,90.2 167.8,92.8 172.8,93.2 173.2,93.8 184.2,94.2 189.2,91.2 191.2,88.2 191.2,84.2 189.8,81.2 164.8,81.2Z"/>
<path fill="#600000" fill-rule="evenodd" stroke="#d8d8d8" stroke-opacity="0.22" stroke-width="0.6" d="M669.8,653.8 667.8,654.8 662.2,659.8 659.2,663.8 659.8,665.8 667.8,668.2 671.2,668.2 672.8,667.2 673.2,662.2 671.2,655.2ZM221.2,625.2 218.2,625.2 203.2,629.2 201.2,631.2 197.2,649.8 194.8,654.2 189.8,658.8 181.2,662.8 177.8,666.2 173.8,673.8 171.2,676.2 167.2,678.8 163.8,682.8 163.2,685.2 165.2,689.8 167.2,692.8 175.8,701.2 175.8,703.8 173.8,708.2 167.2,716.8 166.2,720.2 166.2,728.8 188.8,728.8 188.8,718.2 191.8,710.2 196.2,705.8 202.2,703.2 203.8,701.8 205.8,687.8 207.8,680.2 210.8,674.8 215.2,670.2 219.8,667.8 221.8,665.8 222.2,663.8 223.2,647.8 223.8,647.2 223.8,642.8 224.2,642.2 225.2,630.8 224.2,628.2ZM607.2,619.8 606.2,620.8 607.2,620.8ZM574.2,541.8 572.2,543.2 570.8,546.2 570.8,552.2 573.2,558.2 572.8,575.2 574.2,580.2 578.2,586.8 583.2,591.2 592.2,596.2 597.2,597.8 599.8,597.8 605.2,593.8 609.2,587.8 611.8,580.2 611.8,574.2 609.8,568.8 607.2,564.2 601.2,557.8 597.2,554.8 592.2,552.2 586.2,550.2 579.8,542.2 577.2,541.2ZM238.2,502.2 221.8,500.2 219.2,503.8 218.2,509.2 216.2,514.2 213.2,517.2 206.2,519.8 199.8,520.8 193.8,523.2 191.2,526.8 186.8,530.2 185.8,531.8 184.2,536.8 184.2,539.8 186.2,541.2 202.2,540.8 203.2,540.2 204.2,538.8 205.2,532.2 207.2,527.8 210.2,525.2 215.2,523.8 220.2,523.2 222.2,522.2 223.2,520.8 223.8,516.8 225.8,511.8 228.8,508.8 230.8,507.8 238.2,505.8 238.8,504.8ZM472.2,395.2 458.8,400.8 457.2,400.8 450.2,405.2 443.2,408.8 436.2,411.2 432.8,414.8 432.2,416.2 427.8,421.8 426.2,424.8 425.2,430.2 424.2,432.2 420.8,435.8 410.8,441.8 402.2,445.8 398.8,449.2 397.8,458.8 399.2,461.8 399.8,466.8 401.2,469.8 405.2,473.8 407.8,478.8 409.8,486.8 410.8,494.8 413.8,503.2 414.2,509.2 413.8,509.8 413.8,515.2 413.2,515.8 412.8,521.2 410.2,526.8 405.8,531.2 399.2,534.8 392.8,540.2 393.8,560.2 394.2,560.8 394.8,569.2 395.8,573.8 395.2,577.8 392.8,580.2 390.8,581.2 385.2,581.8 372.8,584.2 362.2,587.8 360.2,589.8 359.8,592.2 357.8,595.2 357.2,597.2 362.2,602.2 362.8,604.2 372.2,604.2 377.2,605.2 389.8,605.8 393.2,606.8 395.8,609.2 396.2,613.8 395.2,615.2 391.2,628.8 395.8,663.8 399.2,670.2 409.8,682.2 412.2,686.8 413.2,699.2 418.8,705.2 421.8,707.2 427.2,712.8 430.2,719.8 430.2,728.8 456.8,728.8 456.8,720.8 459.2,718.2 463.2,716.2 472.2,713.8 478.8,714.2 488.8,716.2 496.2,716.2 502.8,717.8 506.2,721.2 506.2,728.8 552.2,728.8 552.2,720.8 545.2,711.8 538.8,706.8 534.8,701.2 525.2,693.8 520.2,688.8 515.2,679.2 509.8,665.2 506.2,661.2 501.2,653.8 498.8,648.8 498.2,646.8 498.2,630.2 498.8,629.8 499.2,620.2 499.8,619.8 499.2,609.8 496.8,599.8 496.2,595.2 491.2,583.2 491.2,577.8 489.8,573.8 486.2,569.8 479.2,565.8 473.8,564.2 464.8,563.2 460.2,561.8 457.2,557.8 456.8,554.8 454.8,549.8 447.2,542.2 446.2,540.2 446.8,537.8 448.8,534.2 453.8,527.8 457.2,520.8 459.8,518.2 467.8,513.8 486.8,507.2 489.8,506.8 491.8,505.8 493.8,503.2 495.2,486.2 494.2,482.8 490.8,475.8 485.8,468.2 485.8,462.8 486.8,459.8 491.2,454.2 493.2,450.2 493.2,426.2 491.2,420.8 485.8,414.2 484.8,403.2 483.2,398.2 479.8,396.2ZM426.8,591.2 426.8,594.2 424.8,597.2 422.8,599.2 418.8,601.2 401.2,601.2 394.8,599.8 392.2,597.8 395.2,595.2 405.8,592.8 406.8,591.8 407.2,588.2 409.8,584.8 412.2,583.2 418.2,581.2 420.2,581.8 423.8,584.8ZM400.8,540.2 401.8,538.8 405.8,536.8 413.2,536.8 417.2,538.2 418.8,539.8 419.2,541.8 416.8,544.2 414.8,545.2 407.2,545.8 402.8,544.2 400.8,542.2ZM670.2,385.2 669.2,386.8 668.2,390.8 668.2,397.2 670.2,400.8 671.2,400.8 673.2,398.2 673.8,393.8 671.8,386.8ZM158.8,360.2 158.2,362.2 158.8,362.8 159.8,379.2 159.2,379.8 159.2,382.8 157.8,390.2 155.8,396.8 155.2,408.2 154.8,408.8 154.8,412.8 156.8,414.8 166.2,419.2 177.8,421.2 180.8,422.2 184.8,424.8 193.2,426.8 195.2,427.8 200.2,433.2 203.2,434.8 206.2,434.8 206.8,434.2 222.8,434.2 223.2,433.8 236.2,432.8 238.2,432.2 239.8,430.2 239.2,414.8 238.2,413.8 224.2,412.8 219.2,411.8 214.8,409.8 212.2,406.8 211.2,403.8 211.2,399.8 214.2,395.2 219.2,390.2 221.8,386.8 223.2,382.8 223.8,378.8 222.8,376.2 220.8,374.2 211.8,372.2 208.8,369.2 207.2,365.2 206.8,360.8 203.2,355.2 200.8,353.8 193.2,351.2 184.2,349.8 167.8,354.2 162.8,356.8ZM418.8,239.8 417.2,240.2 411.8,245.8 408.2,250.8 407.8,253.2 405.2,255.8 400.2,256.2 399.8,256.8 395.8,256.8 388.8,258.2 385.2,259.8 383.2,261.8 383.2,263.2 385.2,265.2 390.2,267.8 395.2,269.2 402.2,273.2 407.8,273.2 409.8,274.2 409.8,277.2 408.8,280.8 408.8,286.8 409.8,289.2 412.8,292.8 416.2,298.8 419.8,311.2 425.2,322.2 425.2,325.8 423.8,328.8 417.2,335.2 411.2,338.8 401.8,341.2 385.2,341.2 383.2,341.8 381.8,343.2 377.8,353.2 371.8,360.8 365.8,372.8 364.2,377.8 367.8,383.2 369.8,388.2 369.8,399.8 370.8,404.2 372.8,408.2 377.8,413.2 382.8,416.8 386.8,415.2 395.2,409.2 407.8,402.2 411.2,399.2 416.8,392.8 434.2,383.2 439.2,378.8 439.8,377.8 439.8,369.8 440.2,369.2 440.2,357.8 442.2,348.2 444.8,343.2 447.8,340.2 453.8,337.8 456.2,335.2 460.2,325.8 460.2,322.2 455.8,306.8 453.8,304.8 447.2,301.2 443.2,296.8 443.2,294.2 446.2,288.8 446.2,284.8 445.2,282.8 439.2,278.8 433.8,277.2 424.2,276.2 418.8,273.2 413.8,272.2 415.2,270.2 420.8,267.2 425.2,261.8 431.8,258.8 433.8,256.8 433.8,252.8 431.8,250.8 426.2,247.8ZM616.8,176.8 612.8,176.2 612.2,176.8 599.8,177.2 598.2,178.8 595.8,185.2 593.2,189.2 587.2,194.2 582.8,195.8 580.2,197.8 580.2,201.2 581.2,205.2 582.8,208.2 589.2,215.2 589.2,216.2 586.8,218.8 582.8,220.2 576.2,228.2 569.8,231.8 564.8,232.8 562.2,234.8 563.2,240.8 564.8,244.2 571.2,250.8 575.2,252.2 578.2,252.2 578.8,252.8 581.8,252.2 583.8,250.2 586.8,244.2 591.2,239.8 599.2,235.2 600.2,233.2 600.2,217.2 601.8,210.8 603.8,205.2 609.2,194.2 613.2,190.2 614.8,189.8 617.8,186.2 619.2,182.2 619.2,179.2ZM542.2,163.2 544.8,165.2 548.8,165.2 554.2,163.8 556.2,161.8 551.2,160.2 544.2,160.2 542.2,161.8ZM581.8,123.2 579.8,123.2 572.8,126.2 571.2,128.8 566.8,142.2 566.8,145.2 569.8,148.2 579.8,150.2 582.8,149.2 586.8,144.8 587.2,140.2 586.8,139.8 586.2,127.2 583.8,124.2Z"/>
<path fill="#8B0000" fill-rule="evenodd" stroke="#d8d8d8" stroke-opacity="0.22" stroke-width="0.6" d="M532.2,725.2 532.2,728.8 539.8,728.8 539.8,725.2ZM403.2,588.2 401.8,584.8 399.2,583.2 392.8,583.2 392.2,583.8 388.8,583.8 384.2,584.8 376.8,588.2 372.2,591.2 368.8,594.8 368.2,598.8 369.2,599.8 374.8,599.8 385.8,595.8 391.8,595.8 399.8,593.8 402.8,592.2ZM473.8,565.8 458.8,565.2 454.8,563.8 450.8,564.2 447.2,565.8 445.2,567.8 443.8,570.8 442.8,576.2 435.2,584.2 433.8,587.8 432.8,593.8 430.8,597.2 423.2,604.2 419.2,606.2 411.8,607.8 407.2,610.2 401.8,617.2 396.8,629.2 396.8,650.2 397.2,650.8 397.2,654.8 399.2,664.8 402.2,669.8 415.2,683.8 417.2,687.8 417.2,691.8 416.2,696.2 417.8,700.2 422.2,704.8 428.2,708.8 433.2,714.2 435.2,719.8 435.2,728.8 442.8,728.8 442.8,721.2 445.2,718.2 451.2,715.8 460.8,713.2 469.2,712.2 469.8,711.8 478.8,711.8 483.8,712.8 493.8,712.8 509.8,708.2 524.8,707.8 525.8,706.2 525.8,703.2 524.2,701.8 520.8,700.2 516.8,696.2 514.2,692.8 512.2,688.2 511.8,683.8 510.2,680.2 506.8,667.2 497.8,653.2 495.8,648.2 495.8,639.8 496.2,639.2 496.2,634.8 496.8,634.2 496.8,628.8 497.8,624.8 497.8,613.8 496.2,606.2 492.2,594.2 486.8,586.8 486.8,582.2 487.8,579.8 487.2,574.2 481.8,568.8ZM587.2,562.2 584.2,563.8 581.2,566.8 579.8,569.2 578.8,572.8 578.8,577.2 579.8,580.8 581.8,584.2 585.2,587.8 587.8,589.2 593.2,590.8 597.8,590.2 602.8,586.8 605.8,580.8 605.8,573.8 601.8,566.2 598.8,563.8 594.2,561.8ZM400.2,555.2 400.2,561.2 402.2,565.8 405.2,568.2 410.2,569.8 415.8,569.2 419.8,567.8 423.8,565.2 427.2,564.2 432.2,561.8 435.8,558.8 435.8,557.2 432.2,554.2 420.8,549.2 413.2,547.2 407.8,547.8 404.8,549.2 402.2,551.2ZM472.8,408.8 454.2,410.8 452.8,411.8 446.8,413.2 437.8,416.8 432.8,421.8 431.2,424.8 431.2,430.2 432.2,432.8 432.2,436.2 431.2,438.2 428.2,441.2 424.2,443.2 417.8,444.8 409.2,449.2 406.8,452.8 402.8,454.8 401.2,456.2 401.2,458.8 403.2,460.8 409.2,462.8 411.8,464.8 413.2,472.8 413.8,488.2 415.8,495.2 418.2,500.8 422.2,506.8 435.8,520.8 437.2,520.8 441.2,517.8 444.8,516.2 454.8,514.2 458.8,512.2 471.2,508.2 472.8,508.2 483.8,504.2 486.8,502.2 490.2,495.8 491.2,491.2 490.8,483.8 487.8,479.8 480.8,467.2 478.2,455.8 477.2,453.2 474.8,450.2 474.8,449.2 480.2,443.8 483.8,436.8 487.8,431.8 488.8,428.8 488.8,425.8 487.8,423.2 483.2,418.8 478.8,415.8ZM192.2,355.8 187.8,354.2 181.2,354.2 172.8,357.2 168.8,359.2 166.8,361.2 166.2,367.2 165.8,367.8 165.8,377.8 166.2,378.2 166.2,382.2 167.8,390.2 167.8,396.2 166.2,400.2 164.2,409.2 164.2,413.2 165.8,414.8 173.2,415.2 173.8,414.8 178.8,414.8 183.8,413.8 185.2,412.8 187.2,409.2 191.2,405.2 202.2,401.2 207.2,397.8 214.8,390.8 217.8,385.8 218.2,381.8 216.8,379.8 211.2,379.2 204.8,381.2 201.8,381.2 200.2,379.8 200.8,367.2 199.8,362.2 197.2,358.8ZM432.8,346.8 430.2,345.8 422.8,346.2 419.8,345.2 410.8,346.8 393.2,351.8 388.8,354.2 384.8,357.8 383.2,360.2 379.8,372.2 376.8,378.8 376.8,380.2 372.2,394.8 372.2,400.8 374.2,406.2 377.8,409.8 382.2,412.8 384.2,412.8 393.8,407.8 404.2,401.2 415.8,388.8 424.2,383.8 431.8,380.2 434.8,377.8 437.2,370.2 437.8,358.8 436.2,351.8ZM433.8,301.8 430.2,305.8 428.8,311.8 428.8,318.2 429.8,321.8 431.8,325.2 434.2,328.2 438.8,330.8 443.8,330.8 444.2,330.2 454.2,329.2 455.8,327.8 457.2,323.8 454.8,314.2 452.8,310.8 449.8,307.2 443.8,303.8 440.2,302.8 436.8,300.8ZM410.2,255.8 410.2,257.2 411.2,258.2 417.8,260.2 422.8,260.2 429.8,258.2 431.2,256.8 431.2,255.2 430.2,254.2 424.8,251.8 419.2,247.2 418.2,247.2 415.8,249.8 414.8,251.8 411.2,254.2Z"/>
<path fill="#E03010" fill-rule="evenodd" stroke="#d8d8d8" stroke-opacity="0.22" stroke-width="0.6" d="M400.2,587.8 398.2,585.8 395.2,584.8 390.2,584.8 385.2,585.8 379.2,588.2 374.8,591.2 371.8,594.2 371.2,597.2 371.8,597.8 376.8,597.8 386.2,594.2 392.2,594.2 397.2,593.2 400.2,590.8ZM474.8,568.2 465.2,567.8 458.8,569.2 455.2,570.8 452.2,574.8 451.2,579.2 449.2,583.8 437.2,594.8 432.8,602.2 426.8,607.2 421.2,609.8 417.2,610.8 414.2,612.8 411.8,616.8 402.8,626.8 400.8,630.2 399.8,641.8 399.2,642.2 399.2,651.2 399.8,651.8 399.8,655.2 400.8,660.2 402.2,664.8 406.8,670.8 417.2,680.2 419.2,683.8 422.8,687.2 422.8,690.8 421.2,694.2 421.2,698.8 424.2,702.8 431.8,707.8 437.2,713.2 449.8,712.2 450.2,711.8 456.2,711.8 456.8,711.2 469.2,710.2 469.8,709.8 490.8,710.2 496.8,708.8 504.8,704.8 508.2,701.2 508.8,699.8 508.8,694.8 507.2,687.8 507.2,682.2 504.2,669.8 502.2,664.8 494.8,653.8 492.8,647.8 492.8,642.8 494.2,636.8 494.8,629.8 495.8,625.8 495.8,614.8 494.8,609.8 492.2,602.8 489.8,598.2 480.8,588.8 480.8,586.8 483.8,577.8 483.2,574.2 480.8,571.2ZM408.8,551.8 406.8,552.8 404.2,555.8 403.8,557.2 404.2,561.2 408.2,565.2 409.8,565.8 414.2,565.2 417.8,562.2 418.8,560.2 418.8,556.8 415.8,552.8 413.8,551.8ZM405.2,456.8 405.2,458.8 407.8,460.2 414.8,461.8 422.8,462.2 423.8,463.2 423.2,466.2 418.8,476.2 418.2,481.2 417.8,481.8 417.8,486.2 420.2,496.2 422.2,500.2 425.8,503.2 430.2,503.2 436.8,506.8 440.8,507.8 450.2,508.2 450.8,507.8 455.8,507.8 471.8,503.8 475.2,501.8 480.2,496.2 483.8,489.8 484.2,485.2 482.2,480.2 476.8,469.8 473.8,462.2 470.2,459.8 455.2,455.2 430.2,455.8 426.8,454.2 420.2,452.8 410.8,454.2ZM437.2,425.2 437.2,427.2 438.2,429.8 441.8,433.2 453.8,440.2 456.2,440.2 463.8,437.2 472.2,435.2 478.2,431.8 481.2,427.8 481.2,424.8 478.8,421.2 472.2,417.2 467.2,416.8 466.8,416.2 454.2,416.2 448.2,417.8 439.8,421.8ZM181.8,358.2 179.8,358.8 174.8,361.8 171.8,367.2 170.8,374.8 171.8,379.8 175.2,385.8 178.8,388.8 182.8,390.8 186.2,390.8 189.2,388.8 194.2,382.8 196.2,376.2 196.2,369.8 193.2,362.2 191.2,360.2 187.2,358.2ZM431.8,350.8 429.2,350.2 426.8,351.2 424.2,353.2 422.2,353.2 420.2,351.8 414.2,352.2 401.8,356.2 397.8,358.2 394.8,360.8 387.8,375.8 380.8,383.8 375.2,394.8 375.2,401.2 376.2,403.8 379.2,406.8 382.8,408.2 384.2,408.2 389.8,406.2 399.8,400.8 405.8,395.8 409.2,390.2 412.8,386.2 414.8,384.8 422.8,381.2 426.2,378.8 430.2,377.2 433.2,374.2 435.8,368.2 436.2,360.8 435.2,355.8 433.8,352.8ZM436.2,307.8 433.8,310.8 432.2,314.2 432.2,317.8 433.8,321.8 436.2,324.2 439.8,325.8 443.8,325.8 448.8,323.8 450.2,321.8 450.2,315.8 448.8,312.2 445.2,308.8 441.8,307.2 437.2,307.2ZM413.2,256.2 413.8,257.2 417.2,258.8 424.2,258.8 426.2,258.2 428.2,256.8 428.2,255.8 427.2,254.8 422.2,253.2 417.8,253.2 414.2,254.8Z"/>
<path fill="#D2691E" fill-rule="evenodd" stroke="#d8d8d8" stroke-opacity="0.22" stroke-width="0.6" d="M472.2,592.2 470.8,592.2 465.8,594.2 455.8,594.8 454.2,595.8 450.8,600.2 447.2,602.8 436.8,606.8 434.2,609.2 428.2,612.8 423.2,618.2 417.8,621.2 415.2,623.8 410.8,626.8 407.2,630.2 403.8,638.2 402.2,645.2 402.2,650.8 402.8,651.2 403.2,656.8 405.2,662.8 407.2,666.2 412.8,671.2 418.8,675.2 425.2,676.2 428.8,678.8 430.8,682.2 431.8,686.8 430.2,690.2 427.8,693.8 427.2,698.8 428.2,700.8 430.8,703.2 438.2,708.2 459.8,708.8 460.2,708.2 466.2,708.2 466.8,707.8 472.2,707.8 472.8,707.2 480.2,707.2 480.8,707.8 490.8,707.2 498.2,704.2 501.8,701.2 503.2,697.2 503.2,690.8 502.8,690.2 503.2,682.8 502.8,682.2 502.8,678.8 501.2,671.8 498.8,665.2 488.8,651.2 487.8,648.2 487.8,644.2 491.2,635.2 492.8,627.8 492.8,624.8 493.2,624.2 493.2,618.8 491.8,610.8 488.8,605.2 485.2,601.8 476.8,597.8 473.8,594.8ZM387.8,589.8 389.8,591.2 392.8,591.2 397.2,589.8 397.8,587.8 396.8,586.8 392.2,586.2 389.2,587.8ZM466.8,576.8 466.2,578.8 467.2,581.2 471.8,585.2 476.2,585.8 478.8,584.2 479.2,582.8 478.8,580.2 475.2,576.8 471.2,575.2 469.2,575.2ZM423.2,481.2 422.8,489.8 424.2,493.2 426.8,495.8 431.8,496.8 436.8,499.8 444.2,501.8 454.8,501.8 462.2,499.8 466.2,497.8 470.2,494.8 473.8,489.8 474.8,486.2 473.2,478.8 471.8,476.2 468.2,472.8 462.2,469.2 455.8,467.2 452.2,467.2 451.8,466.8 441.8,467.2 435.2,469.2 427.8,475.2 425.2,477.8ZM184.8,369.2 181.2,371.8 180.2,376.8 182.8,381.2 187.2,381.8 189.2,380.2 190.8,375.2 189.2,371.2 186.2,369.2ZM419.2,357.8 416.8,357.8 410.8,360.2 407.8,364.2 402.2,369.8 400.2,373.8 397.8,376.2 389.8,381.2 383.2,387.2 379.2,394.8 379.2,399.2 381.8,402.2 383.8,402.8 387.8,402.2 394.8,399.2 400.8,394.8 405.8,388.2 408.8,381.2 410.2,379.8 411.8,379.2 419.2,379.2 421.2,377.8 421.8,376.8 421.8,360.8Z"/>
<path d="M234.4,81V729M246.2,81V729" stroke="#0A7A0A" stroke-width="2.2" stroke-dasharray="5.8,3.9" stroke-dashoffset="1.3" fill="none"/>
</g>
<rect x="104" y="81" width="648" height="648" fill="none" stroke="#000" stroke-width="2"/>
<path d="M158,72V81M158,729V738M266,72V81M266,729V738M374,72V81M374,729V738M482,72V81M482,729V738M590,72V81M590,729V738M698,72V81M698,729V738M95,135H104M752,135H761M95,189H104M752,189H761M95,297H104M752,297H761M95,351H104M752,351H761M95,459H104M752,459H761M95,513H104M752,513H761M95,621H104M752,621H761M95,675H104M752,675H761" stroke="#808080" stroke-width="1.8" fill="none"/>
<path d="M104,63V81M104,729V747M212,63V81M212,729V747M320,63V81M320,729V747M428,63V81M428,729V747M536,63V81M536,729V747M644,63V81M644,729V747M752,63V81M752,729V747M86,81H104M752,81H770M86,243H104M752,243H770M86,405H104M752,405H770M86,567H104M752,567H770M86,729H104M752,729H770" stroke="#000" stroke-width="2" fill="none"/>
<text transform="translate(104,779) scale(0.945,1)" font-size="23.8" text-anchor="middle">0</text>
<text transform="translate(212,779) scale(0.945,1)" font-size="23.8" text-anchor="middle">60E</text>
<text transform="translate(320,779) scale(0.945,1)" font-size="23.8" text-anchor="middle">120E</text>
<text transform="translate(428,779) scale(0.945,1)" font-size="23.8" text-anchor="middle">180</text>
<text transform="translate(536,779) scale(0.945,1)" font-size="23.8" text-anchor="middle">120W</text>
<text transform="translate(644,779) scale(0.945,1)" font-size="23.8" text-anchor="middle">60W</text>
<text transform="translate(752,779) scale(0.945,1)" font-size="23.8" text-anchor="middle">0</text>
<text transform="translate(71.5,89.3) scale(0.945,1)" font-size="23.8" text-anchor="end">18-Nov</text>
<text transform="translate(71.5,251.3) scale(0.945,1)" font-size="23.8" text-anchor="end">9-Dec</text>
<text transform="translate(71.5,413.3) scale(0.945,1)" font-size="23.8" text-anchor="end">30-Dec</text>
<text transform="translate(71.5,575.3) scale(0.945,1)" font-size="23.8" text-anchor="end">20-Jan</text>
<text transform="translate(71.5,737.3) scale(0.945,1)" font-size="23.8" text-anchor="end">10-Feb</text>
<rect x="107.20" y="794" width="29.22" height="18.5" fill="#191970" stroke="#000" stroke-width="1"/>
<rect x="136.42" y="794" width="29.22" height="18.5" fill="#104E8B" stroke="#000" stroke-width="1"/>
<rect x="165.64" y="794" width="29.22" height="18.5" fill="#4876FF" stroke="#000" stroke-width="1"/>
<rect x="194.86" y="794" width="29.22" height="18.5" fill="#5CACEE" stroke="#000" stroke-width="1"/>
<rect x="224.08" y="794" width="29.22" height="18.5" fill="#ADD8E6" stroke="#000" stroke-width="1"/>
<rect x="253.30" y="794" width="29.22" height="18.5" fill="#A9A9A9" stroke="#000" stroke-width="1"/>
<rect x="282.52" y="794" width="29.22" height="18.5" fill="#8C8C8C" stroke="#000" stroke-width="1"/>
<rect x="311.74" y="794" width="29.22" height="18.5" fill="#7A7A7A" stroke="#000" stroke-width="1"/>
<rect x="340.96" y="794" width="29.22" height="18.5" fill="#5E5E5E" stroke="#000" stroke-width="1"/>
<rect x="370.18" y="794" width="29.22" height="18.5" fill="#525252" stroke="#000" stroke-width="1"/>
<rect x="399.40" y="794" width="29.22" height="18.5" fill="#3D3D3D" stroke="#000" stroke-width="1"/>
<rect x="428.62" y="794" width="29.22" height="18.5" fill="#383838" stroke="#000" stroke-width="1"/>
<rect x="457.84" y="794" width="29.22" height="18.5" fill="#303030" stroke="#000" stroke-width="1"/>
<rect x="487.06" y="794" width="29.22" height="18.5" fill="#400000" stroke="#000" stroke-width="1"/>
<rect x="516.28" y="794" width="29.22" height="18.5" fill="#600000" stroke="#000" stroke-width="1"/>
<rect x="545.50" y="794" width="29.22" height="18.5" fill="#8B0000" stroke="#000" stroke-width="1"/>
<rect x="574.72" y="794" width="29.22" height="18.5" fill="#E03010" stroke="#000" stroke-width="1"/>
<rect x="603.94" y="794" width="29.22" height="18.5" fill="#D2691E" stroke="#000" stroke-width="1"/>
<text x="136.42" y="830" font-size="15.6" text-anchor="middle">228</text>
<text x="165.64" y="830" font-size="15.6" text-anchor="middle">230</text>
<text x="194.86" y="830" font-size="15.6" text-anchor="middle">232</text>
<text x="224.08" y="830" font-size="15.6" text-anchor="middle">234</text>
<text x="253.30" y="830" font-size="15.6" text-anchor="middle">236</text>
<text x="282.52" y="830" font-size="15.6" text-anchor="middle">238</text>
<text x="311.74" y="830" font-size="15.6" text-anchor="middle">240</text>
<text x="340.96" y="830" font-size="15.6" text-anchor="middle">242</text>
<text x="370.18" y="830" font-size="15.6" text-anchor="middle">244</text>
<text x="399.40" y="830" font-size="15.6" text-anchor="middle">246</text>
<text x="428.62" y="830" font-size="15.6" text-anchor="middle">248</text>
<text x="457.84" y="830" font-size="15.6" text-anchor="middle">250</text>
<text x="487.06" y="830" font-size="15.6" text-anchor="middle">252</text>
<text x="516.28" y="830" font-size="15.6" text-anchor="middle">254</text>
<text x="545.50" y="830" font-size="15.6" text-anchor="middle">256</text>
<text x="574.72" y="830" font-size="15.6" text-anchor="middle">258</text>
<text x="603.94" y="830" font-size="15.6" text-anchor="middle">260</text>
<text x="700.6" y="819.5" font-size="23" text-anchor="middle">K</text>
</svg></body></html>
